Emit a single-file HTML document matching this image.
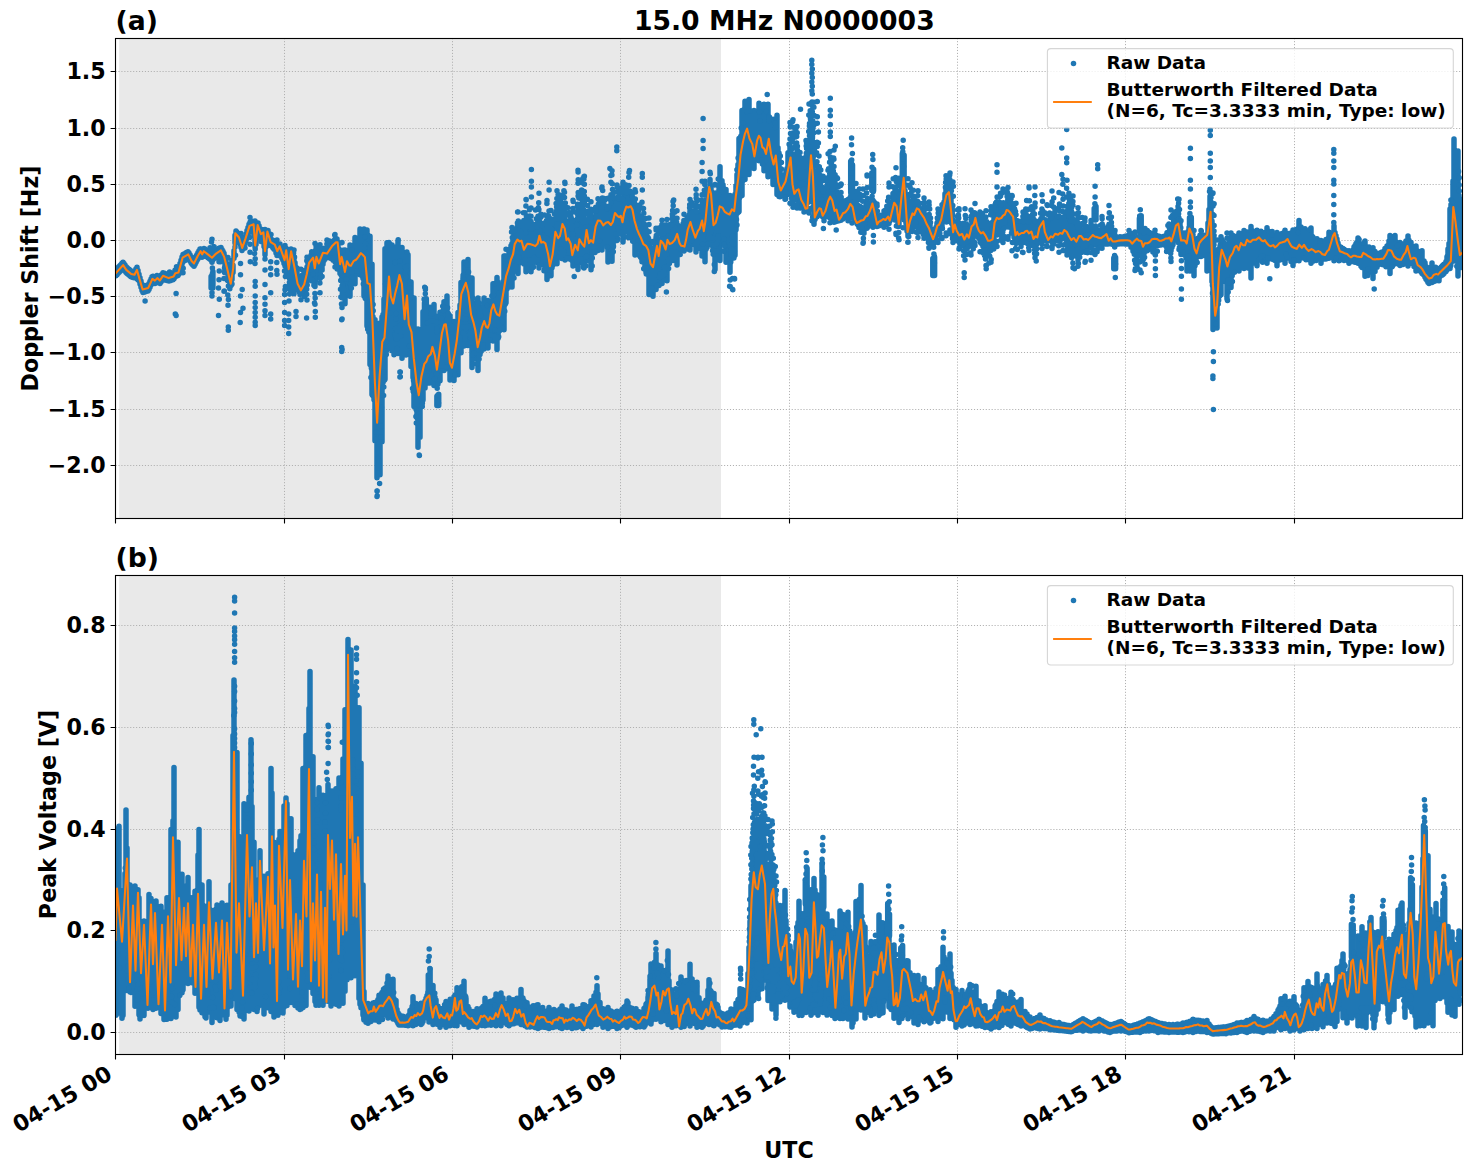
<!DOCTYPE html><html><head><meta charset="utf-8"><title>15.0 MHz N0000003</title><style>
html,body{margin:0;padding:0;background:#fff}svg{display:block}text{font-family:"DejaVu Sans","Liberation Sans",sans-serif;font-weight:bold;fill:#000}.tk text{font-size:22.2px}.lg text{font-size:18.5px}.ti{font-size:26.67px}.pl{font-size:26.67px}.al{font-size:22.2px}.b{stroke:#1f77b4;stroke-width:5.5;stroke-linecap:round;fill:none}.o{stroke:#ff7f0e;stroke-width:2.08;stroke-linejoin:round;stroke-linecap:square;fill:none}
</style></head><body>
<svg width="1471" height="1172" viewBox="0 0 1471 1172">
<rect width="1471" height="1172" fill="#fff"/>
<defs><clipPath id="c1"><rect x="115.5" y="38.5" width="1347" height="480"/></clipPath><clipPath id="c2"><rect x="115.5" y="575.5" width="1347" height="479"/></clipPath></defs>
<rect x="115.5" y="38.5" width="1347.0" height="480.0" fill="#fff"/><rect x="119.2" y="38.5" width="601.8" height="480.0" fill="#e9e9e9"/>
<g stroke="#b0b0b0" stroke-width="1" stroke-dasharray="1.11 1.83" fill="none"><path d="M284.5 518.5V38.5"/><path d="M452.5 518.5V38.5"/><path d="M620.5 518.5V38.5"/><path d="M789.5 518.5V38.5"/><path d="M957.5 518.5V38.5"/><path d="M1125.5 518.5V38.5"/><path d="M1294.5 518.5V38.5"/><path d="M115.5 71.5H1462.5"/><path d="M115.5 128.5H1462.5"/><path d="M115.5 184.5H1462.5"/><path d="M115.5 240.5H1462.5"/><path d="M115.5 296.5H1462.5"/><path d="M115.5 352.5H1462.5"/><path d="M115.5 409.5H1462.5"/><path d="M115.5 465.5H1462.5"/></g>
<g clip-path="url(#c1)"><path d="M116.0 269.8V275.8M117.0 268.6V274.7M118.0 267.6V273.6M119.0 266.5V272.5M120.0 265.4V271.4M121.0 264.4V270.3M122.0 263.2V269.3M123.0 262.2V268.1M124.0 263.5V269.5M125.0 265.0V270.9M126.0 266.4V272.4M127.0 267.4V273.5M128.0 268.4V274.3M129.0 269.2V275.1M130.0 270.0V276.0M131.0 270.9V276.8M132.0 271.2V277.2M133.0 271.4V277.4M134.0 271.5V277.7M135.0 270.6V276.9M136.0 268.7V275.0M137.0 267.2V273.9M138.0 270.6V277.3M139.0 274.2V280.6M140.0 277.7V284.0M141.0 280.9V287.3M142.0 284.2V290.5M143.0 286.3V292.5M144.0 286.0V292.2M145.0 285.7V291.9M146.0 285.5V291.6M147.0 285.3V291.3M148.0 285.0V291.1M149.0 283.5V289.5M150.0 281.2V287.3M151.0 279.0V285.1M152.0 276.8V282.9M153.0 276.2V282.4M154.0 276.9V283.0M155.0 277.3V283.5M156.0 276.4V282.6M157.0 275.5V281.8M158.0 275.8V282.2M159.0 276.8V283.0M160.0 277.1V283.4M161.0 275.6V281.9M162.0 274.2V280.5M163.0 272.7V279.2M164.0 273.1V279.3M165.0 273.4V279.9M166.0 273.7V280.3M167.0 274.1V280.6M168.0 274.4V280.8M169.0 274.5V281.1M170.0 274.3V280.7M171.0 274.1V280.4M172.0 273.8V280.0M173.0 273.4V279.7M174.0 272.4V278.7M175.0 270.3V276.9M176.0 269.7V276.1M177.0 269.5V275.9M178.0 269.0V275.6M179.0 267.4V273.9M180.0 263.6V270.7M181.0 260.3V267.5M182.0 256.9V264.3M183.0 254.5V262.1M184.0 254.0V260.8M185.0 253.4V260.4M186.0 252.8V259.8M187.0 252.2V258.6M188.0 251.7V258.0M189.0 252.9V259.1M190.0 254.8V260.9M191.0 256.7V262.8M192.0 258.2V264.3M193.0 259.2V265.3M194.0 260.3V266.3M195.0 258.3V264.4M196.0 256.3V262.6M197.0 254.4V260.6M198.0 252.4V258.7M199.0 250.7V256.9M200.0 249.1V255.6M201.0 249.0V255.3M202.0 250.8V257.3M203.0 249.7V256.1M204.0 248.4V254.6M205.0 249.1V255.7M206.0 249.9V256.4M207.0 250.6V256.9M208.0 251.4V257.7M209.0 252.2V258.5M210.0 252.8V259.2M211.0 253.2V260.0M212.0 253.6V260.6M213.0 253.1V259.7M214.0 252.4V258.8M215.0 251.4V258.2M216.0 250.5V257.8M217.0 249.7V257.7M218.0 249.0V257.7M219.0 248.3V257.0M220.0 247.8V256.1M221.0 247.4V257.6M222.0 249.4V259.1M223.0 251.2V259.5M224.0 253.2V261.5M225.0 256.7V266.2M226.0 260.5V268.7M227.0 264.3V272.8M228.0 267.8V277.0M229.0 272.1V280.8M230.0 276.0V284.4M231.0 277.4V285.6M232.0 272.1V279.4M233.0 265.3V272.6M234.0 250.8V258.2M235.0 235.2V243.1M236.0 231.1V238.8M237.0 232.2V239.3M238.0 233.3V240.0M239.0 234.5V241.9M240.0 237.6V244.3M241.0 240.6V247.4M242.0 244.0V250.4M243.0 241.9V248.6M244.0 239.6V246.0M245.0 236.9V243.6M246.0 233.9V241.0M247.0 230.6V238.0M248.0 227.4V234.8M249.0 224.2V231.6M250.0 222.2V231.3M251.0 221.8V231.7M252.0 221.6V231.3M253.0 221.4V229.4M254.0 226.2V235.9M255.0 238.3V246.6M256.0 234.6V244.6M257.0 227.3V236.3M258.0 223.1V231.7M259.0 225.8V232.6M260.0 228.5V235.5M261.0 230.9V237.2M262.0 230.3V237.7M263.0 229.7V237.0M264.0 235.8V243.8M265.0 247.2V254.8M266.0 239.8V246.7M267.0 232.2V239.3M268.0 230.4V238.6M269.0 233.6V241.2M270.0 236.7V243.4M271.0 238.9V245.6M272.0 239.8V246.5M273.0 240.2V248.0M274.0 240.8V249.2M275.0 241.9V249.2M276.0 244.5V253.3M277.0 247.2V255.6M278.0 246.3V254.3M279.0 244.5V254.5M280.0 244.1V252.1M281.0 246.8V256.1M282.0 249.4V258.4M283.0 252.1V260.2M284.0 254.9V263.5M285.0 253.7V266.0M286.0 248.4V262.7M287.0 252.4V272.4M288.0 259.6V273.4M289.0 261.2V277.4M290.0 255.3V269.0M291.0 249.0V265.4M292.0 252.0V275.3M293.0 255.7V270.7M294.0 260.4V275.7M295.0 262.7V278.9M296.0 267.2V281.8M297.0 272.3V287.4M298.0 276.3V289.3M299.0 280.2V291.7M300.0 282.7V294.5M301.0 282.0V294.3M302.0 282.2V293.5M303.0 278.8V294.0M304.0 277.1V290.3M305.0 273.6V292.0M306.0 270.9V287.9M307.0 267.0V281.0M308.0 262.9V279.2M309.0 258.1V273.2M310.0 257.8V274.5M311.0 255.3V274.8M312.0 254.4V277.5M313.0 253.0V271.2M314.0 257.5V279.7M315.0 260.4V286.4M316.0 254.3V280.0M317.0 254.1V275.8M318.0 256.5V275.2M319.0 257.8V272.2M320.0 254.9V269.0M321.0 252.1V267.4M322.0 251.3V267.4M323.0 248.6V264.3M324.0 248.5V260.5M325.0 248.6V259.2M326.0 248.5V257.8M327.0 248.5V257.1M328.0 247.9V257.3M329.0 245.4V256.9M330.0 245.2V255.0M331.0 243.2V256.5M332.0 242.3V256.3M333.0 241.4V255.4M334.0 240.5V256.5M335.0 239.2V255.0M336.0 238.4V255.8M337.0 238.9V257.7M338.0 242.2V259.2M339.0 248.9V265.8M340.0 257.6V273.6M341.0 253.6V274.7M342.0 253.9V281.1M343.0 256.0V282.3M344.0 260.3V285.9M345.0 249.9V303.8M346.0 252.0V273.2M347.0 251.3V286.1M348.0 250.5V282.2M349.0 250.3V280.5M350.0 244.9V296.2M351.0 251.8V281.5M352.0 255.2V273.3M353.0 247.0V271.8M354.0 245.1V270.4M355.0 237.4V283.8M356.0 242.9V272.0M357.0 246.8V267.3M358.0 242.5V270.5M359.0 238.5V264.2M360.0 228.9V274.8M361.0 246.0V271.6M362.0 237.3V267.4M363.0 248.8V278.5M364.0 229.0V295.9M365.0 250.3V293.9M366.0 247.7V291.3M367.0 230.0V325.9M368.0 266.2V322.9M369.0 270.3V328.9M370.0 236.2V364.6M371.0 283.6V356.7M372.0 264.2V394.6M373.0 316.7V369.3M374.0 322.1V399.8M375.0 319.8V440.7M376.0 368.2V426.4M377.0 339.8V477.7M378.0 379.1V452.6M379.0 356.5V455.7M380.0 323.0V474.7M381.0 336.7V404.9M382.0 317.0V441.7M383.0 314.6V382.4M384.0 299.1V368.5M385.0 248.7V379.2M386.0 287.0V336.6M387.0 242.7V349.2M388.0 258.7V319.9M389.0 242.5V341.0M390.0 268.8V306.6M391.0 259.1V321.4M392.0 245.0V350.8M393.0 265.6V320.7M394.0 247.0V354.8M395.0 265.3V330.3M396.0 260.2V308.3M397.0 263.3V326.1M398.0 241.6V353.4M399.0 268.2V324.2M400.0 267.9V321.9M401.0 263.0V334.1M402.0 247.6V358.2M403.0 271.9V342.3M404.0 277.0V337.7M405.0 287.2V336.1M406.0 252.8V355.0M407.0 283.7V328.5M408.0 254.8V351.0M409.0 294.5V339.0M410.0 301.9V343.2M411.0 281.9V366.5M412.0 310.2V367.1M413.0 336.3V377.4M414.0 297.9V406.5M415.0 333.7V390.9M416.0 347.2V405.6M417.0 349.3V417.7M418.0 329.1V447.2M419.0 360.6V429.0M420.0 331.1V437.2M421.0 344.6V401.3M422.0 335.4V397.2M423.0 311.7V399.9M424.0 337.1V380.8M425.0 310.7V387.9M426.0 338.4V370.1M427.0 328.7V369.8M428.0 309.2V383.0M429.0 329.1V367.7M430.0 307.2V383.0M431.0 324.9V359.0M432.0 332.7V357.3M433.0 325.2V366.9M434.0 304.4V385.4M435.0 341.4V372.3M436.0 336.8V368.6M437.0 338.6V372.0M438.0 316.3V382.7M439.0 333.2V373.5M440.0 312.3V380.7M441.0 328.6V362.7M442.0 324.4V351.7M443.0 314.9V350.9M444.0 301.8V370.6M445.0 307.0V342.0M446.0 310.6V339.2M447.0 296.1V368.4M448.0 320.0V359.8M449.0 325.8V356.8M450.0 315.8V379.9M451.0 346.9V372.8M452.0 341.5V373.6M453.0 341.0V365.9M454.0 321.5V380.4M455.0 332.7V363.4M456.0 328.0V355.7M457.0 328.2V360.2M458.0 312.4V374.8M459.0 314.8V340.5M460.0 305.1V328.2M461.0 282.4V352.8M462.0 288.1V331.5M463.0 277.9V312.9M464.0 262.0V346.1M465.0 265.8V320.9M466.0 267.0V308.4M467.0 268.7V326.3M468.0 259.6V345.4M469.0 282.6V323.5M470.0 284.5V323.8M471.0 287.9V328.3M472.0 277.9V367.4M473.0 302.5V352.5M474.0 306.0V346.2M475.0 311.0V347.3M476.0 306.3V357.7M477.0 312.0V358.9M478.0 298.0V370.5M479.0 318.9V352.0M480.0 322.0V354.6M481.0 314.5V351.4M482.0 306.7V343.9M483.0 313.2V339.3M484.0 298.0V348.9M485.0 307.4V342.2M486.0 315.4V339.9M487.0 310.9V341.1M488.0 300.5V348.1M489.0 316.8V340.3M490.0 308.5V336.1M491.0 311.8V333.3M492.0 300.8V332.6M493.0 283.8V340.9M494.0 297.4V323.3M495.0 292.6V325.3M496.0 290.3V332.4M497.0 277.4V349.5M498.0 289.3V338.6M499.0 297.7V328.2M500.0 292.3V327.5M501.0 292.3V325.0M502.0 286.4V317.7M503.0 281.6V312.2M504.0 255.9V329.8M505.0 271.7V300.3M506.0 270.3V302.8M507.0 264.0V289.0M508.0 260.4V284.3M509.0 252.1V287.0M510.0 249.3V274.9M511.0 249.5V268.1M512.0 243.6V286.9M513.0 239.1V261.8M514.0 234.8V262.9M515.0 236.2V268.4M516.0 230.2V262.0M517.0 227.2V253.9M518.0 225.5V273.6M519.0 228.2V252.9M520.0 231.4V250.8M521.0 232.4V262.4M522.0 229.9V255.7M523.0 232.8V256.0M524.0 226.5V264.1M525.0 234.8V257.1M526.0 237.2V271.7M527.0 232.7V260.2M528.0 232.2V266.7M529.0 226.4V266.4M530.0 227.7V255.5M531.0 231.4V271.7M532.0 233.9V261.0M533.0 229.5V262.1M534.0 230.1V254.8M535.0 231.0V255.7M536.0 228.5V260.9M537.0 230.1V262.4M538.0 228.3V257.1M539.0 219.5V267.9M540.0 225.5V261.7M541.0 227.5V258.0M542.0 230.2V257.2M543.0 235.0V262.5M544.0 226.5V265.0M545.0 233.9V265.6M546.0 238.5V260.5M547.0 237.6V279.4M548.0 237.0V272.2M549.0 235.1V264.6M550.0 235.9V265.9M551.0 233.4V275.7M552.0 241.3V267.8M553.0 235.5V265.0M554.0 224.6V255.9M555.0 232.1V252.1M556.0 225.6V250.8M557.0 221.5V263.8M558.0 226.0V252.8M559.0 223.4V252.4M560.0 222.8V255.7M561.0 216.0V245.6M562.0 220.2V254.6M563.0 211.9V252.4M564.0 215.8V249.7M565.0 219.9V260.1M566.0 221.2V252.1M567.0 221.0V252.9M568.0 224.9V253.7M569.0 230.6V258.7M570.0 222.8V259.3M571.0 230.2V257.5M572.0 237.4V260.4M573.0 236.7V266.1M574.0 231.8V260.9M575.0 220.6V256.9M576.0 227.9V255.1M577.0 231.2V259.9M578.0 213.8V269.4M579.0 211.5V262.8M580.0 217.3V258.1M581.0 223.5V254.1M582.0 213.3V254.8M583.0 227.2V258.2M584.0 213.4V267.9M585.0 222.2V258.3M586.0 224.5V254.7M587.0 228.1V252.0M588.0 227.4V260.4M589.0 222.7V256.1M590.0 226.7V261.3M591.0 221.9V269.7M592.0 225.5V250.1M593.0 219.7V246.5M594.0 221.6V249.8M595.0 216.4V252.5M596.0 215.0V248.6M597.0 214.4V235.0M598.0 208.7V250.5M599.0 207.3V238.0M600.0 205.9V230.0M601.0 203.4V239.3M602.0 204.2V250.1M603.0 205.9V244.0M604.0 204.6V241.3M605.0 206.5V238.0M606.0 208.1V232.3M607.0 211.8V244.7M608.0 212.7V261.9M609.0 213.4V250.1M610.0 206.1V251.4M611.0 205.2V249.5M612.0 197.3V261.2M613.0 200.7V247.4M614.0 200.7V241.5M615.0 201.1V236.8M616.0 202.4V230.6M617.0 201.5V240.4M618.0 205.3V224.9M619.0 199.7V227.3M620.0 201.1V227.3M621.0 204.7V226.9M622.0 200.3V228.7M623.0 204.2V241.9M624.0 197.0V230.6M625.0 195.3V222.2M626.0 195.4V222.5M627.0 196.1V217.2M628.0 192.2V218.9M629.0 196.8V237.7M630.0 191.3V230.9M631.0 196.2V228.0M632.0 202.8V227.6M633.0 201.1V237.5M634.0 201.5V233.3M635.0 205.5V254.9M636.0 208.0V240.8M637.0 212.7V238.5M638.0 212.4V239.6M639.0 215.3V246.1M640.0 221.4V243.5M641.0 223.7V252.2M642.0 220.6V261.7M643.0 232.5V251.0M644.0 235.3V254.0M645.0 237.4V266.9M646.0 241.2V272.0M647.0 239.1V265.4M648.0 237.6V268.6M649.0 241.1V294.6M650.0 247.0V283.2M651.0 256.9V285.2M652.0 258.4V282.6M653.0 259.6V296.2M654.0 255.9V280.2M655.0 247.7V280.6M656.0 237.9V289.4M657.0 242.2V280.1M658.0 247.8V270.7M659.0 244.3V285.4M660.0 245.4V268.4M661.0 239.5V262.7M662.0 236.0V283.4M663.0 236.4V273.6M664.0 236.1V268.3M665.0 231.4V262.6M666.0 232.4V261.0M667.0 231.7V280.8M668.0 234.4V255.3M669.0 232.9V254.8M670.0 224.6V255.9M671.0 227.1V249.0M672.0 228.2V251.0M673.0 219.4V260.4M674.0 220.4V249.8M675.0 221.4V253.5M676.0 227.3V248.7M677.0 229.2V265.0M678.0 225.6V248.3M679.0 226.0V250.5M680.0 233.5V248.5M681.0 234.5V250.1M682.0 232.0V249.8M683.0 232.5V250.6M684.0 237.3V251.0M685.0 229.4V248.4M686.0 230.5V245.2M687.0 223.6V243.1M688.0 219.0V243.5M689.0 215.0V243.3M690.0 211.1V250.1M691.0 213.2V233.1M692.0 211.8V235.0M693.0 211.0V237.5M694.0 212.1V239.5M695.0 211.9V245.1M696.0 215.2V252.0M697.0 218.4V244.9M698.0 212.2V245.7M699.0 217.2V241.2M700.0 218.1V248.5M701.0 214.4V243.3M702.0 214.3V255.9M703.0 214.4V240.7M704.0 223.0V247.8M705.0 211.8V261.8M706.0 209.2V249.2M707.0 204.7V247.5M708.0 195.9V222.6M709.0 189.7V222.8M710.0 179.6V244.4M711.0 187.2V223.0M712.0 192.0V224.2M713.0 198.8V247.6M714.0 208.4V244.1M715.0 215.4V269.5M716.0 203.8V247.9M717.0 199.8V234.4M718.0 197.6V232.0M719.0 189.2V225.0M720.0 166.8V260.6M721.0 184.2V239.0M722.0 180.8V226.0M723.0 184.7V242.0M724.0 188.6V235.7M725.0 199.1V241.3M726.0 189.4V262.3M727.0 201.6V245.2M728.0 201.7V237.3M729.0 209.2V253.9M730.0 195.4V272.3M731.0 206.4V247.3M732.0 207.4V232.4M733.0 206.8V232.0M734.0 202.8V238.3M735.0 194.2V255.2M736.0 185.7V229.7M737.0 174.5V213.5M738.0 164.6V207.2M739.0 138.5V211.6M740.0 145.5V191.5M741.0 142.4V171.0M742.0 110.5V195.6M743.0 128.5V174.6M744.0 124.1V150.1M745.0 101.2V179.6M746.0 115.8V154.2M747.0 114.9V162.3M748.0 111.5V147.1M749.0 99.5V174.6M750.0 115.9V148.4M751.0 124.0V155.5M752.0 117.9V158.9M753.0 135.5V162.2M754.0 110.5V168.6M755.0 130.0V160.0M756.0 127.3V159.5M757.0 121.5V151.7M758.0 116.5V153.3M759.0 103.3V160.7M760.0 125.6V153.8M761.0 129.6V157.6M762.0 123.8V157.6M763.0 122.7V159.1M764.0 104.3V170.7M765.0 122.8V160.0M766.0 117.5V166.7M767.0 125.7V166.3M768.0 104.3V176.7M769.0 122.8V160.1M770.0 131.8V170.6M771.0 136.3V164.8M772.0 129.5V174.4M773.0 119.2V184.5M774.0 147.1V179.5M775.0 134.3V173.1M776.0 142.6V175.4M777.0 115.2V194.5M778.0 147.8V185.9M779.0 153.0V196.5M780.0 169.5V196.7M781.0 179.0V195.2M782.0 176.6V195.2M783.0 177.4V193.7M784.0 179.2V195.0M785.0 174.4V199.2M786.0 170.5V189.7M787.0 168.4V193.2M788.0 152.8V194.4M789.0 160.1V182.3M790.0 145.3V180.3M791.0 147.4V191.9M792.0 167.7V195.0M793.0 159.2V198.1M794.0 172.0V199.9M795.0 160.9V194.3M796.0 166.8V191.6M797.0 158.1V193.4M798.0 166.6V198.0M799.0 170.8V202.3M800.0 190.3V208.0M801.0 187.0V207.9M802.0 179.7V207.8M803.0 178.6V206.9M804.0 180.9V207.3M805.0 181.6V205.9M806.0 170.7V205.4M807.0 165.5V203.2M808.0 157.4V202.2M809.0 152.9V202.0M810.0 143.3V189.8M811.0 138.4V179.9M812.0 139.0V188.5M813.0 149.7V198.2M814.0 184.5V224.2M815.0 171.3V219.5M816.0 185.2V216.2M817.0 189.4V211.7M818.0 180.5V212.3M819.0 182.5V213.3M820.0 189.8V212.9M821.0 192.0V215.5M822.0 189.8V216.3M823.0 197.8V217.1M824.0 194.6V216.2M825.0 197.5V215.9M826.0 195.0V212.5M827.0 185.7V213.7M828.0 185.3V211.9M829.0 185.9V208.2M830.0 179.8V208.3M831.0 180.5V209.4M832.0 188.1V214.5M833.0 194.5V219.4M834.0 188.2V222.2M835.0 188.6V221.9M836.0 195.2V221.5M837.0 192.0V221.2M838.0 199.9V220.9M839.0 203.2V220.8M840.0 208.1V220.4M841.0 209.9V220.2M842.0 208.5V219.6M843.0 207.7V218.9M844.0 208.1V217.9M845.0 207.4V216.8M846.0 206.1V216.4M847.0 206.9V216.4M848.0 205.3V213.8M849.0 203.5V214.1M850.0 201.5V212.6M851.0 198.4V211.2M852.0 198.4V209.3M853.0 199.8V212.7M854.0 201.1V215.3M855.0 207.0V219.7M856.0 207.5V221.1M857.0 212.3V223.8M858.0 211.2V225.0M859.0 209.5V227.5M860.0 212.6V227.6M861.0 211.9V228.7M862.0 217.9V230.8M863.0 217.2V231.3M864.0 211.1V230.5M865.0 210.6V225.7M866.0 205.0V224.1M867.0 202.0V221.1M868.0 203.4V220.0M869.0 204.1V218.6M870.0 202.7V218.4M871.0 202.7V214.1M872.0 200.2V213.4M873.0 202.5V212.7M874.0 205.7V217.8M875.0 208.5V221.2M876.0 214.2V223.8M877.0 217.4V226.4M878.0 217.4V226.2M879.0 217.0V225.7M880.0 216.2V225.4M881.0 215.2V224.2M882.0 215.2V224.3M883.0 215.4V224.2M884.0 215.5V223.1M885.0 213.5V223.9M886.0 212.2V223.3M887.0 210.1V224.4M888.0 207.7V223.0M889.0 212.0V223.6M890.0 203.5V220.7M891.0 204.0V217.0M892.0 201.4V217.7M893.0 193.5V216.8M894.0 193.3V209.5M895.0 190.0V210.3M896.0 189.7V212.4M897.0 197.6V214.6M898.0 201.5V222.9M899.0 210.8V226.3M900.0 198.7V216.4M901.0 190.5V211.2M902.0 183.2V205.5M903.0 174.8V198.5M904.0 181.9V198.5M905.0 190.7V213.6M906.0 202.6V223.4M907.0 212.1V231.0M908.0 213.7V236.2M909.0 212.4V231.3M910.0 211.2V225.4M911.0 204.4V222.1M912.0 202.4V219.7M913.0 201.4V221.0M914.0 206.0V220.8M915.0 204.1V221.4M916.0 205.0V219.5M917.0 207.2V223.0M918.0 208.1V224.8M919.0 209.9V225.2M920.0 209.0V222.9M921.0 209.4V224.3M922.0 212.1V226.9M923.0 212.0V225.6M924.0 213.3V224.9M925.0 215.5V228.7M926.0 215.1V230.3M927.0 218.3V234.6M928.0 220.3V236.7M929.0 224.8V240.8M930.0 225.3V240.3M931.0 229.1V242.0M932.0 231.9V242.1M933.0 235.9V244.0M934.0 235.8V243.3M935.0 231.2V240.6M936.0 227.2V236.0M937.0 222.9V234.4M938.0 218.7V229.0M939.0 215.9V230.1M940.0 216.0V229.5M941.0 215.3V227.1M942.0 214.2V226.3M943.0 209.3V220.4M944.0 201.9V215.3M945.0 193.7V210.4M946.0 186.9V209.6M947.0 187.7V206.4M948.0 185.8V205.0M949.0 187.5V207.2M950.0 187.7V203.5M951.0 198.5V219.3M952.0 207.4V224.1M953.0 219.8V236.0M954.0 221.2V236.5M955.0 221.7V237.1M956.0 224.4V238.0M957.0 222.7V239.8M958.0 228.6V241.0M959.0 228.7V241.8M960.0 230.9V243.6M961.0 227.3V241.7M962.0 228.5V241.9M963.0 228.2V241.8M964.0 225.7V245.9M965.0 228.2V243.4M966.0 228.0V242.9M967.0 225.7V242.8M968.0 226.2V242.4M969.0 229.5V245.1M970.0 226.3V243.9M971.0 225.3V240.1M972.0 222.8V239.7M973.0 223.3V238.1M974.0 217.1V234.2M975.0 216.9V229.7M976.0 217.1V233.2M977.0 217.8V231.2M978.0 219.6V234.1M979.0 223.2V236.7M980.0 225.1V239.6M981.0 227.2V240.0M982.0 229.4V244.3M983.0 229.1V246.5M984.0 230.4V247.0M985.0 231.3V247.9M986.0 230.9V249.8M987.0 229.9V249.8M988.0 228.9V246.5M989.0 230.3V243.2M990.0 228.5V242.5M991.0 228.8V244.0M992.0 225.7V242.1M993.0 221.8V237.8M994.0 217.8V235.9M995.0 210.5V228.2M996.0 211.8V224.7M997.0 206.6V227.2M998.0 204.2V227.6M999.0 208.7V221.9M1000.0 206.8V224.2M1001.0 210.7V225.2M1002.0 206.2V225.5M1003.0 208.7V228.7M1004.0 205.2V224.7M1005.0 207.3V225.3M1006.0 205.5V222.3M1007.0 202.7V221.3M1008.0 202.2V222.4M1009.0 202.9V222.4M1010.0 204.8V218.0M1011.0 204.4V220.4M1012.0 205.9V224.5M1013.0 213.0V231.2M1014.0 217.5V237.2M1015.0 221.7V240.3M1016.0 223.7V243.4M1017.0 227.4V242.6M1018.0 224.6V242.4M1019.0 224.4V240.0M1020.0 226.8V241.7M1021.0 224.1V239.2M1022.0 226.0V238.0M1023.0 226.4V237.1M1024.0 226.0V238.7M1025.0 223.7V240.0M1026.0 223.7V240.3M1027.0 219.9V239.1M1028.0 224.9V239.7M1029.0 225.7V241.2M1030.0 226.0V241.8M1031.0 224.7V243.5M1032.0 218.3V241.4M1033.0 219.6V243.4M1034.0 219.6V243.0M1035.0 228.3V244.2M1036.0 222.4V246.0M1037.0 226.5V244.0M1038.0 221.4V243.1M1039.0 224.9V241.6M1040.0 220.3V237.1M1041.0 218.6V238.0M1042.0 219.3V235.7M1043.0 224.3V237.5M1044.0 223.8V237.8M1045.0 221.8V239.0M1046.0 228.4V240.5M1047.0 227.4V241.2M1048.0 223.7V241.1M1049.0 227.8V239.3M1050.0 222.4V239.5M1051.0 218.7V239.9M1052.0 223.7V237.9M1053.0 222.0V237.1M1054.0 217.9V239.7M1055.0 219.7V238.9M1056.0 223.4V240.5M1057.0 219.7V238.1M1058.0 222.3V240.8M1059.0 221.6V240.4M1060.0 222.9V241.1M1061.0 217.7V238.5M1062.0 220.1V237.2M1063.0 217.8V238.6M1064.0 216.8V236.1M1065.0 220.5V239.1M1066.0 211.8V239.1M1067.0 214.0V234.7M1068.0 214.7V241.8M1069.0 222.1V239.9M1070.0 221.3V240.4M1071.0 223.8V244.7M1072.0 223.1V245.0M1073.0 225.6V245.8M1074.0 226.9V246.0M1075.0 225.1V250.7M1076.0 226.0V248.7M1077.0 228.8V250.4M1078.0 231.2V250.1M1079.0 231.4V247.0M1080.0 228.3V249.0M1081.0 233.3V248.4M1082.0 230.3V248.4M1083.0 230.5V247.5M1084.0 233.8V249.3M1085.0 232.2V249.6M1086.0 232.9V245.2M1087.0 231.1V246.7M1088.0 232.7V248.3M1089.0 232.5V246.3M1090.0 232.7V247.5M1091.0 230.3V245.2M1092.0 230.1V245.6M1093.0 232.6V244.3M1094.0 231.8V244.8M1095.0 232.1V243.3M1096.0 230.3V242.3M1097.0 231.3V245.2M1098.0 232.7V243.4M1099.0 230.3V243.9M1100.0 233.2V243.4M1101.0 231.1V243.5M1102.0 230.5V243.6M1103.0 231.1V243.2M1104.0 233.4V244.1M1105.0 232.0V243.9M1106.0 228.5V243.0M1107.0 230.4V243.9M1108.0 226.8V243.9M1109.0 228.2V243.5M1110.0 229.8V243.7M1111.0 232.3V243.5M1112.0 233.5V244.3M1113.0 235.3V244.4M1114.0 236.4V244.5M1115.0 236.5V244.6M1116.0 236.4V244.4M1117.0 237.4V244.1M1118.0 237.2V244.1M1119.0 237.1V243.9M1120.0 236.7V243.8M1121.0 237.1V243.8M1122.0 237.1V243.7M1123.0 237.0V243.6M1124.0 236.8V243.8M1125.0 236.3V243.9M1126.0 236.7V244.1M1127.0 236.0V243.9M1128.0 235.6V243.7M1129.0 235.5V244.2M1130.0 236.7V244.8M1131.0 236.4V247.2M1132.0 237.6V247.4M1133.0 236.7V251.3M1134.0 238.0V251.7M1135.0 239.2V254.1M1136.0 238.9V249.8M1137.0 237.4V253.1M1138.0 237.0V249.9M1139.0 236.6V250.8M1140.0 235.9V252.1M1141.0 235.4V249.0M1142.0 236.2V250.3M1143.0 235.8V249.0M1144.0 234.8V250.4M1145.0 235.7V246.2M1146.0 235.2V248.6M1147.0 236.1V248.5M1148.0 236.1V246.4M1149.0 235.9V249.6M1150.0 236.3V248.5M1151.0 235.6V248.1M1152.0 235.4V245.6M1153.0 235.5V245.6M1154.0 235.6V247.6M1155.0 236.0V245.6M1156.0 235.5V244.9M1157.0 236.0V245.9M1158.0 236.1V244.6M1159.0 236.4V245.2M1160.0 236.5V245.0M1161.0 236.7V245.0M1162.0 237.1V244.5M1163.0 237.2V244.3M1164.0 236.2V244.1M1165.0 236.3V245.2M1166.0 235.2V245.0M1167.0 232.8V246.4M1168.0 234.9V246.0M1169.0 234.8V246.0M1170.0 231.0V248.2M1171.0 231.4V247.4M1172.0 231.4V247.2M1173.0 229.2V244.7M1174.0 226.5V239.3M1175.0 219.8V240.2M1176.0 221.0V239.2M1177.0 215.9V236.3M1178.0 213.3V235.8M1179.0 218.0V232.7M1180.0 220.7V242.5M1181.0 232.3V254.5M1182.0 233.9V250.9M1183.0 233.8V250.2M1184.0 233.0V254.8M1185.0 234.9V249.1M1186.0 236.1V257.7M1187.0 234.0V270.9M1188.0 231.5V254.8M1189.0 227.5V253.1M1190.0 223.5V270.9M1191.0 227.1V255.1M1192.0 233.6V259.8M1193.0 239.8V256.9M1194.0 244.8V275.7M1195.0 243.7V265.7M1196.0 241.2V261.4M1197.0 241.1V255.8M1198.0 238.2V256.7M1199.0 237.4V250.7M1200.0 235.3V251.1M1201.0 234.9V256.5M1202.0 235.3V250.8M1203.0 235.2V253.9M1204.0 235.2V253.3M1205.0 235.4V255.8M1206.0 235.2V251.6M1207.0 234.9V270.9M1208.0 223.1V247.4M1209.0 209.5V243.6M1210.0 196.2V261.7M1211.0 202.0V254.7M1212.0 220.9V281.7M1213.0 259.0V329.4M1214.0 270.7V323.5M1215.0 270.2V321.6M1216.0 263.7V313.3M1217.0 271.9V328.1M1218.0 274.8V300.0M1219.0 253.2V289.9M1220.0 247.1V283.0M1221.0 236.8V294.8M1222.0 239.4V264.1M1223.0 241.3V264.3M1224.0 242.8V268.0M1225.0 244.4V278.7M1226.0 243.7V282.1M1227.0 245.0V298.7M1228.0 251.1V276.4M1229.0 244.3V265.9M1230.0 239.2V274.2M1231.0 232.9V287.4M1232.0 235.4V271.9M1233.0 235.5V264.2M1234.0 237.3V267.4M1235.0 236.2V268.9M1236.0 239.6V269.2M1237.0 239.5V263.3M1238.0 238.2V262.0M1239.0 232.9V270.9M1240.0 239.4V263.7M1241.0 236.3V262.6M1242.0 235.7V260.6M1243.0 234.6V259.7M1244.0 230.4V268.4M1245.0 231.5V256.1M1246.0 231.8V256.6M1247.0 233.9V257.2M1248.0 235.5V267.9M1249.0 232.1V258.2M1250.0 233.6V262.3M1251.0 226.6V278.1M1252.0 234.8V254.3M1253.0 234.6V261.6M1254.0 231.6V263.1M1255.0 234.9V262.6M1256.0 232.2V256.9M1257.0 230.3V265.8M1258.0 232.6V253.8M1259.0 231.6V256.1M1260.0 234.6V258.9M1261.0 231.2V251.4M1262.0 234.8V250.2M1263.0 235.0V250.4M1264.0 234.0V258.9M1265.0 232.5V256.0M1266.0 233.3V254.2M1267.0 227.8V263.3M1268.0 234.2V254.7M1269.0 236.7V255.8M1270.0 232.4V258.8M1271.0 235.5V254.1M1272.0 238.4V256.1M1273.0 234.9V259.4M1274.0 236.8V256.6M1275.0 237.5V260.4M1276.0 235.4V257.0M1277.0 232.6V265.7M1278.0 236.2V260.2M1279.0 238.9V258.0M1280.0 239.5V260.0M1281.0 235.0V258.8M1282.0 233.6V251.9M1283.0 236.2V250.9M1284.0 234.4V249.9M1285.0 230.3V263.3M1286.0 235.8V251.1M1287.0 235.3V251.1M1288.0 236.7V258.0M1289.0 233.4V256.0M1290.0 233.6V256.1M1291.0 238.7V261.4M1292.0 235.4V257.9M1293.0 230.0V265.6M1294.0 237.8V254.9M1295.0 235.4V261.1M1296.0 229.5V260.0M1297.0 230.7V257.9M1298.0 235.0V253.1M1299.0 220.4V260.8M1300.0 234.5V254.8M1301.0 226.9V254.5M1302.0 228.5V257.8M1303.0 228.9V254.0M1304.0 237.6V254.7M1305.0 228.8V255.8M1306.0 233.5V259.7M1307.0 232.1V257.8M1308.0 236.6V259.6M1309.0 233.3V257.9M1310.0 232.0V259.1M1311.0 228.1V263.2M1312.0 236.1V257.3M1313.0 237.3V261.3M1314.0 239.7V260.6M1315.0 238.7V257.4M1316.0 242.1V257.9M1317.0 238.8V257.8M1318.0 241.7V258.4M1319.0 242.7V258.5M1320.0 243.6V258.9M1321.0 240.5V263.2M1322.0 242.5V259.4M1323.0 245.2V259.1M1324.0 241.6V258.1M1325.0 242.7V259.1M1326.0 239.6V259.1M1327.0 245.5V257.2M1328.0 244.4V257.9M1329.0 232.3V258.3M1330.0 236.8V253.9M1331.0 233.9V252.1M1332.0 234.5V251.5M1333.0 232.5V253.3M1334.0 226.1V260.7M1335.0 232.5V250.2M1336.0 235.8V252.7M1337.0 239.0V253.1M1338.0 243.0V255.0M1339.0 245.7V260.7M1340.0 247.1V259.5M1341.0 247.2V259.1M1342.0 248.3V258.4M1343.0 248.5V259.9M1344.0 249.2V260.5M1345.0 249.9V259.7M1346.0 250.5V259.1M1347.0 250.9V259.2M1348.0 251.1V261.0M1349.0 250.7V263.2M1350.0 251.0V261.6M1351.0 251.3V260.7M1352.0 251.0V260.3M1353.0 250.1V261.4M1354.0 247.1V262.0M1355.0 245.4V262.2M1356.0 243.6V260.9M1357.0 242.3V261.7M1358.0 238.1V263.2M1359.0 244.8V263.2M1360.0 246.1V262.8M1361.0 243.9V266.3M1362.0 247.7V267.4M1363.0 247.7V262.8M1364.0 248.9V263.3M1365.0 241.0V276.2M1366.0 247.9V268.5M1367.0 250.2V267.4M1368.0 249.0V266.2M1369.0 246.9V267.7M1370.0 249.0V271.9M1371.0 250.8V271.6M1372.0 252.0V268.8M1373.0 247.8V278.4M1374.0 253.2V271.1M1375.0 251.6V271.6M1376.0 253.1V265.1M1377.0 254.0V267.3M1378.0 253.9V265.0M1379.0 255.3V263.5M1380.0 253.1V263.4M1381.0 252.5V263.5M1382.0 251.9V264.4M1383.0 252.2V263.0M1384.0 250.9V265.1M1385.0 248.4V263.4M1386.0 248.5V266.7M1387.0 245.9V263.8M1388.0 245.2V262.8M1389.0 240.9V264.0M1390.0 235.6V273.4M1391.0 240.7V259.9M1392.0 245.4V263.0M1393.0 244.4V265.3M1394.0 239.1V262.2M1395.0 235.4V263.7M1396.0 241.7V262.6M1397.0 249.5V263.2M1398.0 248.9V263.7M1399.0 246.9V264.5M1400.0 242.6V265.6M1401.0 246.5V264.6M1402.0 249.0V264.2M1403.0 247.4V264.4M1404.0 243.7V263.4M1405.0 244.1V263.5M1406.0 241.0V259.8M1407.0 243.0V262.2M1408.0 236.0V266.1M1409.0 240.3V257.2M1410.0 244.7V262.3M1411.0 242.5V262.1M1412.0 246.3V263.4M1413.0 250.2V263.9M1414.0 250.6V266.5M1415.0 247.3V265.2M1416.0 245.9V271.0M1417.0 250.5V267.9M1418.0 251.9V270.2M1419.0 257.9V270.4M1420.0 254.5V271.1M1421.0 254.1V271.7M1422.0 250.7V273.4M1423.0 261.9V274.2M1424.0 261.0V275.3M1425.0 262.7V277.2M1426.0 266.6V279.2M1427.0 269.9V280.6M1428.0 272.9V282.5M1429.0 267.9V283.5M1430.0 268.4V282.8M1431.0 267.5V281.9M1432.0 262.9V282.5M1433.0 266.9V281.5M1434.0 268.8V281.5M1435.0 268.8V280.8M1436.0 270.1V280.8M1437.0 269.8V279.6M1438.0 269.9V279.8M1439.0 268.5V280.8M1440.0 268.8V276.6M1441.0 267.3V275.6M1442.0 266.2V275.3M1443.0 264.9V274.6M1444.0 264.2V273.4M1445.0 263.4V271.4M1446.0 261.5V271.5M1447.0 256.6V269.8M1448.0 249.0V268.9M1449.0 243.4V267.9M1450.0 208.9V268.5M1451.0 204.6V262.5M1452.0 214.0V258.6M1453.0 180.9V250.6M1454.0 139.1V260.9M1455.0 182.1V239.5M1456.0 191.6V248.0M1457.0 182.1V253.2M1458.0 151.0V276.0M1459.0 195.2V266.1M1460.0 198.7V264.1M1461.0 223.2V267.4M211.1 276.6V287.9M212.9 271.4V287.9M850.7 161.2V192.6M852.5 165.0V192.6M871.8 173.1V190.4M873.6 169.2V190.4M902.3 153.8V179.5M904.1 155.2V179.5M932.8 258.4V275.6M934.6 256.7V275.6M1094.2 208.5V219.8M1096.0 206.5V219.8M1113.8 258.1V268.8M1115.6 257.6V268.8M1139.4 218.4V231.6M1141.2 215.7V231.6M1189.5 217.8V232.8M1191.3 217.8V232.8M424.5 302.8V311.8M426.3 298.8V311.8M436.9 396.2V405.5M438.7 394.2V405.5" class="b"/><path d="M145.1 300.9h0M176.1 293.6h0M176.1 315.6h0M175.3 314.0h0M212.0 296.1h0M212.0 292.8h0M218.5 287.9h0M219.3 299.3h0M218.5 315.6h0M228.3 327.1h0M228.3 330.3h0M240.5 263.4h0M240.5 274.8h0M242.2 289.5h0M240.5 296.1h0M243.0 308.3h0M240.5 312.4h0M240.2 322.5h0M250.3 261.8h0M255.2 281.4h0M255.2 286.3h0M255.2 296.1h0M255.2 302.6h0M255.2 307.5h0M255.2 312.4h0M255.2 317.3h0M255.2 322.2h0M255.2 325.4h0M265.0 269.9h0M265.0 284.6h0M265.0 297.7h0M265.0 304.2h0M265.0 310.7h0M265.0 315.6h0M270.7 261.8h0M270.7 268.3h0M270.7 274.8h0M270.7 292.8h0M270.7 314.0h0M270.7 318.9h0M284.6 294.4h0M284.6 302.6h0M284.6 312.4h0M284.6 320.5h0M284.6 325.4h0M288.7 314.0h0M288.7 320.5h0M288.7 327.1h0M288.7 333.6h0M296.0 311.6h0M296.0 316.4h0M306.6 318.1h0M315.3 311.6h0M315.3 317.3h0M341.7 319.7h0M341.7 347.4h0M341.7 351.5h0M377.0 491.1h0M377.0 496.4h0M400.3 372.0h0M400.3 376.8h0M419.4 455.4h0M424.7 287.3h0M424.1 299.2h0M342.1 319.1h0M342.1 349.5h0M531.4 169.5h0M531.4 181.2h0M531.4 187.1h0M531.4 196.9h0M574.2 276.4h0M616.8 146.9h0M616.8 150.8h0M642.3 173.4h0M642.3 177.3h0M642.3 190.1h0M666.4 292.1h0M703.1 118.5h0M703.1 140.6h0M703.1 148.5h0M702.1 162.6h0M702.1 171.4h0M702.1 181.2h0M549.1 182.2h0M549.1 190.1h0M564.8 182.2h0M564.8 207.7h0M609.9 168.5h0M610.9 175.4h0M610.9 182.2h0M629.5 170.5h0M714.3 264.6h0M714.3 271.5h0M732.5 278.4h0M734.5 278.4h0M729.6 286.2h0M732.5 289.2h0M584.4 176.3h0M584.4 184.2h0M673.7 199.9h0M730.2 280.0h0M734.6 278.9h0M730.2 286.5h0M732.8 289.8h0M767.2 94.6h0M800.5 109.2h0M780.3 156.0h0M781.4 162.5h0M781.4 169.0h0M804.2 158.1h0M804.2 166.8h0M804.2 175.5h0M804.2 184.3h0M811.8 60.2h0M811.8 64.6h0M812.3 68.9h0M811.8 73.3h0M812.3 77.6h0M811.8 82.0h0M812.3 86.3h0M811.8 90.7h0M812.3 94.0h0M817.3 101.6h0M817.3 116.8h0M817.3 123.3h0M818.4 132.0h0M818.4 142.9h0M819.0 156.0h0M823.4 228.4h0M830.3 98.3h0M830.3 110.3h0M830.3 115.7h0M830.3 124.4h0M830.3 132.0h0M830.3 136.4h0M835.3 146.2h0M836.2 229.9h0M873.4 235.4h0M873.4 241.9h0M828.1 153.8h0M833.6 158.1h0M821.6 199.5h0M841.2 184.3h0M841.2 197.3h0M964.2 272.7h0M964.2 277.6h0M997.0 164.8h0M997.0 172.2h0M1061.8 148.1h0M1061.8 174.6h0M1066.7 129.4h0M1066.7 157.9h0M1066.7 162.8h0M1095.1 186.3h0M1097.7 164.8h0M1097.7 168.7h0M1115.3 277.6h0M1155.4 255.0h0M1155.4 260.9h0M1155.4 268.8h0M1155.4 275.6h0M1141.2 272.7h0M986.2 268.8h0M989.2 262.9h0M1074.5 268.8h0M1036.2 260.9h0M1181.4 260.8h0M1181.4 268.5h0M1181.4 276.2h0M1181.4 289.0h0M1181.4 299.3h0M1190.4 148.2h0M1190.4 158.4h0M1190.4 180.2h0M1190.4 189.1h0M1190.4 201.9h0M1210.3 130.2h0M1210.3 135.4h0M1210.3 153.3h0M1210.3 161.0h0M1210.3 167.4h0M1210.3 177.6h0M1213.4 351.8h0M1213.4 361.5h0M1212.9 376.1h0M1212.9 378.6h0M1213.4 409.4h0M1269.8 278.8h0M1333.8 149.4h0M1333.8 153.3h0M1333.8 161.0h0M1333.8 167.4h0M1333.8 180.2h0M1333.8 184.0h0M1333.8 195.5h0M1333.8 204.5h0M1333.8 214.8h0M1333.8 222.4h0M1374.2 289.0h0M1227.5 300.5h0M377.2 490.9h0M377.2 495.8h0M399.9 372.1h0M399.9 377.0h0M419.2 455.0h0M425.4 288.0h0M424.2 299.1h0M438.5 403.0h0M398.2 239.7h0M406.9 252.1h0M379.6 483.4h0M137.1 277.1h0M137.0 278.8h0M137.9 279.8h0M169.6 272.0h0M176.5 266.7h0M183.2 268.2h0M183.0 272.8h0M210.4 250.2h0M210.0 247.8h0M212.0 249.1h0M211.5 242.1h0M212.0 239.3h0M214.1 246.8h0M214.0 246.7h0M219.0 261.7h0M219.2 271.0h0M219.0 279.8h0M220.6 261.8h0M224.5 267.9h0M224.5 272.4h0M224.0 278.6h0M224.3 291.1h0M224.0 291.2h0M224.5 271.8h0M227.5 264.5h0M228.0 257.4h0M227.6 280.4h0M228.4 285.9h0M227.8 295.0h0M228.4 299.5h0M228.0 305.3h0M228.6 268.0h0M229.8 288.7h0M230.6 274.2h0M230.6 270.1h0M232.0 268.6h0M231.8 264.3h0M231.8 261.1h0M232.0 260.6h0M232.0 284.1h0M235.0 247.1h0M235.5 255.3h0M235.0 255.4h0M237.2 241.7h0M240.8 233.7h0M241.0 233.5h0M243.5 237.4h0M245.0 247.9h0M250.0 217.5h0M249.6 237.4h0M250.0 244.2h0M250.0 252.2h0M255.2 232.3h0M255.0 225.4h0M255.0 221.1h0M255.2 248.9h0M254.6 253.5h0M255.2 258.7h0M255.0 263.4h0M258.2 235.0h0M259.2 238.0h0M261.0 241.4h0M264.0 246.5h0M265.4 242.7h0M264.7 234.7h0M265.0 229.5h0M265.0 259.0h0M267.6 244.8h0M269.5 245.2h0M271.0 234.6h0M276.8 243.5h0M277.0 239.9h0M276.8 262.4h0M276.8 270.6h0M277.0 274.3h0M279.6 255.8h0M283.0 249.5h0M284.5 250.7h0M285.4 248.1h0M285.0 245.5h0M284.5 270.9h0M285.4 276.5h0M285.4 286.6h0M285.0 289.8h0M286.4 268.1h0M286.1 275.7h0M287.4 249.2h0M287.1 275.7h0M288.5 256.2h0M289.0 250.6h0M289.0 249.9h0M289.4 282.6h0M288.7 288.8h0M289.5 294.0h0M289.0 301.0h0M289.7 275.7h0M289.8 278.9h0M290.2 285.1h0M290.3 289.9h0M291.8 281.1h0M294.5 257.3h0M293.6 253.3h0M294.0 249.9h0M294.4 279.7h0M294.2 288.7h0M294.0 293.8h0M294.5 256.9h0M294.7 282.5h0M294.8 285.5h0M297.4 268.4h0M296.9 289.5h0M300.3 280.6h0M301.0 278.8h0M301.0 269.2h0M301.0 299.8h0M301.7 275.5h0M303.6 273.9h0M304.1 270.7h0M304.7 296.2h0M306.8 260.8h0M307.0 257.3h0M307.2 284.9h0M306.7 289.2h0M306.7 294.3h0M307.0 300.1h0M307.7 258.3h0M311.4 280.7h0M311.7 251.7h0M313.3 274.2h0M312.6 280.3h0M313.9 285.2h0M315.1 256.8h0M314.9 251.4h0M315.0 243.4h0M314.9 293.4h0M315.2 298.0h0M314.5 303.0h0M315.0 304.2h0M315.7 250.0h0M316.1 246.8h0M316.8 251.4h0M319.9 248.3h0M320.0 244.8h0M320.3 274.1h0M320.3 278.2h0M319.9 283.0h0M320.0 292.8h0M321.2 270.6h0M322.1 270.0h0M322.1 276.4h0M326.9 244.0h0M327.0 240.1h0M329.5 241.0h0M330.3 258.3h0M333.1 260.2h0M334.5 259.9h0M334.7 235.0h0M335.0 234.5h0M335.3 257.2h0M335.1 261.9h0M335.0 267.0h0M336.6 264.2h0M337.2 268.9h0M340.3 251.2h0M340.7 280.4h0M340.5 289.3h0M340.9 297.1h0M342.1 251.8h0M341.6 242.7h0M342.0 242.5h0M342.0 286.1h0M342.3 293.3h0M341.8 297.8h0M341.5 303.9h0M342.0 307.6h0M343.0 250.3h0M342.7 284.8h0M342.8 288.0h0M344.3 290.1h0M343.8 296.6h0M346.4 278.9h0M350.5 284.2h0M351.4 287.9h0M352.2 250.0h0M352.3 277.1h0M356.8 271.2h0M362.3 271.2h0M362.4 275.9h0M363.3 284.0h0M364.7 248.1h0M365.4 243.6h0M364.9 236.8h0M365.3 298.5h0M367.7 329.3h0M368.8 332.1h0M370.9 359.2h0M371.3 368.0h0M370.9 377.6h0M373.2 310.8h0M373.1 304.6h0M373.2 373.3h0M372.9 381.6h0M373.2 388.9h0M372.7 395.6h0M376.2 432.3h0M375.8 439.4h0M377.9 458.5h0M378.5 464.8h0M378.0 468.1h0M379.2 460.4h0M379.1 466.8h0M381.5 407.5h0M380.6 412.4h0M380.9 417.1h0M380.9 420.2h0M381.2 426.2h0M380.8 432.1h0M381.2 437.2h0M384.1 372.3h0M384.3 380.2h0M383.8 387.0h0M383.6 395.5h0M385.5 284.1h0M385.8 277.1h0M385.8 272.4h0M385.9 341.9h0M386.4 350.9h0M386.3 354.5h0M390.3 313.1h0M395.0 262.6h0M395.0 334.8h0M396.3 313.6h0M395.9 318.8h0M395.6 328.4h0M396.1 336.8h0M397.0 330.6h0M396.5 339.3h0M397.1 348.6h0M399.1 328.3h0M398.8 336.4h0M400.2 261.0h0M400.1 325.4h0M400.3 332.1h0M400.7 336.1h0M404.7 284.7h0M405.3 281.5h0M405.2 272.8h0M405.3 266.7h0M406.6 277.0h0M406.5 270.2h0M407.3 266.1h0M409.7 298.8h0M409.5 295.7h0M409.6 288.1h0M409.5 345.9h0M409.7 353.5h0M413.5 380.6h0M412.5 388.4h0M413.2 391.6h0M416.1 409.4h0M415.9 416.4h0M416.3 422.9h0M422.4 403.3h0M422.3 406.6h0M425.7 376.7h0M427.3 322.9h0M426.7 375.7h0M429.2 370.6h0M430.6 321.0h0M431.3 313.8h0M431.1 309.2h0M433.4 321.1h0M433.3 313.0h0M434.6 378.8h0M436.5 373.8h0M436.7 331.7h0M436.8 328.4h0M437.4 322.5h0M440.6 366.0h0M442.2 322.4h0M441.5 318.2h0M442.4 358.1h0M441.9 362.1h0M442.4 365.9h0M443.1 310.5h0M442.7 306.3h0M446.4 341.5h0M445.7 348.2h0M445.8 354.8h0M445.7 360.1h0M446.5 367.0h0M448.5 316.5h0M448.3 313.4h0M447.6 307.7h0M449.1 322.8h0M448.7 318.9h0M451.1 343.9h0M451.3 336.7h0M452.3 337.8h0M452.0 329.3h0M452.4 326.2h0M455.4 369.5h0M455.2 375.1h0M463.1 275.2h0M462.7 318.6h0M463.4 326.8h0M462.9 333.0h0M465.4 327.0h0M465.3 335.6h0M465.0 339.2h0M466.0 263.2h0M465.6 310.5h0M466.3 318.8h0M466.1 328.6h0M467.2 265.3h0M468.8 279.2h0M468.6 272.0h0M469.6 281.7h0M469.8 277.9h0M470.0 326.3h0M470.1 334.0h0M471.0 333.4h0M470.7 338.3h0M471.0 342.9h0M472.8 298.1h0M472.6 355.3h0M472.9 363.8h0M474.2 353.0h0M477.4 306.5h0M477.4 302.5h0M477.3 299.5h0M476.9 363.7h0M478.9 315.5h0M478.9 309.0h0M479.3 303.1h0M478.8 354.9h0M479.1 358.9h0M480.5 315.8h0M479.9 311.4h0M483.0 344.7h0M482.9 348.5h0M487.3 305.4h0M490.8 335.3h0M491.8 296.0h0M493.6 294.9h0M494.0 290.8h0M495.2 289.0h0M494.7 283.4h0M494.8 330.2h0M494.9 336.4h0M495.4 339.9h0M498.0 282.5h0M498.7 331.5h0M498.7 336.8h0M499.9 288.3h0M499.6 284.9h0M499.8 330.5h0M500.6 286.7h0M503.5 315.2h0M502.7 321.4h0M502.6 328.2h0M505.4 268.6h0M505.0 264.9h0M505.2 304.2h0M504.8 311.2h0M505.8 264.0h0M505.6 256.1h0M506.0 249.3h0M509.2 250.0h0M509.6 277.8h0M510.2 286.6h0M510.9 246.0h0M511.3 271.0h0M511.2 277.4h0M510.9 282.6h0M512.3 237.4h0M511.5 232.1h0M512.0 227.5h0M512.6 267.5h0M512.9 275.4h0M514.4 230.7h0M514.0 268.0h0M514.2 271.4h0M514.0 278.1h0M514.8 230.2h0M515.6 265.6h0M517.4 222.9h0M517.1 256.7h0M517.3 261.7h0M517.3 269.0h0M518.3 221.1h0M517.6 211.9h0M518.0 211.9h0M519.2 225.2h0M518.9 257.2h0M522.2 262.3h0M522.8 226.6h0M523.1 222.3h0M523.4 212.7h0M523.8 220.4h0M525.2 228.7h0M525.4 219.9h0M525.0 212.7h0M525.2 259.5h0M524.9 263.6h0M525.7 233.0h0M525.5 225.7h0M526.4 216.5h0M525.9 206.1h0M526.2 199.8h0M526.0 199.5h0M527.4 226.6h0M526.8 222.5h0M527.1 216.1h0M529.2 224.1h0M528.8 217.5h0M529.5 209.8h0M529.6 223.4h0M529.9 216.1h0M529.9 260.3h0M529.7 264.1h0M530.8 225.1h0M531.0 221.4h0M531.0 216.3h0M531.0 207.9h0M531.6 229.0h0M531.6 223.4h0M532.6 267.7h0M534.3 257.5h0M533.7 260.8h0M533.5 266.9h0M535.1 224.6h0M534.7 262.1h0M535.9 225.9h0M536.4 218.7h0M535.5 210.1h0M536.9 227.2h0M537.1 219.4h0M537.6 224.4h0M538.0 216.2h0M538.3 207.7h0M538.0 259.8h0M539.3 216.6h0M538.9 209.6h0M538.7 202.8h0M539.0 193.3h0M539.7 221.9h0M540.5 223.7h0M540.8 217.3h0M541.0 214.2h0M542.0 225.4h0M544.3 223.1h0M544.4 214.9h0M544.0 270.7h0M544.8 230.2h0M544.7 268.8h0M545.8 265.4h0M545.6 269.6h0M547.4 232.8h0M547.4 227.8h0M546.6 220.6h0M547.1 216.1h0M546.9 203.5h0M547.0 200.6h0M547.8 230.5h0M547.5 225.8h0M547.8 221.5h0M548.1 275.2h0M548.6 230.1h0M549.4 222.0h0M548.6 216.0h0M549.0 211.1h0M548.8 267.6h0M549.1 275.8h0M550.1 233.7h0M550.0 228.8h0M550.4 268.0h0M551.2 228.3h0M550.6 223.1h0M550.6 218.7h0M551.0 210.4h0M552.1 236.3h0M552.1 229.3h0M552.2 223.7h0M554.3 219.3h0M554.5 213.9h0M555.7 219.0h0M556.3 215.8h0M556.5 210.9h0M556.1 203.6h0M556.6 215.0h0M556.6 207.1h0M556.9 198.4h0M557.0 190.8h0M558.1 219.3h0M557.8 214.8h0M557.9 209.9h0M557.7 204.9h0M558.1 194.5h0M558.8 217.0h0M559.3 209.2h0M558.8 203.8h0M559.4 196.2h0M559.1 256.7h0M559.7 216.5h0M560.5 208.0h0M559.5 202.5h0M560.5 198.4h0M560.4 195.3h0M561.4 210.4h0M560.5 201.0h0M561.3 195.8h0M560.9 248.8h0M560.5 252.5h0M561.9 217.5h0M562.2 213.5h0M562.2 209.5h0M561.6 202.8h0M561.7 258.4h0M562.6 208.6h0M563.0 205.3h0M563.2 254.4h0M564.2 209.5h0M563.8 203.8h0M564.5 197.5h0M563.9 190.8h0M564.1 251.7h0M564.7 216.0h0M564.6 211.8h0M565.3 203.1h0M564.5 192.2h0M565.0 183.6h0M565.5 214.4h0M566.9 258.6h0M568.1 221.3h0M567.7 215.1h0M567.8 207.7h0M568.0 258.3h0M569.3 226.0h0M568.7 221.6h0M569.0 212.9h0M570.3 216.7h0M569.7 212.8h0M571.2 223.2h0M571.0 217.1h0M571.9 234.3h0M571.9 229.3h0M571.7 226.2h0M571.6 218.9h0M573.1 234.2h0M572.7 226.5h0M573.3 220.4h0M572.9 212.1h0M572.9 208.6h0M573.2 201.5h0M573.0 200.3h0M576.4 259.6h0M576.9 225.0h0M577.4 219.2h0M577.0 213.3h0M577.3 206.4h0M577.2 262.1h0M577.7 211.2h0M578.3 207.8h0M577.6 204.2h0M578.1 196.1h0M578.2 192.6h0M578.0 183.3h0M578.2 179.7h0M578.1 172.0h0M578.0 170.3h0M578.5 206.9h0M578.8 198.1h0M580.4 213.8h0M581.0 219.6h0M581.1 213.9h0M581.3 208.5h0M581.4 204.1h0M580.6 196.6h0M580.8 258.9h0M582.0 208.3h0M581.9 199.7h0M581.6 189.9h0M582.1 182.8h0M583.3 222.4h0M583.2 216.6h0M582.8 209.1h0M583.3 204.4h0M583.4 200.2h0M582.6 195.3h0M583.3 191.4h0M582.9 178.4h0M582.7 263.6h0M583.2 267.1h0M584.1 210.3h0M584.1 205.5h0M584.4 201.4h0M584.3 196.0h0M584.3 191.6h0M583.9 179.1h0M584.0 176.5h0M585.0 219.8h0M584.9 212.8h0M584.6 205.2h0M585.4 265.3h0M586.0 257.1h0M586.1 265.7h0M586.7 221.9h0M586.5 213.2h0M587.5 205.4h0M587.4 199.2h0M586.7 256.2h0M589.1 220.2h0M589.1 216.5h0M588.9 211.1h0M591.0 217.5h0M591.0 213.7h0M591.0 209.3h0M591.0 201.7h0M591.7 222.8h0M592.4 252.2h0M592.3 258.1h0M592.2 266.0h0M592.6 252.9h0M595.3 211.0h0M595.9 211.0h0M595.7 207.3h0M598.3 204.2h0M598.0 198.8h0M599.3 201.1h0M599.5 240.8h0M602.3 198.1h0M601.8 188.2h0M602.0 187.1h0M602.8 199.9h0M602.7 190.4h0M604.3 198.6h0M604.8 200.3h0M606.9 208.7h0M606.8 247.1h0M607.6 206.6h0M608.0 198.2h0M608.9 206.6h0M610.0 199.4h0M610.0 254.2h0M609.7 257.2h0M611.1 202.7h0M611.0 194.8h0M612.1 194.9h0M612.5 189.4h0M612.2 183.7h0M611.9 174.9h0M612.0 170.7h0M612.6 193.9h0M613.3 251.7h0M614.5 198.0h0M613.5 246.3h0M615.0 197.7h0M615.5 192.0h0M615.7 233.9h0M616.6 197.8h0M617.4 191.3h0M617.2 186.7h0M617.0 184.9h0M618.5 198.5h0M617.8 227.9h0M617.6 233.7h0M617.9 239.2h0M619.3 195.5h0M619.3 187.9h0M619.1 231.6h0M619.8 196.5h0M619.8 189.0h0M619.9 232.2h0M621.2 199.0h0M621.3 193.0h0M621.1 233.7h0M622.3 232.7h0M623.0 199.5h0M623.4 192.1h0M622.8 187.8h0M622.9 184.1h0M623.0 182.3h0M623.8 192.1h0M625.4 190.8h0M625.4 227.4h0M625.2 231.4h0M625.8 189.3h0M625.7 184.7h0M625.9 228.5h0M625.6 237.1h0M626.6 192.7h0M627.3 219.4h0M626.7 223.0h0M626.8 230.6h0M628.0 224.9h0M628.3 228.2h0M628.0 231.4h0M629.1 191.1h0M629.0 185.4h0M628.7 177.2h0M629.0 172.6h0M630.0 233.2h0M630.0 237.1h0M630.8 192.2h0M630.7 232.2h0M632.2 196.0h0M633.4 199.0h0M632.7 241.3h0M634.6 203.0h0M635.3 199.0h0M635.5 192.1h0M635.0 189.7h0M636.9 245.4h0M636.9 254.3h0M637.9 207.5h0M638.6 210.6h0M639.1 205.3h0M638.7 249.2h0M640.0 218.4h0M639.6 247.7h0M639.6 255.8h0M641.2 218.5h0M640.6 257.2h0M642.3 216.6h0M642.1 208.1h0M642.0 202.2h0M644.2 232.2h0M644.1 223.8h0M643.8 213.2h0M643.5 208.5h0M643.7 259.5h0M643.7 268.7h0M646.1 236.7h0M646.3 230.0h0M645.6 226.4h0M645.8 218.5h0M646.3 274.1h0M646.6 235.0h0M647.2 267.9h0M647.6 231.8h0M648.6 238.7h0M649.1 231.7h0M649.0 224.4h0M649.0 218.0h0M650.3 289.8h0M651.4 288.1h0M651.2 294.3h0M653.3 253.8h0M653.3 243.3h0M653.0 241.5h0M656.3 235.4h0M656.1 230.1h0M656.0 228.2h0M657.0 237.0h0M657.5 285.5h0M659.2 240.1h0M659.2 232.2h0M659.0 228.0h0M659.8 242.4h0M660.1 233.4h0M659.8 273.9h0M659.6 277.4h0M661.2 232.6h0M661.9 232.4h0M661.9 224.8h0M662.0 220.3h0M663.3 234.3h0M663.4 229.9h0M662.7 275.7h0M663.6 233.2h0M664.5 229.5h0M663.6 271.4h0M664.4 274.5h0M664.6 267.2h0M665.7 229.3h0M665.9 224.7h0M665.6 267.3h0M666.9 229.6h0M667.0 225.8h0M667.0 219.6h0M667.9 231.2h0M668.4 259.6h0M669.5 226.5h0M668.7 259.4h0M669.4 263.6h0M668.6 268.5h0M671.2 251.0h0M672.0 225.0h0M672.2 218.4h0M672.3 214.2h0M672.4 254.9h0M671.7 259.3h0M672.5 216.3h0M672.6 210.5h0M673.2 205.8h0M673.0 201.5h0M674.4 254.4h0M675.5 218.3h0M674.7 212.3h0M675.2 257.2h0M676.0 252.0h0M676.2 258.7h0M676.6 222.4h0M677.0 218.3h0M677.0 210.7h0M678.2 254.7h0M680.4 226.7h0M680.2 254.5h0M681.4 228.5h0M681.9 228.8h0M683.0 230.5h0M683.2 223.5h0M683.7 231.4h0M684.5 225.3h0M683.9 220.4h0M684.0 214.2h0M685.3 224.1h0M686.1 247.6h0M687.0 220.7h0M687.2 217.6h0M687.3 248.9h0M687.8 247.0h0M689.6 207.7h0M689.7 204.7h0M690.0 199.6h0M690.5 206.3h0M691.4 202.3h0M690.8 237.7h0M691.8 240.5h0M694.3 206.2h0M695.7 210.0h0M695.9 205.3h0M696.2 198.0h0M696.2 194.7h0M696.0 189.3h0M696.7 211.9h0M697.2 206.7h0M696.7 201.6h0M701.3 209.8h0M700.6 206.1h0M701.0 199.9h0M701.9 208.4h0M702.4 202.1h0M702.0 194.7h0M702.5 211.0h0M703.4 202.0h0M702.6 244.2h0M703.3 252.2h0M703.8 220.7h0M703.6 213.5h0M703.6 209.8h0M704.0 205.5h0M703.7 195.1h0M704.3 190.2h0M705.2 208.5h0M705.4 200.3h0M705.5 193.5h0M704.8 184.5h0M705.0 181.3h0M705.6 202.4h0M706.7 201.1h0M706.8 193.6h0M706.9 189.0h0M707.8 229.4h0M708.3 238.2h0M707.9 243.7h0M709.3 229.2h0M709.4 234.0h0M710.3 173.8h0M710.0 172.3h0M711.3 226.7h0M711.3 231.8h0M711.5 229.4h0M712.0 238.0h0M711.8 244.9h0M712.6 195.6h0M712.6 250.7h0M713.2 254.2h0M715.0 208.9h0M715.2 199.9h0M715.4 194.1h0M714.6 185.1h0M715.0 184.5h0M716.2 197.4h0M715.9 192.9h0M717.2 238.5h0M716.6 244.1h0M717.3 251.1h0M718.4 194.5h0M717.9 185.5h0M718.2 179.0h0M718.2 235.7h0M718.0 239.8h0M723.8 239.0h0M724.0 244.5h0M723.6 251.2h0M724.7 245.9h0M730.7 250.5h0M730.9 254.5h0M730.8 262.1h0M732.5 236.6h0M732.4 242.5h0M731.7 248.9h0M732.9 236.1h0M732.9 243.2h0M733.9 243.9h0M734.4 251.3h0M733.9 258.1h0M736.9 169.7h0M736.5 219.5h0M737.0 224.9h0M738.1 158.0h0M738.3 212.3h0M739.7 197.6h0M740.7 139.7h0M740.8 136.3h0M741.2 128.1h0M743.4 122.8h0M743.1 180.3h0M746.7 111.7h0M750.0 111.1h0M759.8 121.1h0M759.6 112.0h0M761.8 160.1h0M762.4 163.9h0M766.3 111.4h0M767.5 168.6h0M769.0 120.6h0M769.4 117.1h0M769.2 164.4h0M771.4 168.1h0M771.4 172.5h0M775.4 127.5h0M775.2 123.2h0M775.0 175.8h0M785.5 192.0h0M785.7 198.8h0M789.1 156.6h0M788.9 153.5h0M789.1 144.3h0M789.3 185.2h0M790.0 138.9h0M790.5 133.6h0M790.2 126.9h0M790.3 123.1h0M790.0 122.4h0M790.2 182.8h0M789.6 187.4h0M790.2 193.2h0M790.0 203.2h0M791.6 198.3h0M791.6 202.5h0M793.1 154.7h0M792.9 148.3h0M792.5 141.4h0M792.9 137.9h0M793.3 132.7h0M793.3 127.2h0M792.6 121.4h0M793.0 119.8h0M792.8 202.0h0M793.0 207.2h0M794.6 157.3h0M795.4 198.9h0M795.9 161.2h0M795.5 157.2h0M796.3 153.4h0M795.7 145.6h0M795.6 137.1h0M795.8 128.9h0M797.2 155.3h0M797.2 149.8h0M797.4 146.2h0M796.7 143.1h0M796.7 136.6h0M797.2 132.7h0M797.0 126.5h0M796.8 197.0h0M796.7 204.7h0M797.0 207.9h0M799.2 167.9h0M799.3 162.0h0M799.4 156.7h0M800.1 184.9h0M799.5 175.9h0M800.3 167.1h0M799.8 163.0h0M800.1 159.4h0M800.0 152.4h0M801.5 183.6h0M800.5 178.1h0M801.2 174.4h0M801.1 164.5h0M801.5 174.3h0M801.9 171.1h0M804.1 174.0h0M804.1 163.8h0M804.0 159.4h0M804.0 211.9h0M804.7 176.7h0M805.0 172.0h0M804.9 165.2h0M805.3 209.2h0M805.9 166.1h0M805.9 161.4h0M806.3 153.3h0M806.2 145.9h0M806.0 140.5h0M807.2 160.2h0M807.2 153.4h0M806.6 148.4h0M806.5 142.4h0M808.2 151.4h0M809.4 146.6h0M808.9 141.0h0M809.5 135.8h0M808.7 131.4h0M809.4 126.0h0M808.8 115.0h0M809.0 104.0h0M808.9 208.4h0M809.0 213.1h0M809.9 139.1h0M809.8 132.6h0M809.9 129.5h0M809.5 123.5h0M810.3 117.2h0M810.2 110.8h0M810.7 131.8h0M811.1 125.0h0M810.5 119.5h0M811.1 113.5h0M810.8 182.9h0M812.5 136.4h0M812.4 132.1h0M812.1 127.5h0M811.5 121.7h0M812.3 111.7h0M812.3 105.8h0M812.0 102.1h0M811.6 195.5h0M811.7 201.0h0M812.3 209.1h0M812.0 220.6h0M812.0 220.7h0M813.5 145.5h0M813.0 142.0h0M812.5 137.7h0M812.6 134.0h0M812.9 128.2h0M812.8 120.8h0M813.0 201.0h0M812.9 207.0h0M812.7 217.0h0M814.1 179.4h0M813.6 174.8h0M813.9 166.2h0M814.2 162.4h0M813.8 155.6h0M814.3 150.0h0M813.9 144.2h0M813.9 132.7h0M813.7 125.6h0M814.2 115.5h0M813.9 107.3h0M814.0 102.2h0M816.2 178.4h0M816.0 171.3h0M817.2 184.2h0M817.1 179.7h0M817.1 175.8h0M817.0 171.5h0M817.1 166.0h0M817.0 161.8h0M816.6 152.8h0M817.2 146.4h0M817.0 142.2h0M817.0 216.7h0M818.1 174.3h0M817.9 166.4h0M819.4 180.3h0M819.2 171.9h0M819.3 166.7h0M820.5 188.3h0M820.6 183.3h0M821.1 179.7h0M820.7 175.7h0M820.8 169.9h0M823.2 191.8h0M822.6 187.2h0M823.1 176.2h0M824.0 189.1h0M824.0 180.2h0M824.0 177.4h0M824.0 220.7h0M825.5 217.0h0M827.2 182.0h0M827.4 216.5h0M828.3 181.6h0M827.8 178.0h0M828.0 170.3h0M829.3 182.6h0M829.1 176.4h0M828.6 168.7h0M829.2 214.1h0M829.7 173.1h0M829.9 169.4h0M829.6 162.3h0M830.4 157.1h0M830.0 151.4h0M829.7 211.0h0M829.7 217.8h0M830.0 222.7h0M831.4 178.4h0M830.5 174.3h0M831.1 166.3h0M830.7 158.6h0M831.1 212.5h0M831.7 182.6h0M832.2 176.2h0M832.3 172.5h0M831.6 162.4h0M832.0 217.0h0M832.6 188.9h0M832.5 184.6h0M832.6 179.3h0M833.3 171.0h0M832.7 159.0h0M833.9 181.5h0M833.6 176.5h0M834.0 166.5h0M833.9 159.3h0M834.0 149.9h0M834.9 182.1h0M835.1 174.8h0M836.5 185.1h0M837.1 177.7h0M837.7 194.3h0M838.2 187.1h0M837.5 178.6h0M838.8 197.9h0M841.4 207.6h0M841.2 204.4h0M840.7 198.9h0M841.0 192.6h0M840.6 185.4h0M841.0 183.9h0M842.5 205.4h0M842.1 200.4h0M842.9 205.4h0M845.4 200.7h0M847.7 202.5h0M848.0 199.4h0M847.7 216.3h0M848.0 220.8h0M850.1 197.4h0M850.9 195.5h0M851.6 193.2h0M852.0 190.7h0M851.7 213.8h0M852.0 217.7h0M852.0 223.0h0M853.5 196.4h0M855.7 201.1h0M856.1 196.3h0M856.0 191.6h0M856.0 183.4h0M857.2 207.0h0M856.7 203.7h0M858.2 205.5h0M858.1 199.8h0M857.7 192.5h0M859.2 206.3h0M859.4 199.0h0M859.4 188.9h0M860.3 206.4h0M859.7 198.8h0M860.1 194.4h0M860.8 232.2h0M862.6 215.1h0M863.1 208.1h0M862.7 201.3h0M863.5 195.5h0M863.0 189.0h0M863.4 238.3h0M863.3 242.5h0M863.0 243.3h0M864.0 233.3h0M867.4 198.4h0M866.6 193.1h0M867.2 187.6h0M867.1 175.9h0M867.0 175.0h0M867.3 227.8h0M867.0 228.3h0M869.7 223.6h0M871.3 218.2h0M872.1 196.3h0M871.7 220.4h0M872.9 200.2h0M873.2 191.8h0M873.0 190.1h0M873.1 218.8h0M872.5 226.7h0M873.0 227.2h0M874.0 201.8h0M874.1 223.8h0M877.4 211.2h0M877.1 206.1h0M877.0 204.1h0M884.0 211.0h0M884.3 225.4h0M884.0 227.3h0M885.2 210.3h0M886.8 206.2h0M887.7 201.0h0M888.6 209.2h0M889.2 204.4h0M888.6 197.3h0M889.0 187.1h0M889.0 183.0h0M889.0 229.3h0M892.8 186.8h0M893.2 178.7h0M894.8 216.2h0M894.8 219.9h0M895.6 186.9h0M896.4 181.8h0M895.6 177.5h0M896.0 167.8h0M896.2 214.9h0M895.7 218.4h0M896.4 226.1h0M895.9 233.2h0M896.0 234.5h0M897.8 226.4h0M899.4 207.3h0M899.0 200.6h0M899.4 194.8h0M898.9 183.4h0M899.0 178.3h0M898.8 232.6h0M898.6 237.9h0M899.0 239.8h0M899.9 194.3h0M900.4 185.6h0M899.6 178.8h0M900.9 187.0h0M902.4 180.5h0M903.3 200.6h0M902.9 208.2h0M902.7 217.5h0M903.0 227.8h0M903.6 204.2h0M903.7 213.4h0M903.9 219.7h0M905.0 215.9h0M905.7 198.5h0M906.9 207.6h0M907.1 198.7h0M908.3 210.5h0M908.0 205.0h0M907.5 198.3h0M908.2 194.7h0M907.9 185.3h0M908.0 178.7h0M907.8 242.3h0M908.0 242.3h0M908.8 236.4h0M910.2 206.9h0M910.3 201.8h0M910.2 194.3h0M910.1 187.6h0M911.3 225.3h0M912.2 196.5h0M911.7 191.3h0M912.0 182.8h0M912.2 223.2h0M912.3 228.8h0M912.0 231.6h0M913.4 199.3h0M913.0 196.1h0M913.3 190.3h0M913.3 225.8h0M913.8 204.0h0M914.3 197.2h0M913.7 226.2h0M914.6 200.4h0M915.6 222.2h0M916.0 226.8h0M916.4 232.2h0M917.5 201.3h0M917.8 195.6h0M918.0 190.8h0M918.4 229.0h0M918.3 232.2h0M918.0 237.6h0M918.9 207.3h0M919.8 203.3h0M922.0 230.1h0M923.5 229.7h0M923.2 234.2h0M924.0 210.6h0M924.3 206.5h0M924.1 202.6h0M924.0 198.0h0M923.7 227.6h0M924.0 235.6h0M924.0 238.3h0M924.7 235.1h0M927.3 215.8h0M926.8 208.4h0M927.4 236.8h0M928.0 238.9h0M928.4 242.4h0M929.5 218.0h0M929.2 214.4h0M929.1 205.1h0M929.0 202.0h0M928.9 247.4h0M929.0 248.3h0M929.5 222.0h0M930.5 218.1h0M929.7 209.0h0M930.5 222.4h0M931.5 244.5h0M932.0 244.8h0M936.2 241.5h0M937.3 217.9h0M937.5 240.5h0M938.2 213.1h0M938.0 208.9h0M938.0 234.9h0M938.0 242.4h0M939.9 233.6h0M941.9 209.3h0M942.0 204.8h0M942.4 228.4h0M941.8 237.4h0M942.0 238.4h0M945.4 187.3h0M945.6 182.6h0M946.2 179.1h0M946.0 175.8h0M946.2 215.7h0M946.4 221.9h0M946.1 233.1h0M946.0 235.7h0M946.6 182.0h0M946.8 177.0h0M946.7 212.4h0M946.8 220.2h0M948.1 210.1h0M947.5 215.3h0M948.1 219.3h0M948.8 212.1h0M950.4 183.5h0M949.7 179.3h0M949.7 175.0h0M950.0 172.9h0M950.3 207.5h0M950.0 212.9h0M950.3 218.9h0M949.9 230.1h0M950.0 233.8h0M950.8 194.6h0M951.4 190.7h0M951.2 184.9h0M950.8 222.2h0M952.8 215.0h0M952.8 210.5h0M952.8 205.6h0M953.3 196.3h0M953.4 186.3h0M953.0 181.9h0M952.5 238.6h0M953.0 242.6h0M956.2 240.5h0M957.5 216.7h0M958.1 226.4h0M957.7 221.4h0M958.4 215.1h0M957.7 209.7h0M958.6 222.4h0M958.7 218.1h0M959.0 210.3h0M959.0 208.7h0M959.4 247.4h0M959.0 248.9h0M960.1 228.2h0M962.9 223.5h0M963.6 250.7h0M963.6 255.8h0M964.6 223.5h0M965.3 215.6h0M965.0 208.8h0M964.8 249.8h0M965.3 254.0h0M965.0 259.9h0M966.3 223.7h0M965.8 218.4h0M967.1 248.6h0M966.8 254.5h0M968.1 247.1h0M967.9 254.1h0M971.3 220.6h0M971.0 216.5h0M971.0 209.9h0M970.9 245.8h0M970.8 252.7h0M971.0 255.0h0M972.3 218.4h0M972.4 212.6h0M972.0 245.8h0M972.8 240.8h0M973.3 248.7h0M974.6 212.7h0M975.0 203.5h0M975.1 235.8h0M974.8 242.5h0M975.0 245.4h0M976.9 215.2h0M978.2 237.6h0M979.8 220.8h0M980.0 217.5h0M980.0 212.0h0M980.4 242.6h0M980.4 251.7h0M980.0 251.8h0M980.6 220.2h0M980.9 217.2h0M981.8 225.8h0M982.5 221.6h0M982.3 213.6h0M982.4 251.2h0M982.5 225.8h0M982.8 216.7h0M983.4 253.1h0M983.8 223.7h0M985.2 250.2h0M984.6 255.4h0M985.5 259.1h0M986.4 224.0h0M985.8 216.9h0M986.0 210.7h0M986.2 256.7h0M986.3 265.4h0M986.0 265.5h0M987.0 227.8h0M986.6 221.4h0M988.4 252.6h0M990.5 223.6h0M989.7 245.0h0M990.5 250.7h0M989.8 256.3h0M990.8 223.3h0M990.7 214.7h0M991.1 210.7h0M991.0 206.8h0M990.6 250.5h0M991.2 259.4h0M991.0 262.2h0M992.1 247.5h0M993.1 214.8h0M992.7 209.3h0M994.2 240.0h0M993.7 248.9h0M995.1 204.8h0M996.0 209.7h0M995.7 203.0h0M996.1 228.5h0M995.8 234.9h0M995.5 244.4h0M996.5 202.1h0M997.1 197.1h0M997.0 187.1h0M997.3 229.7h0M997.0 235.1h0M996.9 241.6h0M997.0 246.4h0M999.5 202.2h0M999.8 196.8h0M1000.5 193.2h0M1001.3 204.7h0M1000.6 196.0h0M1001.0 231.3h0M1001.4 236.1h0M1000.8 240.3h0M1003.4 202.8h0M1002.6 192.7h0M1003.0 189.0h0M1002.8 231.9h0M1003.5 237.2h0M1002.9 240.8h0M1003.0 242.4h0M1003.9 228.4h0M1004.2 236.4h0M1007.1 196.6h0M1007.1 191.7h0M1007.8 199.4h0M1007.6 193.0h0M1008.0 187.5h0M1008.0 227.1h0M1008.1 236.7h0M1008.0 239.2h0M1009.5 202.2h0M1009.5 195.9h0M1009.8 220.0h0M1009.8 224.4h0M1011.0 198.7h0M1010.7 195.7h0M1011.4 226.5h0M1011.8 203.3h0M1012.2 196.0h0M1012.0 195.5h0M1011.9 229.6h0M1011.5 233.0h0M1012.4 242.4h0M1012.0 250.7h0M1013.4 210.0h0M1013.7 212.1h0M1013.6 206.3h0M1014.7 216.0h0M1014.7 209.1h0M1015.7 221.2h0M1016.0 214.7h0M1015.6 211.5h0M1016.0 203.3h0M1015.6 248.4h0M1016.0 256.0h0M1016.9 220.6h0M1017.3 249.6h0M1020.2 221.3h0M1020.9 243.4h0M1021.0 246.6h0M1022.0 242.5h0M1023.5 221.6h0M1022.9 216.5h0M1023.0 212.0h0M1023.0 242.8h0M1022.5 252.2h0M1023.0 252.5h0M1023.9 219.2h0M1026.1 219.8h0M1026.4 215.0h0M1025.8 209.0h0M1026.9 217.6h0M1027.2 210.0h0M1026.6 200.4h0M1027.4 243.4h0M1028.4 222.1h0M1028.6 221.4h0M1029.4 216.8h0M1029.0 208.9h0M1029.4 200.7h0M1029.1 188.0h0M1029.0 186.9h0M1028.7 247.6h0M1029.0 250.4h0M1030.2 244.5h0M1032.2 215.1h0M1031.6 206.8h0M1033.3 215.0h0M1032.8 210.9h0M1033.3 245.8h0M1034.9 221.4h0M1034.5 213.9h0M1035.0 206.9h0M1035.1 203.0h0M1034.8 195.5h0M1035.0 187.0h0M1034.6 249.7h0M1034.6 253.6h0M1035.0 257.8h0M1036.6 249.0h0M1036.6 253.8h0M1040.6 213.3h0M1040.9 242.7h0M1042.4 214.5h0M1041.9 209.0h0M1042.5 201.2h0M1042.0 194.8h0M1042.1 238.6h0M1042.0 243.8h0M1042.0 248.5h0M1043.0 218.2h0M1042.8 211.0h0M1043.3 240.6h0M1045.4 219.7h0M1044.8 212.7h0M1046.8 224.3h0M1047.1 221.1h0M1047.4 214.0h0M1047.4 205.6h0M1047.0 204.7h0M1046.8 245.8h0M1047.0 246.4h0M1048.1 220.7h0M1048.0 214.6h0M1050.1 216.2h0M1049.6 212.9h0M1051.8 217.6h0M1052.4 213.7h0M1051.5 205.4h0M1052.1 201.8h0M1052.0 191.1h0M1052.4 243.0h0M1052.1 246.9h0M1052.0 248.4h0M1054.4 213.1h0M1053.6 207.0h0M1053.7 198.1h0M1053.8 244.2h0M1054.7 214.1h0M1055.0 210.1h0M1057.6 216.8h0M1059.0 216.1h0M1059.1 210.6h0M1058.9 207.4h0M1059.5 204.1h0M1059.0 192.4h0M1058.7 245.7h0M1059.0 252.2h0M1060.8 244.7h0M1062.6 211.4h0M1063.2 206.1h0M1063.0 199.2h0M1062.7 193.9h0M1062.8 184.2h0M1063.0 179.3h0M1063.5 245.1h0M1063.0 250.6h0M1064.5 212.2h0M1064.9 244.4h0M1065.1 250.8h0M1067.4 211.6h0M1067.0 206.6h0M1066.7 197.0h0M1066.6 188.3h0M1067.0 180.2h0M1066.7 240.4h0M1067.5 248.9h0M1067.0 255.0h0M1068.1 247.8h0M1068.8 216.2h0M1068.6 206.9h0M1068.8 203.4h0M1069.4 199.7h0M1068.9 193.2h0M1069.0 244.1h0M1068.8 253.5h0M1069.9 215.3h0M1070.4 211.9h0M1070.4 207.9h0M1070.1 204.5h0M1069.9 246.2h0M1070.6 220.9h0M1070.9 214.7h0M1070.5 206.5h0M1070.9 197.3h0M1071.0 248.3h0M1071.2 253.1h0M1072.2 217.5h0M1071.6 211.7h0M1071.6 207.8h0M1072.4 248.7h0M1071.7 253.2h0M1071.6 257.7h0M1073.2 219.6h0M1073.1 213.7h0M1072.9 205.3h0M1072.9 201.4h0M1073.0 196.0h0M1073.1 249.7h0M1073.3 253.2h0M1072.9 262.9h0M1073.0 267.8h0M1074.0 221.5h0M1076.0 251.4h0M1075.6 256.1h0M1077.3 225.4h0M1077.1 221.2h0M1076.8 213.9h0M1076.7 256.5h0M1078.1 228.1h0M1077.6 224.9h0M1078.0 216.8h0M1078.0 212.7h0M1078.0 207.7h0M1078.1 254.0h0M1078.0 260.0h0M1078.4 263.4h0M1078.0 266.2h0M1078.9 225.2h0M1079.1 217.8h0M1078.5 212.8h0M1078.5 249.1h0M1079.2 253.1h0M1080.3 251.2h0M1079.7 257.2h0M1081.2 230.4h0M1081.2 223.7h0M1081.4 252.4h0M1082.4 223.4h0M1082.3 217.6h0M1083.0 225.2h0M1083.6 230.6h0M1084.2 222.8h0M1085.0 227.7h0M1084.9 221.2h0M1085.0 218.1h0M1085.2 252.2h0M1085.3 261.3h0M1085.0 262.3h0M1086.4 226.5h0M1087.2 251.3h0M1088.0 229.6h0M1087.5 252.7h0M1091.1 227.1h0M1091.0 223.2h0M1091.0 220.4h0M1091.0 247.6h0M1091.2 252.6h0M1091.0 260.2h0M1093.1 226.2h0M1094.2 227.2h0M1095.5 225.9h0M1095.5 219.7h0M1095.0 218.6h0M1094.7 250.1h0M1095.3 253.4h0M1095.0 254.4h0M1096.0 227.8h0M1097.1 251.7h0M1098.3 248.3h0M1099.2 247.9h0M1100.6 225.3h0M1100.7 246.8h0M1102.2 224.1h0M1102.1 218.7h0M1102.0 216.5h0M1102.0 248.3h0M1102.8 225.8h0M1109.0 224.2h0M1108.7 218.0h0M1109.3 212.7h0M1109.0 205.4h0M1109.5 224.5h0M1110.5 218.3h0M1111.3 230.1h0M1111.4 222.4h0M1111.4 217.0h0M1111.5 231.0h0M1111.6 226.3h0M1114.3 234.0h0M1114.6 232.8h0M1115.0 230.5h0M1129.0 230.6h0M1130.0 232.7h0M1134.3 254.2h0M1135.2 232.9h0M1135.0 232.1h0M1134.6 260.2h0M1135.5 263.6h0M1135.4 268.7h0M1135.0 270.4h0M1135.7 255.2h0M1135.7 261.5h0M1137.0 259.0h0M1137.0 266.5h0M1137.7 255.5h0M1138.1 262.1h0M1139.6 230.5h0M1140.0 230.4h0M1139.9 255.7h0M1139.8 261.9h0M1140.0 270.0h0M1141.8 256.4h0M1142.3 260.5h0M1143.7 232.7h0M1144.2 253.1h0M1143.7 258.7h0M1145.3 229.6h0M1145.0 228.4h0M1144.8 249.6h0M1144.6 257.2h0M1145.0 264.2h0M1147.3 230.4h0M1147.1 250.7h0M1149.5 232.6h0M1152.3 248.9h0M1152.9 252.1h0M1153.5 252.0h0M1154.7 232.0h0M1155.0 230.3h0M1155.4 251.4h0M1155.0 254.2h0M1157.3 251.2h0M1166.9 248.4h0M1166.6 251.5h0M1167.6 232.8h0M1167.9 225.6h0M1169.3 228.0h0M1169.0 224.1h0M1169.9 226.4h0M1171.3 225.7h0M1170.9 217.4h0M1171.0 210.0h0M1171.1 250.4h0M1170.7 253.5h0M1170.9 258.0h0M1171.0 261.5h0M1172.1 224.7h0M1172.4 215.5h0M1173.7 221.0h0M1174.5 214.1h0M1174.6 215.5h0M1174.8 212.0h0M1176.8 211.1h0M1176.9 240.0h0M1178.0 206.6h0M1177.7 199.1h0M1178.1 242.4h0M1178.6 213.7h0M1179.5 209.5h0M1178.6 203.2h0M1179.0 199.2h0M1179.1 235.0h0M1178.7 239.4h0M1179.4 247.6h0M1179.0 249.6h0M1180.8 227.7h0M1181.0 220.8h0M1183.0 252.3h0M1187.7 256.9h0M1188.3 261.7h0M1188.2 265.6h0M1188.6 256.2h0M1189.2 260.7h0M1193.0 234.8h0M1193.5 238.0h0M1193.6 230.8h0M1194.0 230.4h0M1197.2 262.4h0M1201.3 231.1h0M1201.0 230.5h0M1209.5 191.6h0M1210.0 189.2h0M1211.0 197.5h0M1212.4 285.3h0M1212.5 293.3h0M1212.6 253.1h0M1213.1 247.0h0M1212.8 239.4h0M1213.2 231.9h0M1213.2 225.7h0M1212.9 214.6h0M1213.0 206.1h0M1212.8 193.5h0M1213.0 193.1h0M1214.2 266.2h0M1213.5 260.9h0M1214.1 255.5h0M1214.5 251.9h0M1214.0 244.7h0M1213.7 241.5h0M1214.1 235.6h0M1214.0 231.0h0M1214.1 225.4h0M1214.0 215.4h0M1214.1 203.8h0M1216.0 317.5h0M1215.9 324.0h0M1216.8 269.6h0M1216.8 261.4h0M1217.1 256.2h0M1217.4 249.8h0M1217.0 239.9h0M1218.2 271.4h0M1217.6 263.2h0M1217.6 260.0h0M1218.2 303.9h0M1219.4 296.3h0M1218.7 300.3h0M1220.2 245.0h0M1227.0 238.2h0M1227.0 232.9h0M1228.4 279.9h0M1227.9 283.0h0M1228.2 291.9h0M1232.2 275.8h0M1232.4 281.6h0M1234.5 272.3h0M1259.1 260.1h0M1260.9 256.6h0M1262.7 255.8h0M1262.6 262.2h0M1268.1 258.1h0M1268.7 231.3h0M1272.0 234.9h0M1272.2 231.4h0M1286.2 253.9h0M1287.0 256.9h0M1293.8 259.8h0M1298.3 232.5h0M1304.0 258.1h0M1309.6 229.8h0M1316.2 260.4h0M1320.0 241.3h0M1336.1 258.2h0M1359.1 239.5h0M1363.8 243.2h0M1368.1 268.7h0M1367.9 275.4h0M1392.1 266.7h0M1397.5 245.6h0M1435.6 267.3h0M1450.9 200.1h0M1450.8 265.6h0M1451.7 209.6h0M1452.4 201.8h0M1456.9 257.3h0M1456.8 266.2h0M1459.3 191.1h0M1459.2 184.9h0M1459.2 177.8h0M1458.6 171.5h0M212.0 262.2h0M212.4 268.1h0M212.3 274.1h0M212.4 283.0h0M851.6 138.0h0M851.5 144.7h0M852.4 153.4h0M851.7 160.0h0M851.7 164.1h0M851.2 172.7h0M872.7 154.4h0M872.9 159.4h0M872.0 167.2h0M872.8 175.3h0M903.2 140.2h0M902.7 147.8h0M902.8 151.7h0M903.1 158.7h0M903.6 166.4h0M933.7 247.2h0M933.9 254.0h0M933.9 258.8h0M934.4 263.1h0M934.3 269.6h0M1095.1 196.9h0M1094.9 203.8h0M1095.5 211.1h0M1114.7 246.9h0M1114.6 255.4h0M1115.5 264.0h0M1140.3 209.7h0M1139.7 215.9h0M1140.6 220.7h0M1140.4 224.3h0M1190.4 207.3h0M1189.9 213.4h0M1190.9 217.0h0M1190.0 222.5h0M425.4 289.5h0M425.3 293.8h0M425.9 302.1h0M437.8 384.5h0M437.2 388.2h0M437.8 395.3h0M438.1 400.9h0" class="b"/><path d="M115.7 273.2L123.1 265.1L126.3 269.9L131.2 274.0L134.5 274.8L136.9 269.9L140.2 281.4L142.6 289.5L148.3 287.9L152.4 278.9L154.9 280.6L157.3 278.1L159.8 280.6L163.0 275.7L168.7 278.1L173.6 276.5L175.3 273.2L178.5 272.4L182.6 257.7L188.3 254.4L191.6 261.0L194.0 263.4L198.1 255.3L200.6 251.2L202.2 254.4L203.8 251.2L207.9 254.4L212.0 257.7L216.1 253.6L220.9 250.4L224.2 256.9L227.5 269.9L230.7 283.8L233.2 268.3L235.3 233.2L238.9 237.3L242.2 247.9L245.4 238.9L249.5 225.9L253.6 224.3L255.2 245.5L257.7 225.1L260.9 234.1L263.4 232.4L265.0 251.2L267.4 231.6L270.7 242.2L274.8 244.7L277.2 251.2L279.7 246.3L284.6 260.2L286.2 250.4L288.7 269.1L291.1 251.2L294.4 266.7L297.6 283.8L300.9 290.3L304.2 284.6L306.6 274.8L309.1 262.6L313.1 257.7L314.8 268.3L316.4 256.9L318.8 263.4L322.9 252.8L327.0 253.6L331.9 246.3L336.0 242.2L337.6 242.2L340.1 264.2L341.7 256.9L344.9 271.6L344.9 271.9L347.0 261.2L349.3 265.4L350.9 265.7L353.5 261.2L356.4 259.5L358.5 256.6L360.9 253.2L362.7 254.7L364.9 257.1L367.4 283.1L369.9 284.3L372.3 317.7L374.9 382.2L377.1 422.7L379.6 376.2L382.3 341.7L384.5 337.7L387.3 300.5L389.0 276.5L390.8 296.1L393.2 303.4L395.1 293.7L397.1 285.9L399.4 275.1L401.9 283.7L404.6 319.2L407.0 295.6L408.8 324.5L411.5 332.2L413.8 358.4L416.5 382.2L418.8 395.2L421.4 376.5L424.3 363.9L426.4 361.5L428.1 356.5L430.8 354.1L432.4 346.9L434.9 355.7L436.9 369.7L439.1 354.8L441.9 333.3L444.3 324.5L445.8 324.3L448.2 340.9L449.9 362.9L451.9 367.7L454.7 353.5L456.8 340.5L459.1 319.7L461.3 294.1L463.7 288.0L465.8 282.8L468.3 292.4L471.1 314.8L473.4 322.1L475.4 330.6L477.7 347.1L480.1 337.2L481.7 328.0L484.2 321.0L486.2 327.0L487.8 327.8L489.4 323.5L491.2 310.4L493.4 304.4L495.4 311.2L497.4 314.7L499.3 315.7L501.3 304.2L503.6 291.3L506.1 276.1L508.7 268.2L510.6 260.4L513.1 254.0L514.7 244.1L517.4 239.6L519.5 241.4L521.5 240.7L523.9 249.8L525.7 246.4L527.4 243.7L530.0 244.1L532.7 244.9L535.3 246.1L537.7 243.5L539.4 235.8L541.3 242.6L543.3 241.9L545.4 243.3L548.1 253.9L549.9 266.2L552.6 254.6L555.4 231.9L558.2 238.2L560.0 235.9L562.4 224.1L564.7 228.4L566.5 240.2L568.1 238.3L570.7 243.8L572.3 255.1L575.1 244.7L577.8 250.3L579.4 239.3L581.9 243.6L584.3 246.6L586.6 230.0L588.9 243.1L590.9 240.1L593.1 242.6L595.6 226.6L597.9 220.6L600.5 220.7L603.3 225.4L605.9 222.7L608.2 222.0L610.9 225.0L612.8 222.0L615.0 213.0L617.6 216.2L619.1 217.1L620.8 215.8L622.5 222.2L624.1 212.9L626.3 206.6L628.3 207.5L630.7 206.3L632.5 209.8L634.5 220.5L637.0 229.1L639.0 234.0L641.1 238.3L643.4 244.2L646.0 245.8L648.4 250.3L650.5 263.7L653.0 267.2L655.2 255.3L657.0 245.9L658.7 256.0L660.8 240.7L663.5 243.8L665.6 249.5L667.5 239.9L669.6 244.0L672.0 243.0L674.7 240.1L677.2 233.9L679.5 243.0L681.1 245.8L682.8 246.0L684.5 246.6L686.1 239.6L687.7 229.9L690.4 222.1L692.8 230.2L695.4 237.6L698.0 230.7L699.6 228.9L702.1 220.6L703.8 231.1L705.4 221.3L707.4 200.8L709.2 187.1L711.0 193.8L713.5 225.1L715.6 222.9L717.6 215.8L719.7 206.4L722.5 207.7L724.6 211.6L727.1 213.4L729.6 214.5L731.8 209.3L734.2 211.2L735.8 196.3L738.4 177.3L740.5 154.9L743.0 141.7L744.8 134.2L747.1 128.7L749.5 138.5L752.3 144.1L754.4 156.4L757.1 140.7L758.9 135.8L760.5 137.9L762.3 147.1L764.3 148.8L766.0 153.9L768.8 138.8L771.0 153.5L773.6 164.4L775.8 155.6L778.3 182.3L780.8 190.4L783.6 185.0L785.5 181.5L788.0 170.0L790.6 157.5L792.5 184.4L794.3 193.8L796.8 190.2L798.6 189.4L801.3 200.0L803.8 204.3L805.5 208.6L807.4 208.3L809.4 178.1L811.0 155.4L812.9 175.9L814.8 217.4L817.1 212.0L819.3 208.3L821.0 209.0L822.7 215.8L825.4 211.1L828.2 201.0L830.2 196.7L832.2 200.3L834.6 210.9L836.5 209.6L839.0 219.8L841.3 216.6L843.0 213.3L845.4 212.2L847.9 209.2L850.3 203.9L852.6 206.9L855.1 219.5L856.8 223.0L858.7 222.0L861.2 220.5L863.6 219.9L865.8 216.3L867.4 215.9L869.9 211.1L872.4 203.6L874.4 211.6L877.1 224.4L878.7 221.9L881.3 220.5L883.3 219.0L885.5 220.0L888.1 216.6L889.8 220.6L891.7 212.7L894.2 202.7L896.7 206.3L898.8 224.2L901.3 198.7L903.7 177.8L905.4 200.2L907.6 232.0L909.9 221.3L912.5 213.4L914.1 215.0L916.9 208.4L918.9 209.4L921.3 213.9L924.1 217.9L926.8 224.3L929.0 228.2L930.5 232.5L933.1 239.1L935.3 233.0L937.4 225.6L939.0 224.8L941.2 219.6L943.5 207.9L946.3 195.1L948.9 192.2L951.3 212.9L953.1 232.3L954.8 224.5L956.7 230.7L959.4 235.4L962.1 234.0L964.4 239.5L966.9 234.4L968.9 237.6L971.6 226.6L973.7 224.6L975.4 217.9L977.0 225.8L978.8 230.6L981.0 233.4L983.1 232.2L985.5 235.6L988.0 240.8L990.1 240.7L992.6 239.3L994.6 222.6L996.9 217.8L998.7 219.0L1001.3 218.1L1003.0 215.6L1004.9 214.5L1006.6 210.0L1008.2 210.5L1009.9 212.2L1011.5 214.6L1013.1 216.7L1015.5 235.3L1017.2 232.0L1018.7 234.8L1021.5 233.0L1023.7 233.0L1025.5 231.2L1027.2 230.8L1028.8 233.3L1031.4 231.6L1033.5 239.0L1035.4 236.3L1037.3 237.4L1039.3 228.0L1040.9 225.1L1043.3 221.2L1044.8 231.9L1046.6 236.3L1048.2 240.0L1050.9 236.3L1052.7 237.5L1055.3 233.7L1058.0 234.7L1060.0 233.0L1062.3 233.7L1064.3 230.0L1066.9 232.0L1068.9 236.2L1071.3 240.0L1073.8 238.0L1076.4 241.6L1079.1 236.0L1081.1 236.1L1083.7 239.5L1085.9 239.0L1088.4 239.9L1090.7 237.4L1092.9 235.0L1094.6 236.5L1096.8 237.1L1099.3 237.9L1101.2 238.1L1103.8 236.2L1106.5 234.1L1108.7 240.8L1110.6 238.3L1112.7 241.5L1115.5 241.5L1117.2 240.9L1118.8 240.6L1121.2 240.4L1122.9 240.4L1125.3 240.3L1127.2 240.3L1130.0 240.8L1132.1 243.7L1134.7 240.7L1136.9 238.7L1138.7 240.4L1141.3 240.9L1143.0 246.7L1144.8 243.3L1147.5 243.2L1149.4 242.3L1152.0 239.2L1154.5 238.7L1157.2 239.1L1159.4 240.8L1161.1 240.7L1163.7 239.8L1165.5 238.5L1168.0 238.5L1169.6 237.5L1171.3 241.3L1173.5 234.7L1175.9 225.5L1178.3 223.6L1181.1 240.5L1183.1 240.2L1184.9 240.7L1186.7 243.4L1189.4 228.5L1192.2 234.8L1194.5 248.8L1196.6 253.3L1199.4 243.0L1201.5 240.3L1204.4 237.6L1207.1 235.0L1208.9 224.3L1210.6 211.7L1212.8 283.2L1215.2 315.7L1217.1 305.4L1219.2 267.3L1221.7 249.7L1223.7 254.9L1225.7 260.0L1227.4 266.5L1229.9 257.3L1232.7 253.0L1234.7 247.3L1236.5 245.8L1238.7 250.2L1241.0 242.9L1242.9 245.2L1245.0 245.3L1247.0 239.8L1248.8 241.6L1250.5 242.0L1252.8 239.8L1254.4 239.8L1256.2 239.6L1259.0 237.4L1261.6 240.5L1263.4 241.3L1264.9 240.2L1266.5 242.8L1268.8 245.4L1270.7 246.3L1273.3 245.1L1274.9 247.3L1277.0 245.9L1279.7 242.9L1282.3 242.2L1284.9 241.4L1287.5 239.0L1289.7 243.4L1291.6 246.5L1294.0 247.8L1296.7 248.9L1299.2 244.7L1301.9 247.8L1304.0 244.9L1306.2 248.4L1308.7 250.9L1311.5 249.1L1313.5 250.2L1315.7 252.1L1318.5 251.1L1320.2 251.9L1322.3 254.2L1325.0 255.0L1327.3 251.0L1328.9 249.8L1331.1 242.5L1333.0 235.9L1334.7 233.1L1337.1 243.2L1339.8 251.2L1342.6 252.3L1345.4 253.6L1347.2 254.0L1349.1 256.0L1351.0 257.3L1353.0 255.8L1355.0 255.7L1356.9 256.4L1359.7 257.0L1361.5 256.9L1363.2 252.8L1365.8 254.4L1368.2 256.3L1370.1 257.0L1372.9 259.3L1375.1 259.4L1377.0 258.9L1378.8 259.3L1381.7 258.8L1383.4 258.6L1386.3 254.1L1388.0 250.0L1389.6 250.1L1391.4 250.8L1394.0 256.4L1396.8 258.7L1399.1 259.6L1401.1 259.7L1404.0 254.3L1405.7 252.1L1407.4 246.1L1409.1 252.9L1410.9 259.3L1413.7 257.7L1415.6 258.5L1417.7 265.2L1420.2 266.8L1422.2 269.1L1424.7 273.6L1426.9 276.2L1429.1 278.6L1431.8 277.8L1433.6 275.0L1436.2 273.9L1438.0 274.6L1439.8 272.6L1441.7 270.8L1444.5 268.0L1446.6 266.1L1448.1 264.4L1450.8 261.2L1453.3 207.0L1455.5 221.9L1457.8 240.4L1459.9 255.0L1461.8 253.2" class="o"/></g>
<g stroke="#000" stroke-width="1.11" fill="none"><path d="M115.5 518.5v4.9M284.5 518.5v4.9M452.5 518.5v4.9M620.5 518.5v4.9M789.5 518.5v4.9M957.5 518.5v4.9M1125.5 518.5v4.9M1294.5 518.5v4.9M115.5 71.5h-4.9M115.5 128.5h-4.9M115.5 184.5h-4.9M115.5 240.5h-4.9M115.5 296.5h-4.9M115.5 352.5h-4.9M115.5 409.5h-4.9M115.5 465.5h-4.9"/><rect x="115.5" y="38.5" width="1347.0" height="480.0"/></g><g class="tk" text-anchor="end"><text x="105.7" y="79.3">1.5</text><text x="105.7" y="136.3">1.0</text><text x="105.7" y="192.3">0.5</text><text x="105.7" y="248.3">0.0</text><text x="105.7" y="304.3">−0.5</text><text x="105.7" y="360.3">−1.0</text><text x="105.7" y="417.3">−1.5</text><text x="105.7" y="473.3">−2.0</text></g>
<rect x="1047.4" y="48.6" width="405.89999999999986" height="79.4" rx="3.5" fill="#fff" fill-opacity="0.8" stroke="#ccc" stroke-opacity="0.8" stroke-width="1.11"/><circle cx="1073.5" cy="63.6" r="2.75" fill="#1f77b4"/><path d="M1053.1 102.0h38.7" stroke="#ff7f0e" stroke-width="2.08"/><g class="lg"><text x="1106.5" y="69.2">Raw Data</text><text x="1106.5" y="96.1">Butterworth Filtered Data</text><text x="1106.5" y="117.19999999999999">(N=6, Tc=3.3333 min, Type: low)</text></g>
<rect x="115.5" y="575.5" width="1347.0" height="479.0" fill="#fff"/><rect x="119.2" y="575.5" width="601.8" height="479.0" fill="#e9e9e9"/>
<g stroke="#b0b0b0" stroke-width="1" stroke-dasharray="1.11 1.83" fill="none"><path d="M284.5 1054.5V575.5"/><path d="M452.5 1054.5V575.5"/><path d="M620.5 1054.5V575.5"/><path d="M789.5 1054.5V575.5"/><path d="M957.5 1054.5V575.5"/><path d="M1125.5 1054.5V575.5"/><path d="M1294.5 1054.5V575.5"/><path d="M115.5 625.5H1462.5"/><path d="M115.5 727.5H1462.5"/><path d="M115.5 829.5H1462.5"/><path d="M115.5 930.5H1462.5"/><path d="M115.5 1032.5H1462.5"/></g>
<g clip-path="url(#c2)"><path d="M116.0 829.4V1015.2M117.0 850.7V940.7M118.0 869.6V944.9M119.0 826.2V1013.1M120.0 904.3V964.0M121.0 928.1V990.2M122.0 891.3V1018.2M123.0 922.1V1015.6M124.0 899.6V976.0M125.0 873.5V954.6M126.0 810.1V990.5M127.0 847.9V934.5M128.0 892.4V931.9M129.0 938.0V983.5M130.0 884.9V992.0M131.0 953.6V992.4M132.0 925.2V966.2M133.0 897.1V948.7M134.0 920.7V984.6M135.0 885.9V1006.2M136.0 952.1V982.7M137.0 921.0V965.1M138.0 889.8V931.9M139.0 897.7V1014.7M140.0 943.4V1019.0M141.0 970.2V996.5M142.0 954.1V1007.7M143.0 938.0V983.2M144.0 921.1V1015.5M145.0 944.8V979.1M146.0 967.7V1004.8M147.0 990.6V1005.4M148.0 987.7V1008.3M149.0 894.5V1007.7M150.0 927.9V968.7M151.0 898.6V987.6M152.0 930.1V974.7M153.0 961.2V1009.5M154.0 933.2V987.4M155.0 905.3V957.3M156.0 900.9V1008.3M157.0 960.8V986.8M158.0 987.0V1007.5M159.0 989.3V1000.5M160.0 965.5V991.6M161.0 906.2V1013.4M162.0 911.5V978.9M163.0 943.1V999.3M164.0 970.9V1019.4M165.0 1005.6V1019.3M166.0 970.4V1006.2M167.0 897.7V1019.2M168.0 899.8V975.8M169.0 931.4V970.9M170.0 951.7V999.0M171.0 829.4V1018.5M172.0 877.5V980.3M173.0 820.8V978.0M174.0 767.5V1008.3M175.0 877.0V999.6M176.0 917.1V1017.1M177.0 913.9V979.0M178.0 842.2V1009.4M179.0 875.0V955.3M180.0 891.6V989.5M181.0 928.1V969.6M182.0 874.2V992.8M183.0 901.0V989.8M184.0 886.0V955.3M185.0 911.2V975.4M186.0 946.0V975.3M187.0 918.5V963.8M188.0 877.4V983.6M189.0 921.1V952.6M190.0 951.6V977.2M191.0 949.7V979.8M192.0 897.7V982.8M193.0 901.6V961.7M194.0 940.9V977.1M195.0 891.3V993.3M196.0 951.1V989.7M197.0 914.4V966.8M198.0 854.9V973.5M199.0 829.4V1007.3M200.0 916.3V1010.1M201.0 975.7V1006.2M202.0 884.9V1012.7M203.0 938.1V996.1M204.0 909.4V973.5M205.0 906.2V1016.7M206.0 967.5V1018.1M207.0 962.8V1000.1M208.0 928.6V985.3M209.0 881.7V1011.9M210.0 917.2V1005.1M211.0 943.0V975.3M212.0 910.5V1022.4M213.0 967.7V991.4M214.0 951.7V1002.0M215.0 931.9V970.8M216.0 909.0V965.0M217.0 905.1V1017.8M218.0 946.8V997.4M219.0 964.4V1015.7M220.0 942.8V1020.4M221.0 930.4V996.7M222.0 903.0V1014.8M223.0 947.3V986.3M224.0 987.3V1009.8M225.0 988.3V1005.3M226.0 910.5V1019.3M227.0 905.3V1015.2M228.0 938.6V1007.0M229.0 957.4V988.4M230.0 976.3V991.3M231.0 884.9V1006.1M232.0 884.2V978.2M233.0 735.4V998.7M234.0 679.9V987.9M235.0 799.5V978.7M236.0 869.1V951.2M237.0 752.5V1009.6M238.0 888.6V968.4M239.0 836.5V1012.1M240.0 878.4V1015.8M241.0 940.8V1001.1M242.0 963.5V999.2M243.0 976.2V1014.4M244.0 803.7V1019.1M245.0 892.2V950.8M246.0 846.0V936.6M247.0 820.7V958.3M248.0 849.8V955.2M249.0 797.3V1010.9M250.0 877.3V970.0M251.0 739.7V1007.5M252.0 806.5V918.9M253.0 872.3V971.5M254.0 842.2V1009.5M255.0 911.9V976.5M256.0 880.0V945.5M257.0 887.1V1011.5M258.0 942.8V1002.9M259.0 899.0V970.9M260.0 850.7V1005.3M261.0 880.2V990.4M262.0 902.6V987.8M263.0 925.0V1003.2M264.0 876.3V1014.0M265.0 929.0V993.0M266.0 910.6V991.1M267.0 892.2V960.0M268.0 873.8V1007.8M269.0 911.9V999.9M270.0 940.3V1000.9M271.0 768.5V1011.5M272.0 793.1V1001.3M273.0 885.0V967.4M274.0 842.2V1016.9M275.0 878.5V986.6M276.0 930.6V1008.3M277.0 986.9V1014.3M278.0 907.1V1015.3M279.0 839.3V978.3M280.0 831.5V1006.6M281.0 889.8V991.4M282.0 913.3V995.7M283.0 906.9V1013.1M284.0 805.9V1007.3M285.0 834.3V895.0M286.0 798.0V901.3M287.0 803.7V1005.6M288.0 960.4V999.0M289.0 885.6V1001.6M290.0 838.2V944.6M291.0 818.7V1002.4M292.0 907.1V990.9M293.0 946.1V991.9M294.0 941.2V999.9M295.0 855.0V1005.6M296.0 888.6V986.6M297.0 905.6V1000.9M298.0 850.7V1008.0M299.0 904.5V977.3M300.0 840.7V1009.6M301.0 835.8V1008.9M302.0 942.2V989.5M303.0 768.5V1007.6M304.0 824.2V962.3M305.0 816.8V970.7M306.0 735.4V1005.6M307.0 858.2V940.8M308.0 793.6V970.3M309.0 708.6V951.3M310.0 671.4V987.2M311.0 866.6V985.4M312.0 871.1V972.1M313.0 756.8V993.4M314.0 853.7V991.1M315.0 799.5V1001.4M316.0 837.7V1005.3M317.0 831.4V956.8M318.0 877.1V981.6M319.0 787.7V1005.3M320.0 905.8V974.0M321.0 829.4V974.0M322.0 906.6V996.7M323.0 795.2V1005.3M324.0 879.7V975.0M325.0 848.8V988.5M326.0 937.2V986.9M327.0 899.6V996.0M328.0 784.5V1001.2M329.0 843.9V971.6M330.0 856.4V933.3M331.0 818.7V1005.9M332.0 790.9V1002.0M333.0 848.3V950.2M334.0 897.8V957.2M335.0 862.3V994.8M336.0 788.8V1004.2M337.0 866.1V940.7M338.0 893.8V971.2M339.0 778.1V1006.0M340.0 845.7V965.2M341.0 813.6V927.8M342.0 822.0V949.0M343.0 758.9V1003.3M344.0 804.6V955.0M345.0 709.8V991.3M346.0 841.8V955.4M347.0 789.5V979.7M348.0 639.4V972.3M349.0 714.9V870.9M350.0 792.0V903.4M351.0 650.1V977.7M352.0 746.2V917.0M353.0 817.7V929.6M354.0 837.7V933.5M355.0 686.3V975.7M356.0 828.7V958.9M357.0 803.3V972.3M358.0 780.2V947.7M359.0 707.7V998.4M360.0 807.4V1004.2M361.0 763.2V1007.8M362.0 959.5V986.4M363.0 884.9V1015.1M364.0 991.6V1018.7" class="b"/><path d="M364.0 1008.6V1020.0M365.0 1006.0V1020.1M366.0 1008.1V1022.2M367.0 1009.7V1021.9M368.0 1003.5V1023.2M369.0 1006.5V1021.9M370.0 1008.1V1019.3M371.0 1004.7V1018.8M372.0 1007.2V1020.0M373.0 1003.0V1017.6M374.0 1005.5V1018.6M375.0 1002.5V1019.9M376.0 1004.0V1019.7M377.0 1003.9V1020.3M378.0 999.4V1016.2M379.0 995.2V1021.8M380.0 1000.3V1014.9M381.0 997.2V1016.7M382.0 992.4V1014.4M383.0 991.7V1012.0M384.0 992.6V1014.8M385.0 988.1V1015.1M386.0 989.6V1013.1M387.0 989.0V1011.7M388.0 976.0V1017.9M389.0 990.6V1010.3M390.0 992.3V1012.6M391.0 986.5V1016.0M392.0 992.6V1016.3M393.0 979.3V1019.1M394.0 998.6V1018.4M395.0 1002.9V1016.1M396.0 1000.4V1019.8M397.0 1009.4V1021.5M398.0 1012.7V1023.4M399.0 1014.2V1024.9M400.0 1017.8V1024.9M401.0 1016.5V1024.9M402.0 1016.3V1024.9M403.0 1016.3V1025.0M404.0 1017.2V1025.1M405.0 1017.2V1025.3M406.0 1017.0V1025.2M407.0 1017.2V1025.3M408.0 1016.7V1025.8M409.0 1014.7V1024.5M410.0 1010.5V1024.5M411.0 1009.7V1025.1M412.0 1009.0V1022.5M413.0 996.8V1025.8M414.0 1002.6V1022.6M415.0 1006.8V1020.4M416.0 1003.4V1021.2M417.0 1007.1V1020.1M418.0 1007.1V1021.4M419.0 1004.7V1023.2M420.0 1008.1V1023.6M421.0 1003.2V1024.5M422.0 1008.4V1023.5M423.0 1005.1V1021.5M424.0 1003.1V1015.4M425.0 1001.1V1016.8M426.0 998.3V1013.2M427.0 995.6V1013.7M428.0 992.4V1008.6M429.0 989.2V1021.9M430.0 991.3V1006.9M431.0 993.6V1008.5M432.0 992.6V1016.8M433.0 985.4V1024.4M434.0 993.6V1023.3M435.0 997.3V1019.9M436.0 1000.1V1022.9M437.0 1006.2V1024.3M438.0 1006.3V1021.7M439.0 1010.2V1024.6M440.0 1008.6V1027.2M441.0 1010.4V1024.8M442.0 1008.7V1024.9M443.0 1008.8V1023.7M444.0 1010.9V1024.6M445.0 1009.9V1024.6M446.0 1001.4V1027.2M447.0 1006.5V1023.2M448.0 1006.1V1025.3M449.0 1006.5V1025.1M450.0 1001.4V1025.7M451.0 1003.8V1025.0M452.0 1002.0V1021.1M453.0 1003.6V1022.3M454.0 996.8V1019.9M455.0 995.0V1019.9M456.0 1001.8V1020.0M457.0 987.7V1025.8M458.0 1001.2V1020.8M459.0 990.9V1021.3M460.0 994.4V1020.9M461.0 989.2V1021.1M462.0 996.6V1022.2M463.0 990.4V1021.4M464.0 981.2V1024.5M465.0 995.6V1020.3M466.0 999.2V1024.1M467.0 1007.7V1022.4M468.0 1006.4V1022.8M469.0 1008.8V1027.2M470.0 1015.1V1025.3M471.0 1013.5V1025.9M472.0 1014.5V1025.9M473.0 1011.5V1026.0M474.0 1013.1V1026.3M475.0 1012.9V1026.2M476.0 1012.7V1025.5M477.0 1008.7V1027.1M478.0 1012.5V1025.3M479.0 1009.3V1024.4M480.0 1009.5V1024.9M481.0 1008.5V1024.3M482.0 1007.7V1025.6M483.0 1006.6V1023.5M484.0 1009.3V1025.0M485.0 998.2V1025.8M486.0 1008.6V1021.8M487.0 1005.2V1022.6M488.0 1008.2V1025.1M489.0 1006.2V1022.0M490.0 1001.6V1021.9M491.0 1004.2V1025.2M492.0 1001.1V1022.4M493.0 1005.8V1024.5M494.0 1000.1V1023.7M495.0 1007.7V1022.7M496.0 994.1V1025.8M497.0 1005.6V1024.4M498.0 1004.4V1020.2M499.0 1002.6V1019.7M500.0 1001.7V1019.5M501.0 993.0V1025.8M502.0 999.9V1022.2M503.0 998.1V1018.1M504.0 1004.1V1019.0M505.0 1004.2V1019.8M506.0 1006.5V1023.3M507.0 1005.4V1024.5M508.0 1003.1V1022.7M509.0 998.0V1025.8M510.0 1004.2V1022.3M511.0 1002.3V1024.2M512.0 1003.6V1023.6M513.0 999.7V1023.5M514.0 1004.0V1023.8M515.0 1001.7V1023.2M516.0 1001.4V1021.5M517.0 998.3V1021.9M518.0 1003.8V1022.8M519.0 1001.8V1019.4M520.0 1002.8V1023.2M521.0 989.6V1024.6M522.0 1001.7V1021.3M523.0 1000.2V1024.6M524.0 1000.8V1022.2M525.0 1010.8V1025.7M526.0 1009.4V1024.6M527.0 1002.8V1027.0M528.0 1011.9V1026.3M529.0 1013.8V1026.6M530.0 1007.9V1026.9M531.0 1013.2V1026.1M532.0 1014.1V1026.6M533.0 1008.3V1026.1M534.0 1013.6V1025.2M535.0 1012.8V1027.4M536.0 1010.1V1027.4M537.0 1007.7V1026.8M538.0 1004.8V1028.5M539.0 1008.7V1026.4M540.0 1008.3V1027.5M541.0 1009.9V1027.0M542.0 1013.8V1025.1M543.0 1010.3V1027.1M544.0 1013.4V1027.3M545.0 1010.9V1026.3M546.0 1013.6V1026.9M547.0 1014.7V1027.7M548.0 1011.5V1026.1M549.0 1007.4V1028.5M550.0 1013.3V1026.3M551.0 1011.2V1026.3M552.0 1011.3V1026.9M553.0 1011.5V1027.6M554.0 1009.6V1025.0M555.0 1012.3V1025.3M556.0 1012.7V1026.8M557.0 1013.8V1026.5M558.0 1010.7V1024.9M559.0 1013.0V1024.1M560.0 1008.9V1027.8M561.0 1009.6V1025.9M562.0 1006.1V1028.5M563.0 1008.7V1027.6M564.0 1011.0V1024.4M565.0 1010.2V1023.9M566.0 1010.0V1025.6M567.0 1012.4V1027.5M568.0 1011.0V1024.0M569.0 1012.0V1024.5M570.0 1011.4V1026.9M571.0 1012.8V1025.1M572.0 1006.1V1028.5M573.0 1010.0V1025.6M574.0 1009.9V1026.5M575.0 1012.7V1025.1M576.0 1009.4V1027.8M577.0 1009.6V1027.4M578.0 1013.0V1026.0M579.0 1013.0V1026.6M580.0 1014.7V1025.8M581.0 1008.5V1026.1M582.0 1009.7V1027.2M583.0 1004.8V1028.5M584.0 1009.2V1027.0M585.0 1009.7V1026.1M586.0 1010.9V1024.9M587.0 1006.8V1022.9M588.0 1009.2V1022.0M589.0 1008.3V1024.9M590.0 1007.4V1024.3M591.0 1000.7V1027.1M592.0 1004.9V1020.8M593.0 1002.8V1024.8M594.0 996.0V1020.8M595.0 997.0V1019.0M596.0 992.3V1021.7M597.0 985.8V1024.6M598.0 994.1V1020.0M599.0 1004.1V1021.8M600.0 1002.6V1023.0M601.0 1009.2V1022.6M602.0 1010.0V1024.1M603.0 1008.8V1027.2M604.0 1014.8V1025.9M605.0 1012.5V1025.8M606.0 1012.4V1025.6M607.0 1011.8V1026.5M608.0 1007.5V1028.4M609.0 1012.0V1024.2M610.0 1012.5V1026.9M611.0 1011.0V1026.4M612.0 1012.3V1025.9M613.0 1012.0V1026.2M614.0 1015.0V1025.7M615.0 1015.8V1025.8M616.0 1013.9V1026.7M617.0 1011.2V1028.5M618.0 1014.4V1025.9M619.0 1014.2V1027.8M620.0 1013.7V1026.6M621.0 1012.3V1025.7M622.0 1009.5V1024.8M623.0 1009.5V1024.7M624.0 1007.3V1025.0M625.0 1006.6V1023.3M626.0 1005.5V1024.4M627.0 1001.1V1027.2M628.0 1008.8V1023.7M629.0 1006.8V1025.3M630.0 1009.7V1024.7M631.0 1012.0V1024.3M632.0 1008.2V1024.3M633.0 1010.8V1025.6M634.0 1011.4V1025.1M635.0 1010.6V1026.6M636.0 1008.8V1027.2M637.0 1013.2V1026.3M638.0 1014.2V1025.7M639.0 1011.8V1026.4M640.0 1012.8V1026.8M641.0 1014.5V1026.1M642.0 1012.7V1024.9M643.0 1013.2V1026.4M644.0 1008.6V1027.1M645.0 1007.6V1025.6M646.0 1004.2V1023.5M647.0 1003.0V1020.1M648.0 997.2V1017.3M649.0 994.0V1018.5M650.0 979.1V1019.1M651.0 964.1V1024.1M652.0 983.8V1020.3M653.0 980.1V1007.6M654.0 970.0V1016.6M655.0 970.9V1004.4M656.0 953.4V1019.3M657.0 971.1V1006.3M658.0 982.0V1017.2M659.0 974.7V1012.1M660.0 982.2V1010.2M661.0 965.9V1021.8M662.0 981.3V1009.7M663.0 974.3V1008.5M664.0 974.2V1020.4M665.0 978.1V1013.3M666.0 979.9V1017.2M667.0 976.3V1008.2M668.0 950.9V1024.6M669.0 980.8V1020.6M670.0 992.3V1022.7M671.0 998.6V1024.8M672.0 990.0V1027.2M673.0 1004.6V1024.3M674.0 1002.2V1019.9M675.0 997.0V1020.3M676.0 996.0V1025.7M677.0 1001.0V1023.9M678.0 991.0V1024.1M679.0 989.1V1019.3M680.0 989.0V1025.5M681.0 977.1V1027.2M682.0 994.8V1020.6M683.0 993.5V1024.6M684.0 981.2V1022.0M685.0 987.1V1016.8M686.0 986.6V1023.4M687.0 984.6V1017.8M688.0 988.6V1015.9M689.0 979.9V1015.6M690.0 964.2V1025.9M691.0 987.1V1018.1M692.0 985.4V1020.7M693.0 990.9V1023.1M694.0 982.4V1018.8M695.0 990.4V1023.7M696.0 994.2V1023.7M697.0 982.3V1027.2M698.0 998.3V1023.6M699.0 997.8V1021.9M700.0 1002.6V1026.2M701.0 1005.5V1025.5M702.0 1004.8V1027.2M703.0 1008.6V1026.2M704.0 1004.6V1024.5M705.0 1002.3V1020.6M706.0 1000.3V1023.2M707.0 1000.8V1018.6M708.0 990.2V1021.7M709.0 979.8V1024.5M710.0 990.1V1022.7M711.0 991.3V1021.9M712.0 999.1V1020.4M713.0 997.5V1019.4M714.0 993.6V1025.8M715.0 1004.0V1022.4M716.0 1004.0V1020.8M717.0 1008.0V1022.4M718.0 1007.2V1023.9M719.0 1011.5V1022.7M720.0 1014.1V1025.0M721.0 1015.4V1025.4M722.0 1013.6V1027.1M723.0 1016.0V1025.8M724.0 1017.0V1025.9M725.0 1014.3V1026.8M726.0 1016.8V1026.4M727.0 1014.6V1025.6M728.0 1013.0V1026.0M729.0 1015.2V1026.9M730.0 1015.1V1026.0M731.0 1009.1V1027.2M732.0 1015.2V1025.7M733.0 1011.3V1024.2M734.0 1010.1V1025.2M735.0 1010.1V1022.6M736.0 1003.2V1021.8M737.0 1003.6V1024.0M738.0 999.8V1023.0M739.0 1001.7V1022.8M740.0 988.7V1026.1M741.0 994.6V1018.6M742.0 996.0V1023.1M743.0 1000.2V1016.0M744.0 994.8V1017.3M745.0 998.1V1020.3M746.0 998.6V1020.7M747.0 997.9V1023.1M748.0 973.4V1003.3M749.0 947.4V981.6M750.0 921.3V970.5M751.0 885.8V1019.8M752.0 874.1V936.4M753.0 838.0V989.1M754.0 850.9V1000.1M755.0 852.4V984.8M756.0 836.6V968.3M757.0 837.9V932.7M758.0 845.8V996.7M759.0 840.0V946.2M760.0 856.9V944.2M761.0 840.7V970.7M762.0 846.7V988.7M763.0 830.9V926.3M764.0 838.9V927.3M765.0 852.5V980.0M766.0 878.2V934.0M767.0 877.6V965.3M768.0 927.9V1000.6M769.0 929.9V981.6M770.0 888.0V986.8M771.0 871.9V960.5M772.0 865.6V1009.0M773.0 865.0V980.5M774.0 880.1V964.9M775.0 896.6V985.0M776.0 909.5V1015.1M777.0 919.3V964.8M778.0 913.1V975.8M779.0 923.9V970.4M780.0 905.5V1001.8M781.0 924.3V981.0M782.0 928.4V989.6M783.0 917.1V978.9M784.0 908.2V967.8M785.0 890.6V1000.3M786.0 920.5V991.1M787.0 934.5V984.1M788.0 949.6V987.7M789.0 958.1V997.9M790.0 946.1V1006.9M791.0 966.4V1005.9M792.0 967.7V1004.6M793.0 966.0V1001.3M794.0 954.1V1012.3M795.0 963.7V996.6M796.0 942.1V996.1M797.0 930.2V1000.6M798.0 922.4V996.0M799.0 901.2V1015.4M800.0 930.9V999.7M801.0 955.5V1011.3M802.0 913.7V1015.4M803.0 937.3V998.0M804.0 940.7V1001.7M805.0 921.2V972.7M806.0 903.4V1012.6M807.0 916.9V982.1M808.0 916.2V979.4M809.0 936.4V998.7M810.0 952.1V1005.9M811.0 889.7V1015.2M812.0 934.4V985.8M813.0 917.2V999.4M814.0 878.5V1012.7M815.0 890.0V970.9M816.0 908.0V994.1M817.0 927.1V993.4M818.0 895.0V1015.2M819.0 940.8V1009.6M820.0 928.6V996.6M821.0 921.4V971.2M822.0 911.2V1001.0M823.0 906.0V1012.5M824.0 919.3V978.5M825.0 929.2V991.8M826.0 939.0V992.5M827.0 914.0V1015.1M828.0 945.6V1008.5M829.0 946.0V993.1M830.0 933.4V1006.7M831.0 940.4V996.5M832.0 921.0V1015.5M833.0 949.9V1011.4M834.0 963.8V1000.1M835.0 930.0V1018.5M836.0 965.7V1013.5M837.0 948.4V1000.9M838.0 937.8V990.4M839.0 930.7V993.4M840.0 911.0V1018.5M841.0 929.1V981.4M842.0 938.8V992.3M843.0 914.5V1018.5M844.0 934.4V1006.7M845.0 933.7V994.9M846.0 926.4V991.0M847.0 922.7V1009.1M848.0 912.3V1019.1M849.0 930.5V989.8M850.0 950.8V1001.4M851.0 966.4V1003.6M852.0 936.2V1026.9M853.0 965.5V1017.3M854.0 957.6V1014.4M855.0 939.1V1012.2M856.0 901.6V1018.9M857.0 918.9V993.7M858.0 915.0V978.1M859.0 904.1V993.9M860.0 902.1V998.9M861.0 885.6V1009.9M862.0 921.3V971.3M863.0 923.6V993.6M864.0 949.4V998.4M865.0 926.9V1017.9M866.0 965.5V1013.1M867.0 969.7V1012.4M868.0 975.6V1003.3M869.0 974.8V1002.7M870.0 955.9V1003.6M871.0 941.4V1015.6M872.0 964.4V1005.6M873.0 951.2V1008.9M874.0 949.3V997.1M875.0 954.8V1001.5M876.0 942.6V986.0M877.0 944.9V1007.8M878.0 946.1V984.3M879.0 915.0V1015.4M880.0 943.9V1006.0M881.0 952.9V1008.4M882.0 940.7V1003.4M883.0 923.0V1012.7M884.0 952.4V994.5M885.0 952.2V998.8M886.0 943.7V979.3M887.0 939.6V971.8M888.0 938.5V968.1M889.0 935.3V1007.1M890.0 949.4V976.7M891.0 954.4V986.3M892.0 960.2V990.9M893.0 971.3V998.0M894.0 945.0V1018.3M895.0 971.8V1014.0M896.0 983.3V1012.8M897.0 979.6V1011.5M898.0 984.8V1016.1M899.0 960.3V1022.5M900.0 973.7V1008.0M901.0 972.9V1004.8M902.0 960.3V1018.5M903.0 965.1V992.3M904.0 966.6V1012.0M905.0 964.7V996.2M906.0 966.3V997.3M907.0 965.8V1002.8M908.0 961.0V1018.7M909.0 973.1V1008.4M910.0 972.7V1005.0M911.0 978.1V1009.8M912.0 987.5V1015.6M913.0 990.2V1017.1M914.0 975.5V1023.1M915.0 994.0V1018.4M916.0 992.5V1017.7M917.0 983.7V1014.0M918.0 975.5V1024.4M919.0 987.7V1013.8M920.0 988.5V1014.1M921.0 985.3V1018.3M922.0 984.6V1017.5M923.0 989.2V1019.3M924.0 978.3V1021.7M925.0 992.1V1012.8M926.0 990.0V1013.3M927.0 994.4V1017.1M928.0 1001.4V1018.7M929.0 996.4V1021.6M930.0 989.7V1022.9M931.0 996.9V1022.3M932.0 995.5V1018.6M933.0 994.7V1018.6M934.0 996.6V1017.8M935.0 992.1V1016.9M936.0 988.8V1018.3M937.0 991.4V1017.7M938.0 969.5V1021.5M939.0 984.9V1015.7M940.0 970.8V1017.5M941.0 966.7V1015.8M942.0 971.4V1001.4M943.0 947.3V1018.7M944.0 957.1V1012.3M945.0 959.2V995.7M946.0 961.0V1001.0M947.0 966.3V1012.1M948.0 971.3V1004.0M949.0 974.6V1004.4M950.0 954.1V1018.5M951.0 973.2V1006.7M952.0 980.4V1011.5M953.0 987.2V1016.5M954.0 990.3V1019.7M955.0 992.5V1019.2M956.0 989.4V1027.2M957.0 1001.2V1024.8M958.0 1008.6V1024.2M959.0 999.4V1024.0M960.0 1004.7V1024.0M961.0 999.5V1024.7M962.0 990.6V1026.1M963.0 1005.5V1022.8M964.0 1001.3V1024.9M965.0 998.4V1023.5M966.0 998.4V1021.5M967.0 998.8V1020.3M968.0 996.5V1017.1M969.0 992.4V1021.0M970.0 984.6V1024.6M971.0 994.3V1020.4M972.0 992.3V1016.2M973.0 998.0V1021.5M974.0 994.7V1024.0M975.0 1002.2V1024.0M976.0 986.3V1026.1M977.0 1004.3V1022.4M978.0 1007.5V1025.7M979.0 1001.1V1022.8M980.0 1006.1V1023.1M981.0 1009.6V1025.2M982.0 1006.4V1026.3M983.0 1009.0V1026.1M984.0 1009.5V1025.8M985.0 1005.8V1027.6M986.0 1014.6V1026.6M987.0 1014.0V1026.5M988.0 1013.1V1027.2M989.0 1013.6V1026.3M990.0 1014.2V1026.2M991.0 1011.8V1029.1M992.0 1014.7V1027.8M993.0 1013.8V1025.9M994.0 1011.8V1024.8M995.0 1008.9V1026.9M996.0 1004.6V1021.6M997.0 1001.6V1023.9M998.0 1003.3V1021.2M999.0 992.1V1027.5M1000.0 1004.7V1022.2M1001.0 1003.1V1020.1M1002.0 999.7V1025.3M1003.0 1000.4V1019.4M1004.0 1003.7V1022.5M1005.0 999.4V1021.0M1006.0 1001.1V1018.4M1007.0 998.8V1021.7M1008.0 1003.6V1024.2M1009.0 1002.2V1022.4M1010.0 997.6V1018.9M1011.0 992.3V1026.0M1012.0 1001.3V1020.8M1013.0 999.6V1018.6M1014.0 1005.8V1019.7M1015.0 1002.8V1023.0M1016.0 1005.4V1023.4M1017.0 1005.9V1021.9M1018.0 1004.1V1024.4M1019.0 1004.8V1021.9M1020.0 1009.7V1025.3M1021.0 999.5V1026.0M1022.0 1012.0V1025.5M1023.0 1011.5V1024.0M1024.0 1014.1V1024.8M1025.0 1011.4V1025.9M1026.0 1013.7V1026.8M1027.0 1013.9V1027.5M1028.0 1017.2V1027.9M1029.0 1019.0V1028.2M1030.0 1017.0V1028.9M1031.0 1019.6V1027.7M1032.0 1019.4V1028.6M1033.0 1019.4V1027.5M1034.0 1018.8V1027.6M1035.0 1018.5V1027.4M1036.0 1018.6V1027.9M1037.0 1017.6V1027.7M1038.0 1017.5V1028.4M1039.0 1016.6V1027.4M1040.0 1015.1V1029.1M1041.0 1017.6V1027.2M1042.0 1017.9V1026.6M1043.0 1018.5V1027.0M1044.0 1018.5V1028.6M1045.0 1019.9V1027.8M1046.0 1019.8V1028.5M1047.0 1020.5V1028.5M1048.0 1021.2V1028.8M1049.0 1021.8V1028.7M1050.0 1020.8V1029.7M1051.0 1022.3V1029.2M1052.0 1022.4V1029.6M1053.0 1022.1V1029.7M1054.0 1022.4V1029.8M1055.0 1022.6V1030.0M1056.0 1023.3V1030.0M1057.0 1023.4V1030.2M1058.0 1023.4V1030.3M1059.0 1022.4V1030.6M1060.0 1023.8V1030.4M1061.0 1024.0V1030.5M1062.0 1024.3V1030.6M1063.0 1024.4V1030.7M1064.0 1024.5V1030.8M1065.0 1024.8V1030.9M1066.0 1025.1V1031.1M1067.0 1025.3V1031.2M1068.0 1025.4V1031.3M1069.0 1025.5V1031.4M1070.0 1025.7V1031.6M1071.0 1025.8V1031.7M1072.0 1025.5V1031.4M1073.0 1024.8V1030.7M1074.0 1024.2V1030.5M1075.0 1023.6V1030.0M1076.0 1023.0V1030.2M1077.0 1022.4V1030.2M1078.0 1021.8V1030.1M1079.0 1021.2V1030.0M1080.0 1020.6V1029.4M1081.0 1020.0V1028.0M1082.0 1019.4V1028.3M1083.0 1018.8V1031.1M1084.0 1019.4V1027.7M1085.0 1020.0V1029.9M1086.0 1020.6V1028.9M1087.0 1021.2V1029.3M1088.0 1021.8V1029.0M1089.0 1022.5V1030.8M1090.0 1023.0V1030.6M1091.0 1023.0V1031.1M1092.0 1023.2V1030.7M1093.0 1022.7V1030.6M1094.0 1022.3V1029.7M1095.0 1021.8V1030.4M1096.0 1021.2V1028.7M1097.0 1020.8V1030.4M1098.0 1020.4V1029.5M1099.0 1019.2V1031.1M1100.0 1019.9V1028.8M1101.0 1020.7V1029.4M1102.0 1020.8V1028.7M1103.0 1021.6V1029.5M1104.0 1022.0V1030.9M1105.0 1022.5V1030.8M1106.0 1023.1V1031.0M1107.0 1023.4V1031.0M1108.0 1024.2V1032.0M1109.0 1024.5V1032.1M1110.0 1024.5V1032.4M1111.0 1024.9V1032.1M1112.0 1024.4V1031.6M1113.0 1024.3V1031.1M1114.0 1024.0V1030.6M1115.0 1023.6V1030.9M1116.0 1023.2V1030.7M1117.0 1022.9V1031.1M1118.0 1022.5V1029.9M1119.0 1022.1V1030.0M1120.0 1021.7V1029.2M1121.0 1021.6V1031.1M1122.0 1022.3V1030.1M1123.0 1022.9V1030.5M1124.0 1023.6V1030.5M1125.0 1024.3V1031.3M1126.0 1024.9V1031.5M1127.0 1025.4V1031.8M1128.0 1026.0V1032.2M1129.0 1025.8V1032.7M1130.0 1026.1V1032.4M1131.0 1026.0V1032.3M1132.0 1025.7V1032.1M1133.0 1025.4V1032.2M1134.0 1025.0V1031.9M1135.0 1024.7V1032.1M1136.0 1024.4V1032.0M1137.0 1024.5V1032.0M1138.0 1023.8V1032.1M1139.0 1023.7V1031.1M1140.0 1022.9V1032.4M1141.0 1022.9V1031.8M1142.0 1022.5V1029.8M1143.0 1021.8V1031.3M1144.0 1021.5V1030.0M1145.0 1020.9V1030.1M1146.0 1020.4V1031.0M1147.0 1019.9V1028.8M1148.0 1019.3V1030.5M1149.0 1018.8V1031.1M1150.0 1019.2V1030.3M1151.0 1019.6V1030.6M1152.0 1020.0V1029.9M1153.0 1020.5V1028.7M1154.0 1020.9V1030.8M1155.0 1021.3V1029.4M1156.0 1021.7V1029.3M1157.0 1022.2V1031.5M1158.0 1022.6V1032.4M1159.0 1022.9V1030.9M1160.0 1023.2V1031.7M1161.0 1023.4V1030.9M1162.0 1023.6V1031.7M1163.0 1023.8V1031.8M1164.0 1024.0V1032.0M1165.0 1024.1V1031.7M1166.0 1024.4V1031.9M1167.0 1024.7V1032.0M1168.0 1024.8V1032.1M1169.0 1024.4V1032.4M1170.0 1025.1V1032.0M1171.0 1025.1V1031.9M1172.0 1024.8V1031.8M1173.0 1024.6V1032.0M1174.0 1024.9V1031.8M1175.0 1024.9V1032.0M1176.0 1025.0V1031.9M1177.0 1024.3V1032.3M1178.0 1024.2V1032.3M1179.0 1024.4V1032.3M1180.0 1024.4V1032.0M1181.0 1024.8V1032.1M1182.0 1023.9V1032.3M1183.0 1023.0V1032.4M1184.0 1023.7V1032.3M1185.0 1023.3V1032.1M1186.0 1022.7V1031.6M1187.0 1022.3V1031.2M1188.0 1022.0V1031.1M1189.0 1022.3V1031.7M1190.0 1021.3V1031.2M1191.0 1021.3V1030.2M1192.0 1020.5V1031.1M1193.0 1019.2V1032.4M1194.0 1020.9V1031.3M1195.0 1020.1V1029.5M1196.0 1021.1V1031.6M1197.0 1020.9V1030.7M1198.0 1020.3V1029.8M1199.0 1020.9V1029.5M1200.0 1020.6V1031.6M1201.0 1021.2V1031.5M1202.0 1021.6V1031.5M1203.0 1021.0V1031.4M1204.0 1021.9V1030.4M1205.0 1021.3V1031.6M1206.0 1021.6V1031.3M1207.0 1020.6V1032.4M1208.0 1023.2V1031.0M1209.0 1024.0V1032.2M1210.0 1025.6V1032.5M1211.0 1026.8V1033.2M1212.0 1027.9V1033.8M1213.0 1028.1V1034.0M1214.0 1028.0V1033.9M1215.0 1027.9V1033.8M1216.0 1027.8V1033.8M1217.0 1027.7V1033.7M1218.0 1027.6V1033.7M1219.0 1027.5V1033.7M1220.0 1027.4V1033.5M1221.0 1027.3V1033.6M1222.0 1027.2V1033.6M1223.0 1027.1V1033.4M1224.0 1027.0V1033.2M1225.0 1026.9V1033.4M1226.0 1026.8V1033.7M1227.0 1026.5V1033.3M1228.0 1026.3V1032.6M1229.0 1026.0V1032.5M1230.0 1025.8V1032.8M1231.0 1025.5V1032.9M1232.0 1025.3V1032.2M1233.0 1025.0V1032.4M1234.0 1024.6V1032.4M1235.0 1024.3V1032.2M1236.0 1023.9V1031.7M1237.0 1023.0V1032.4M1238.0 1023.6V1031.2M1239.0 1023.3V1031.5M1240.0 1022.8V1031.3M1241.0 1022.5V1030.7M1242.0 1022.5V1031.0M1243.0 1022.7V1030.9M1244.0 1022.4V1031.1M1245.0 1022.1V1031.7M1246.0 1021.6V1030.8M1247.0 1020.5V1032.4M1248.0 1021.9V1031.5M1249.0 1020.4V1030.8M1250.0 1020.3V1031.2M1251.0 1019.2V1030.1M1252.0 1020.0V1029.7M1253.0 1019.3V1029.3M1254.0 1016.4V1031.1M1255.0 1019.5V1029.3M1256.0 1018.9V1029.7M1257.0 1019.1V1031.1M1258.0 1019.2V1029.7M1259.0 1020.6V1030.5M1260.0 1021.4V1031.5M1261.0 1020.9V1031.7M1262.0 1022.0V1031.1M1263.0 1020.2V1032.4M1264.0 1022.6V1031.6M1265.0 1021.1V1030.4M1266.0 1021.7V1030.9M1267.0 1021.2V1030.2M1268.0 1021.2V1030.1M1269.0 1021.1V1029.8M1270.0 1020.7V1030.9M1271.0 1019.3V1029.8M1272.0 1019.5V1030.1M1273.0 1019.1V1030.3M1274.0 1016.5V1031.1M1275.0 1016.8V1028.2M1276.0 1013.7V1027.0M1277.0 1014.8V1026.2M1278.0 1010.3V1026.8M1279.0 1008.5V1025.8M1280.0 1006.0V1028.5M1281.0 998.8V1029.7M1282.0 1007.1V1027.6M1283.0 1002.3V1021.7M1284.0 1004.9V1026.2M1285.0 996.2V1028.4M1286.0 1008.2V1023.8M1287.0 1004.4V1026.0M1288.0 1004.9V1025.6M1289.0 1007.1V1028.6M1290.0 1001.2V1030.9M1291.0 1012.0V1030.1M1292.0 1008.1V1027.5M1293.0 1005.8V1024.4M1294.0 996.7V1029.9M1295.0 1006.6V1024.2M1296.0 1006.8V1028.4M1297.0 1008.5V1026.3M1298.0 1012.2V1027.5M1299.0 1013.3V1028.3M1300.0 1011.1V1031.0M1301.0 1010.3V1029.2M1302.0 1012.9V1029.0M1303.0 1008.2V1026.0M1304.0 987.8V1029.7M1305.0 1000.9V1026.1M1306.0 997.8V1027.2M1307.0 989.9V1023.9M1308.0 981.6V1028.4M1309.0 996.1V1024.4M1310.0 1000.3V1023.3M1311.0 994.6V1020.4M1312.0 987.8V1028.4M1313.0 1001.1V1025.8M1314.0 996.6V1021.6M1315.0 997.6V1026.3M1316.0 992.8V1022.4M1317.0 974.1V1028.4M1318.0 988.3V1024.9M1319.0 991.8V1017.4M1320.0 994.1V1021.9M1321.0 990.4V1018.2M1322.0 995.8V1023.8M1323.0 984.5V1026.7M1324.0 991.7V1017.4M1325.0 988.7V1018.4M1326.0 984.9V1014.1M1327.0 975.6V1023.0M1328.0 987.7V1009.8M1329.0 992.0V1013.0M1330.0 993.4V1020.8M1331.0 988.1V1023.2M1332.0 1001.9V1017.2M1333.0 1000.4V1023.7M1334.0 1003.1V1024.4M1335.0 986.2V1026.5M1336.0 993.1V1014.6M1337.0 968.2V1021.5M1338.0 968.5V1005.3M1339.0 971.3V998.8M1340.0 970.0V999.4M1341.0 965.8V994.3M1342.0 960.5V1006.4M1343.0 953.9V1017.8M1344.0 972.5V1006.0M1345.0 978.2V1012.6M1346.0 984.8V1011.2M1347.0 974.3V1022.9M1348.0 984.6V1006.6M1349.0 975.1V1011.1M1350.0 969.5V1005.4M1351.0 961.6V990.5M1352.0 955.2V1017.9M1353.0 956.1V1002.8M1354.0 959.7V1000.7M1355.0 956.4V1014.2M1356.0 962.8V1014.0M1357.0 973.0V1012.8M1358.0 936.1V1025.7M1359.0 953.2V1012.3M1360.0 945.4V1019.4M1361.0 942.9V1003.5M1362.0 926.8V1025.9M1363.0 955.3V994.6M1364.0 953.3V1003.5M1365.0 959.5V1014.3M1366.0 933.3V1027.4M1367.0 959.4V1013.1M1368.0 946.2V1008.3M1369.0 932.2V1004.4M1370.0 924.7V968.7M1371.0 917.5V1011.7M1372.0 936.8V1003.0M1373.0 957.2V1010.8M1374.0 932.5V1027.8M1375.0 960.4V1020.7M1376.0 955.1V1014.7M1377.0 944.2V1002.3M1378.0 931.7V1009.3M1379.0 934.4V975.1M1380.0 935.9V988.0M1381.0 936.9V965.6M1382.0 936.7V996.5M1383.0 935.4V1001.8M1384.0 945.7V994.4M1385.0 948.6V993.8M1386.0 954.0V992.1M1387.0 954.2V1004.1M1388.0 973.4V1015.3M1389.0 939.3V1022.1M1390.0 961.0V1012.4M1391.0 960.0V1009.0M1392.0 949.9V1005.3M1393.0 946.7V1002.9M1394.0 934.3V1009.6M1395.0 939.6V983.5M1396.0 930.4V974.4M1397.0 927.4V974.0M1398.0 910.3V996.2M1399.0 914.7V988.0M1400.0 912.7V958.6M1401.0 905.2V945.4M1402.0 903.0V994.4M1403.0 927.9V987.2M1404.0 941.2V990.6M1405.0 934.1V1017.3M1406.0 954.0V997.3M1407.0 943.9V1005.8M1408.0 934.6V979.7M1409.0 923.3V996.3M1410.0 909.3V972.9M1411.0 895.3V993.0M1412.0 900.9V1011.7M1413.0 925.8V969.4M1414.0 945.0V1007.0M1415.0 956.0V1016.1M1416.0 922.9V1026.9M1417.0 956.4V1017.8M1418.0 957.9V1018.0M1419.0 944.9V998.2M1420.0 936.0V1025.7M1421.0 915.4V976.8M1422.0 887.1V937.1M1423.0 858.8V946.1M1424.0 830.4V1025.7M1425.0 841.3V992.6M1426.0 880.5V981.0M1427.0 899.7V969.0M1428.0 855.8V1023.1M1429.0 918.9V1005.6M1430.0 909.3V1011.0M1431.0 947.4V1008.4M1432.0 947.4V1010.9M1433.0 917.5V1025.7M1434.0 949.9V1000.5M1435.0 937.4V1000.4M1436.0 903.4V998.6M1437.0 919.2V991.3M1438.0 942.5V985.4M1439.0 943.0V988.2M1440.0 923.6V998.6M1441.0 948.0V984.9M1442.0 932.0V966.0M1443.0 922.3V954.9M1444.0 910.2V996.8M1445.0 926.9V976.0M1446.0 936.6V988.0M1447.0 953.0V1003.0M1448.0 926.4V1012.3M1449.0 941.1V995.5M1450.0 941.1V991.6M1451.0 946.3V996.7M1452.0 932.0V1015.0M1453.0 953.8V996.0M1454.0 962.4V1001.1M1455.0 944.5V1016.2M1456.0 969.6V1000.2M1457.0 967.8V999.4M1458.0 954.5V990.0M1459.0 931.1V1004.2M1460.0 949.8V988.9M1461.0 932.4V979.3" class="b"/><path d="M428.3 974.9V995.5M430.1 969.0V995.5M805.3 879.8V904.0M807.1 868.3V904.0M822.0 863.3V907.0M823.8 877.0V907.0M887.7 903.5V935.8M889.5 914.3V935.8M900.8 948.0V961.6M902.6 945.4V961.6M1351.4 924.2V957.1M1353.2 925.0V957.1M1382.3 918.3V936.9M1384.1 920.8V936.9M1410.6 877.8V928.8M1412.4 884.7V928.8M1423.5 825.6V897.8M1425.3 830.7V897.8M1442.9 900.2V926.1M1444.7 887.7V926.1" class="b"/><path d="M234.6 597.2h0M234.6 600.9h0M234.6 612.9h0M234.6 627.9h0M234.6 631.6h0M234.6 636.1h0M234.6 639.8h0M234.6 644.3h0M234.6 651.5h0M234.6 657.8h0M234.6 662.3h0M234.6 686.2h0M234.6 691.4h0M234.6 701.1h0M234.6 708.6h0M234.6 712.4h0M233.8 715.4h0M234.6 728.8h0M234.6 734.1h0M234.6 738.5h0M234.6 743.0h0M234.6 747.5h0M234.6 752.0h0M328.4 726.6h0M328.4 734.1h0M328.4 741.5h0M328.4 747.5h0M356.5 648.1h0M356.5 654.8h0M356.5 659.3h0M356.5 672.7h0M356.5 681.7h0M356.5 687.7h0M357.2 695.2h0M342.3 742.3h0M328.1 725.2h0M328.1 734.8h0M328.1 741.2h0M328.1 747.6h0M328.1 763.6h0M326.6 772.2h0M327.3 779.6h0M251.3 743.4h0M251.3 754.0h0M251.3 764.7h0M251.3 773.2h0M251.3 781.8h0M251.3 790.3h0M342.7 742.3h0M596.8 977.7h0M655.9 942.4h0M655.9 949.0h0M740.7 970.3h0M740.7 979.0h0M740.5 968.2h0M740.5 974.2h0M753.8 719.7h0M753.8 724.2h0M756.2 734.8h0M760.8 728.8h0M901.7 926.7h0M943.5 931.8h0M943.5 937.9h0M758.6 998.5h0M775.9 1018.2h0M118.1 950.4h0M117.7 954.9h0M120.1 900.7h0M119.6 968.1h0M125.3 868.0h0M127.6 936.7h0M128.3 942.7h0M128.5 947.1h0M127.6 950.5h0M128.2 958.0h0M128.4 966.1h0M127.5 971.0h0M127.9 979.6h0M128.8 988.4h0M132.1 969.9h0M131.5 976.9h0M132.3 980.2h0M133.5 893.5h0M133.4 889.8h0M137.4 969.9h0M136.9 975.5h0M136.8 979.6h0M136.8 989.0h0M137.3 1000.1h0M138.5 938.7h0M138.4 943.3h0M137.9 949.0h0M138.3 958.2h0M137.8 966.4h0M137.7 970.3h0M137.7 975.6h0M137.8 984.0h0M138.4 989.3h0M137.5 996.3h0M138.1 999.4h0M144.8 986.1h0M144.9 989.1h0M144.6 998.5h0M149.8 971.5h0M149.9 976.2h0M150.5 981.9h0M150.0 989.0h0M151.8 977.2h0M151.9 980.4h0M153.6 992.8h0M153.8 999.7h0M154.8 902.7h0M155.2 961.5h0M155.5 968.9h0M154.6 974.1h0M154.5 978.7h0M159.0 1002.8h0M167.7 981.4h0M167.5 985.9h0M168.2 992.2h0M168.1 998.7h0M171.5 984.2h0M172.4 988.5h0M171.6 996.5h0M171.9 1002.2h0M174.9 1004.5h0M177.1 911.1h0M177.4 906.7h0M179.8 995.5h0M183.9 959.1h0M183.7 965.9h0M187.2 969.6h0M193.9 937.2h0M194.3 932.2h0M194.3 980.0h0M198.4 978.7h0M197.9 986.5h0M197.5 991.8h0M207.9 923.6h0M207.8 990.8h0M207.9 994.4h0M209.7 1008.3h0M210.8 980.3h0M212.6 997.4h0M213.4 1006.8h0M214.0 1007.6h0M215.0 973.6h0M215.0 980.4h0M215.2 986.8h0M215.9 970.5h0M215.8 975.9h0M216.3 980.5h0M215.8 989.9h0M230.4 996.0h0M230.3 1004.6h0M231.6 982.4h0M232.3 989.5h0M235.4 795.3h0M234.9 787.5h0M235.6 866.2h0M235.6 862.7h0M236.1 857.7h0M235.8 849.1h0M236.1 953.8h0M236.4 956.8h0M236.1 961.0h0M235.9 965.2h0M236.1 970.1h0M236.3 979.1h0M242.5 1002.3h0M242.1 1008.0h0M241.6 1016.2h0M244.7 954.2h0M245.1 962.3h0M245.1 970.1h0M245.4 977.2h0M244.9 980.8h0M245.1 985.7h0M245.9 840.4h0M247.4 818.3h0M246.5 810.2h0M247.4 805.7h0M246.7 963.2h0M246.9 970.3h0M247.4 974.3h0M246.7 983.1h0M247.2 990.2h0M248.5 959.6h0M247.5 968.2h0M252.4 921.6h0M252.0 927.3h0M252.0 931.3h0M252.1 939.0h0M252.0 948.7h0M251.6 958.7h0M252.1 968.0h0M251.8 979.4h0M252.3 987.3h0M251.9 993.2h0M252.7 868.2h0M252.6 862.7h0M254.7 979.3h0M255.1 983.8h0M255.4 987.3h0M255.9 948.0h0M255.6 953.7h0M256.3 959.7h0M255.6 966.7h0M255.6 974.5h0M255.5 978.7h0M257.9 936.8h0M257.6 1008.3h0M265.6 996.4h0M274.7 874.4h0M274.6 869.0h0M274.5 859.8h0M274.9 853.1h0M274.7 849.7h0M278.9 981.7h0M279.5 988.3h0M279.3 993.3h0M284.7 901.2h0M284.7 908.4h0M285.5 913.4h0M285.1 917.2h0M285.3 922.1h0M285.2 925.5h0M289.7 835.9h0M289.7 832.6h0M289.8 824.5h0M290.1 950.2h0M289.6 956.7h0M290.4 965.3h0M289.7 972.5h0M289.8 976.3h0M289.8 988.4h0M296.1 886.3h0M296.3 882.5h0M296.8 899.7h0M297.2 1004.2h0M301.9 992.6h0M301.7 999.9h0M306.8 854.2h0M307.6 973.3h0M307.7 977.6h0M307.5 980.6h0M309.0 956.8h0M308.7 961.8h0M309.2 965.6h0M312.3 867.0h0M312.0 863.3h0M314.3 849.4h0M314.1 842.7h0M314.4 835.8h0M316.9 827.3h0M317.4 819.9h0M317.0 809.5h0M317.3 802.4h0M316.8 960.3h0M316.8 967.6h0M316.8 974.9h0M317.3 978.8h0M318.3 870.9h0M318.1 863.9h0M317.8 983.7h0M318.2 989.0h0M318.4 997.2h0M320.0 901.0h0M320.4 897.6h0M320.3 893.1h0M319.8 888.7h0M320.0 884.7h0M320.1 879.5h0M319.7 870.3h0M320.0 865.9h0M319.9 858.7h0M319.7 851.4h0M323.9 978.5h0M325.3 844.6h0M324.8 839.4h0M325.1 830.8h0M325.0 822.3h0M325.5 813.2h0M325.5 802.8h0M325.4 994.7h0M324.9 1001.1h0M325.9 933.2h0M325.5 927.5h0M326.0 922.3h0M326.0 918.9h0M329.1 976.4h0M330.3 937.0h0M329.6 942.4h0M329.6 948.2h0M329.6 951.4h0M330.0 957.0h0M329.6 960.0h0M336.7 862.0h0M336.7 855.1h0M336.6 942.9h0M337.2 946.0h0M337.0 949.2h0M337.6 890.2h0M337.6 886.3h0M337.8 881.7h0M340.8 809.7h0M340.7 806.3h0M341.0 797.7h0M341.3 788.0h0M340.7 782.7h0M341.0 934.5h0M341.5 939.9h0M341.4 948.3h0M340.7 956.3h0M340.5 959.7h0M341.0 970.4h0M342.5 952.4h0M341.9 960.5h0M344.1 797.9h0M343.7 789.1h0M352.1 921.9h0M353.2 813.8h0M352.7 807.8h0M353.2 803.1h0M353.4 794.5h0M352.8 790.3h0M352.7 786.5h0M353.2 780.4h0M353.1 769.2h0M352.9 764.7h0M352.8 760.2h0M356.1 822.0h0M355.5 818.7h0M355.7 811.0h0M356.2 805.1h0M355.8 797.1h0M356.4 788.5h0M355.9 781.2h0M358.4 776.5h0M357.8 771.9h0M370.9 1021.6h0M378.0 1019.2h0M382.4 1019.4h0M383.5 989.3h0M387.0 986.4h0M387.0 983.3h0M393.7 992.6h0M412.1 1006.5h0M415.8 1024.4h0M426.4 1017.8h0M428.0 1015.3h0M430.2 1010.6h0M432.1 1020.0h0M434.8 993.2h0M444.4 1007.8h0M444.6 1004.8h0M449.5 1004.4h0M450.2 999.2h0M454.5 1025.4h0M459.7 992.4h0M461.8 993.4h0M461.7 986.7h0M465.8 997.1h0M491.1 1002.2h0M495.0 1005.6h0M494.7 999.5h0M497.9 1000.6h0M498.9 995.7h0M505.6 1003.7h0M522.9 997.9h0M524.7 1005.6h0M527.6 1006.4h0M529.3 1011.5h0M529.0 1007.1h0M533.2 1005.8h0M535.2 1010.5h0M536.3 1005.2h0M542.7 1007.5h0M579.6 1008.8h0M584.0 1005.7h0M584.6 1005.0h0M586.6 1026.2h0M592.2 1023.5h0M628.0 1002.8h0M648.3 994.5h0M648.0 990.5h0M650.0 976.2h0M653.3 1014.2h0M654.2 968.0h0M654.5 962.2h0M656.9 965.3h0M656.9 1009.2h0M658.4 978.3h0M657.5 973.5h0M657.9 965.1h0M663.7 970.6h0M667.4 969.6h0M667.3 960.5h0M666.6 1010.9h0M668.5 974.5h0M675.8 993.8h0M675.9 988.8h0M676.5 996.1h0M678.7 983.6h0M684.2 1026.4h0M684.7 981.4h0M686.3 980.4h0M689.0 1018.6h0M690.6 1021.5h0M692.1 978.9h0M692.7 988.8h0M692.7 984.4h0M694.4 1021.8h0M695.7 990.7h0M696.5 986.2h0M709.9 983.3h0M712.7 994.2h0M712.9 1024.9h0M717.3 1004.9h0M736.3 1024.9h0M738.6 999.3h0M742.4 989.5h0M743.0 998.0h0M743.2 992.6h0M744.3 991.3h0M744.1 1020.0h0M745.8 996.1h0M746.9 993.5h0M747.0 990.6h0M748.5 1008.9h0M748.1 1015.7h0M749.3 941.6h0M749.4 937.3h0M749.4 929.2h0M749.6 917.3h0M749.6 909.2h0M749.7 899.5h0M749.7 974.2h0M749.8 980.1h0M749.8 986.7h0M750.9 879.0h0M751.2 874.4h0M750.9 864.8h0M750.8 855.0h0M751.0 846.5h0M751.8 869.0h0M751.9 863.6h0M751.7 858.3h0M752.2 851.4h0M752.4 848.2h0M752.0 843.0h0M752.2 838.0h0M751.6 940.9h0M751.9 949.3h0M752.3 954.4h0M752.3 959.5h0M751.6 965.6h0M751.8 973.2h0M752.8 832.7h0M753.1 828.9h0M753.3 824.7h0M752.7 817.6h0M753.5 808.4h0M753.5 801.0h0M752.5 793.3h0M753.5 993.7h0M752.9 997.9h0M752.6 1001.0h0M754.4 846.7h0M753.5 842.5h0M754.2 835.5h0M754.4 831.6h0M754.4 822.8h0M754.0 813.7h0M753.6 805.0h0M753.9 796.3h0M753.8 790.0h0M754.3 786.2h0M753.5 775.1h0M753.5 766.2h0M754.0 757.3h0M755.4 849.1h0M754.8 846.1h0M755.2 841.8h0M755.4 836.6h0M754.6 831.6h0M754.6 825.5h0M755.0 821.4h0M754.7 814.0h0M755.0 809.5h0M755.0 802.7h0M756.4 833.1h0M756.2 827.9h0M755.5 824.4h0M756.1 820.0h0M756.4 814.0h0M756.2 805.0h0M757.0 832.8h0M756.6 829.3h0M757.1 823.6h0M757.2 938.2h0M756.7 943.5h0M756.5 952.0h0M756.7 956.6h0M757.1 964.3h0M757.0 968.2h0M757.2 976.5h0M757.6 841.9h0M758.1 834.4h0M758.0 826.5h0M757.9 822.7h0M757.6 819.2h0M757.5 810.2h0M757.5 804.0h0M758.5 794.3h0M757.9 791.0h0M757.8 778.3h0M758.5 771.8h0M757.9 758.1h0M758.0 757.3h0M759.5 834.5h0M758.9 829.1h0M759.1 823.8h0M759.4 820.6h0M758.5 811.0h0M758.8 808.0h0M759.3 803.8h0M758.7 949.3h0M759.0 954.5h0M759.4 958.7h0M758.8 967.0h0M758.8 971.9h0M759.2 978.6h0M759.4 989.6h0M760.0 950.3h0M760.3 955.6h0M760.5 963.0h0M760.5 968.2h0M760.4 975.5h0M761.3 836.2h0M761.3 832.2h0M760.9 828.7h0M761.2 822.9h0M761.3 816.4h0M761.4 974.7h0M760.7 979.7h0M761.7 841.3h0M762.4 836.0h0M761.7 827.2h0M761.6 817.9h0M761.8 807.3h0M761.5 796.2h0M762.4 786.6h0M762.1 775.1h0M761.7 770.3h0M762.0 757.3h0M762.7 827.4h0M762.6 819.7h0M762.9 812.7h0M763.4 806.3h0M763.3 797.4h0M763.3 794.3h0M763.4 932.0h0M763.4 938.1h0M762.8 941.6h0M763.9 833.2h0M764.3 828.4h0M763.9 821.0h0M763.8 812.9h0M763.7 805.9h0M763.9 930.9h0M764.8 846.2h0M764.6 842.5h0M765.3 834.0h0M765.4 825.8h0M764.7 819.6h0M764.9 815.8h0M764.6 805.8h0M764.6 798.2h0M765.1 792.9h0M765.4 782.2h0M765.0 781.8h0M765.6 876.2h0M765.6 938.4h0M766.2 942.3h0M766.2 951.4h0M765.8 956.3h0M765.9 963.0h0M765.7 968.7h0M766.4 972.0h0M766.5 875.0h0M767.3 870.3h0M766.7 864.2h0M767.0 858.1h0M767.5 969.6h0M766.6 977.1h0M767.2 987.8h0M768.0 924.9h0M767.9 921.2h0M768.1 912.8h0M768.1 906.7h0M768.1 899.4h0M767.7 894.4h0M768.4 886.8h0M768.0 876.8h0M768.1 871.3h0M768.0 867.8h0M768.5 857.4h0M767.7 853.5h0M768.1 845.5h0M767.6 831.8h0M768.0 827.2h0M768.0 819.6h0M768.6 927.0h0M769.0 920.0h0M769.2 913.9h0M768.9 906.2h0M769.4 900.7h0M769.3 897.2h0M769.0 890.7h0M769.4 885.7h0M768.8 880.2h0M769.4 876.7h0M768.5 985.1h0M769.8 884.5h0M770.1 880.0h0M769.6 874.3h0M770.5 868.0h0M770.1 858.4h0M770.0 848.0h0M770.2 840.1h0M770.1 834.9h0M769.8 826.1h0M769.9 989.4h0M770.0 992.8h0M770.3 996.5h0M770.3 999.6h0M771.3 868.7h0M770.8 863.0h0M770.7 856.3h0M770.6 851.3h0M770.7 846.3h0M770.9 841.8h0M771.1 965.9h0M771.4 971.7h0M770.8 975.7h0M771.4 978.8h0M770.9 988.9h0M771.8 859.1h0M771.9 854.4h0M772.0 844.7h0M771.5 838.5h0M772.4 831.7h0M772.3 824.1h0M772.0 821.1h0M773.3 858.3h0M772.6 986.0h0M773.0 991.1h0M772.6 996.0h0M773.0 1000.4h0M774.1 876.5h0M773.9 869.3h0M774.3 970.6h0M773.9 973.7h0M774.3 977.5h0M774.4 981.6h0M773.7 987.3h0M773.7 996.4h0M773.9 1003.2h0M774.9 891.5h0M774.8 885.4h0M775.0 876.1h0M775.3 866.4h0M776.0 903.1h0M775.8 894.8h0M776.4 890.4h0M776.5 882.1h0M776.0 876.1h0M777.2 969.4h0M776.5 975.7h0M777.8 978.3h0M778.2 985.5h0M778.2 993.7h0M778.4 997.0h0M777.7 1000.4h0M778.8 920.2h0M780.9 985.6h0M781.5 996.2h0M783.0 914.3h0M783.4 910.1h0M783.2 983.6h0M783.3 988.2h0M784.3 904.9h0M783.8 971.3h0M784.3 976.4h0M783.9 983.9h0M784.3 993.0h0M785.5 914.9h0M786.6 987.5h0M786.6 993.5h0M787.9 946.5h0M788.2 939.9h0M788.3 935.8h0M787.6 929.1h0M789.3 951.4h0M788.9 947.9h0M791.1 961.0h0M791.1 951.3h0M792.1 1006.7h0M793.4 962.7h0M793.1 957.1h0M795.2 960.3h0M794.6 1001.8h0M795.3 1011.3h0M795.6 1002.3h0M795.6 1005.9h0M796.7 927.3h0M796.8 1003.7h0M798.4 1000.0h0M801.4 951.1h0M801.2 942.7h0M801.1 939.1h0M800.9 935.1h0M800.8 931.0h0M801.0 927.5h0M800.7 923.6h0M802.8 930.7h0M802.6 921.1h0M803.4 915.8h0M804.1 935.8h0M803.5 927.4h0M805.3 978.6h0M807.3 914.2h0M807.2 911.1h0M807.5 906.3h0M809.2 930.5h0M808.6 921.5h0M809.4 913.0h0M808.9 908.3h0M809.4 903.2h0M810.1 1008.3h0M812.5 989.7h0M813.1 1004.5h0M814.8 977.7h0M815.1 982.0h0M814.6 985.2h0M814.8 988.7h0M814.7 995.4h0M815.3 1005.1h0M817.1 995.4h0M816.9 999.1h0M819.7 999.9h0M820.3 1004.3h0M821.4 917.6h0M820.9 974.1h0M820.6 979.5h0M821.1 984.6h0M820.8 992.1h0M821.1 995.7h0M820.5 1000.2h0M823.9 980.6h0M823.7 984.2h0M824.3 987.3h0M824.7 923.2h0M827.8 942.8h0M829.3 998.8h0M830.9 935.3h0M831.3 1000.4h0M830.5 1007.5h0M833.5 945.7h0M832.5 941.3h0M833.2 933.3h0M835.6 959.0h0M836.0 955.1h0M835.6 949.6h0M839.2 998.1h0M839.4 1002.3h0M840.9 927.0h0M840.7 923.3h0M843.9 1010.6h0M846.3 923.5h0M846.3 997.3h0M845.9 1002.9h0M848.7 926.5h0M849.3 993.8h0M849.7 945.0h0M850.4 937.4h0M849.7 931.0h0M851.0 963.4h0M850.8 956.0h0M851.2 952.1h0M851.1 943.2h0M851.4 1007.9h0M850.7 1013.0h0M853.1 1022.8h0M854.4 951.3h0M854.2 943.7h0M854.4 934.2h0M855.0 932.8h0M856.7 915.5h0M857.0 909.5h0M857.2 902.4h0M859.3 899.5h0M862.1 916.2h0M863.9 944.8h0M864.2 938.5h0M866.5 962.4h0M866.3 958.9h0M865.8 952.8h0M866.4 947.3h0M868.2 1006.7h0M869.3 969.3h0M869.1 960.4h0M869.2 957.0h0M869.1 950.9h0M872.1 959.3h0M873.3 948.0h0M873.9 999.8h0M874.3 1004.7h0M874.0 1014.1h0M875.0 948.0h0M875.1 941.7h0M875.4 935.3h0M874.8 1007.2h0M875.2 1011.2h0M881.0 949.9h0M881.2 942.6h0M880.6 934.4h0M881.1 1013.2h0M882.4 936.6h0M881.9 932.1h0M881.5 927.3h0M881.7 922.8h0M883.9 1001.2h0M885.4 949.8h0M890.7 988.4h0M890.9 994.9h0M890.9 998.6h0M891.3 1004.1h0M891.1 1009.6h0M891.7 997.5h0M892.8 964.8h0M892.8 959.5h0M892.8 951.2h0M895.1 965.6h0M896.4 978.4h0M895.8 971.3h0M895.8 962.6h0M896.1 954.5h0M896.1 1017.5h0M900.2 970.6h0M901.3 969.6h0M903.4 996.2h0M903.3 999.4h0M902.9 1008.9h0M903.1 1015.7h0M906.7 960.8h0M906.7 1008.5h0M907.4 1014.9h0M909.8 1011.4h0M911.3 1012.4h0M914.5 991.7h0M919.0 1017.0h0M919.6 984.2h0M920.4 1020.0h0M925.9 987.8h0M945.0 998.0h0M945.2 1001.7h0M946.9 963.1h0M948.8 971.4h0M949.4 966.4h0M950.7 967.1h0M950.7 1013.5h0M953.1 1018.5h0M958.1 1004.3h0M957.9 1001.0h0M958.2 994.7h0M965.2 995.9h0M966.1 994.0h0M966.7 1022.5h0M967.9 991.3h0M968.8 989.4h0M972.3 985.7h0M972.0 1018.8h0M971.9 1021.9h0M995.1 1006.1h0M996.4 1025.2h0M1000.1 999.4h0M1001.4 1025.4h0M1001.7 995.9h0M1002.5 994.3h0M1004.2 998.8h0M1004.5 994.9h0M1005.6 1022.2h0M1012.7 994.1h0M1014.5 1001.8h0M1018.4 1002.0h0M1282.0 1003.9h0M1288.5 1003.9h0M1291.3 1009.1h0M1295.2 1027.5h0M1295.9 1004.8h0M1297.0 1006.2h0M1302.7 1005.1h0M1303.2 996.2h0M1305.5 994.7h0M1309.3 990.8h0M1310.2 995.3h0M1310.4 987.1h0M1311.1 1025.1h0M1317.5 986.2h0M1320.5 991.7h0M1321.6 989.4h0M1323.6 989.2h0M1324.7 985.6h0M1325.5 980.9h0M1325.2 1020.6h0M1325.7 1020.6h0M1328.4 984.4h0M1327.6 1012.2h0M1329.2 1016.2h0M1329.4 1021.0h0M1335.9 989.3h0M1335.6 984.2h0M1338.9 967.9h0M1338.9 1000.9h0M1339.3 1004.1h0M1339.3 1009.1h0M1343.8 969.3h0M1344.2 964.6h0M1344.2 1011.4h0M1345.3 975.2h0M1345.1 966.0h0M1345.5 979.2h0M1346.3 1016.4h0M1354.4 957.6h0M1353.7 952.6h0M1356.7 1015.8h0M1358.5 1016.8h0M1360.4 938.8h0M1361.3 1008.0h0M1362.9 951.0h0M1362.7 942.8h0M1362.6 932.7h0M1364.4 950.0h0M1363.6 944.3h0M1364.2 935.3h0M1364.4 1008.0h0M1363.9 1011.6h0M1364.5 954.8h0M1364.8 949.8h0M1365.2 1018.1h0M1368.1 1011.5h0M1368.7 1007.7h0M1369.8 921.9h0M1372.2 933.9h0M1372.8 951.6h0M1372.9 947.2h0M1372.9 1014.8h0M1372.6 1018.7h0M1374.6 954.7h0M1374.7 950.4h0M1375.2 940.4h0M1376.9 939.2h0M1377.4 1009.1h0M1378.8 981.0h0M1378.6 989.0h0M1379.1 995.3h0M1378.5 1001.3h0M1381.2 969.5h0M1381.0 973.3h0M1380.7 979.0h0M1386.2 949.5h0M1386.4 942.7h0M1387.2 949.2h0M1387.5 971.3h0M1387.8 962.9h0M1388.5 957.3h0M1388.1 1019.3h0M1391.3 955.8h0M1395.0 934.2h0M1395.3 985.7h0M1395.4 992.3h0M1398.9 911.2h0M1399.5 962.1h0M1399.8 970.5h0M1400.7 949.8h0M1401.2 955.8h0M1400.9 964.5h0M1400.5 969.3h0M1401.0 977.7h0M1403.3 925.0h0M1402.5 990.5h0M1404.2 937.9h0M1403.8 928.7h0M1403.7 993.3h0M1403.8 1000.5h0M1404.4 1007.6h0M1405.5 948.7h0M1406.4 940.2h0M1408.2 986.4h0M1407.8 995.4h0M1408.0 999.1h0M1410.4 979.7h0M1410.2 986.7h0M1410.5 995.9h0M1410.9 999.0h0M1410.7 1007.8h0M1414.0 942.7h0M1413.6 937.4h0M1414.5 931.1h0M1416.6 949.4h0M1418.3 951.1h0M1418.2 941.6h0M1419.4 942.4h0M1426.9 974.3h0M1426.5 978.4h0M1431.4 1013.3h0M1432.4 945.3h0M1438.2 940.0h0M1437.7 934.7h0M1438.3 929.9h0M1438.5 919.0h0M1438.7 938.3h0M1438.6 931.9h0M1441.8 927.3h0M1441.7 972.8h0M1443.2 959.7h0M1443.4 967.8h0M1443.3 970.9h0M1447.0 950.3h0M1447.2 944.7h0M1446.8 941.0h0M1449.6 936.6h0M1451.3 999.4h0M1451.4 1002.8h0M1451.2 1007.9h0M1454.2 1005.1h0M1455.6 965.1h0M1456.1 961.7h0M1455.5 955.5h0M1456.0 947.6h0M1456.6 963.1h0M1457.3 959.2h0M1457.1 954.5h0M1456.8 948.5h0M1458.3 947.6h0M1457.9 938.5h0M1460.1 991.9h0M1460.5 1000.4h0M1460.6 984.0h0M1461.0 993.3h0M429.2 949.1h0M429.2 956.4h0M428.4 960.9h0M429.9 968.6h0M429.3 976.0h0M806.2 852.8h0M806.8 860.6h0M806.3 867.1h0M806.0 874.0h0M805.5 879.9h0M806.7 886.6h0M822.9 837.6h0M822.4 844.9h0M823.0 850.8h0M822.1 859.2h0M822.4 863.2h0M822.3 871.1h0M822.6 877.5h0M822.8 884.9h0M888.6 886.1h0M888.7 894.3h0M889.3 901.8h0M888.8 909.2h0M888.0 916.9h0M901.7 936.1h0M901.3 940.1h0M902.2 946.4h0M902.4 955.3h0M1352.3 896.6h0M1352.0 900.8h0M1352.4 908.0h0M1351.8 912.1h0M1353.0 919.4h0M1352.3 925.3h0M1352.7 933.7h0M1383.2 900.6h0M1382.5 905.9h0M1383.5 913.9h0M1383.9 917.9h0M1383.2 924.0h0M1411.5 857.6h0M1411.6 864.9h0M1411.3 871.4h0M1412.3 879.2h0M1411.1 883.2h0M1411.8 890.9h0M1410.9 898.7h0M1411.5 904.5h0M1424.4 799.7h0M1424.9 805.9h0M1425.1 809.9h0M1424.2 817.5h0M1424.7 821.6h0M1425.2 827.4h0M1424.6 833.5h0M1423.9 838.9h0M1424.0 844.6h0M1424.0 850.9h0M1425.0 858.4h0M1443.8 876.4h0M1443.7 884.0h0M1443.2 892.9h0M1444.4 899.8h0M1443.6 905.0h0M1443.0 909.9h0" class="b"/><path d="M115.5 940.0L117.0 888.5L122.0 941.7L127.0 858.6L130.0 982.1L133.0 905.6L135.5 970.6L138.0 892.8L141.0 973.2L144.0 924.8L147.5 1005.0L151.0 904.5L153.0 964.1L155.0 913.1L158.5 1004.2L162.0 924.8L165.0 1010.5L168.0 916.3L170.5 982.5L173.0 837.3L176.0 965.3L179.0 898.1L181.5 960.0L184.0 907.7L186.0 956.1L188.0 903.4L190.5 976.2L193.0 924.8L195.5 987.0L198.0 893.8L201.0 998.6L204.0 924.8L206.5 986.9L209.0 902.4L212.5 978.6L216.0 922.7L219.0 972.4L222.0 920.5L224.5 1008.4L227.0 922.7L230.5 988.6L234.0 751.9L236.5 952.6L239.0 903.4L243.0 995.8L247.0 835.1L249.5 916.4L252.0 867.2L254.0 957.2L256.0 903.4L258.0 952.9L260.0 860.8L264.0 950.3L268.0 876.8L270.0 963.4L272.0 836.2L273.5 947.4L275.0 905.6L277.0 1001.1L279.0 845.8L282.5 928.0L286.0 801.0L288.0 969.8L290.0 880.0L293.0 979.4L296.0 914.1L298.0 986.7L300.0 920.5L302.0 966.2L304.0 860.8L306.5 916.5L309.0 769.0L311.0 981.2L313.0 903.4L315.0 960.5L317.0 874.6L319.0 985.8L321.0 891.7L323.0 997.7L325.0 907.7L326.5 1001.9L328.0 835.1L330.0 888.9L332.0 840.5L334.0 919.7L336.0 854.4L338.5 954.0L341.0 864.0L343.0 934.4L345.0 875.7L346.5 930.4L348.0 654.8L350.0 838.0L352.0 796.7L353.5 915.7L355.0 843.7L356.5 916.7L358.0 837.3L363.2 1000.0L368.3 1013.4L370.4 1011.2L372.7 1011.2L373.9 1006.5L375.7 1011.8L377.9 1008.4L379.3 1005.9L381.2 1005.6L383.0 1006.2L384.6 1003.2L386.9 1000.2L389.0 996.9L390.4 998.9L391.7 1000.9L393.9 1007.2L396.2 1015.8L398.4 1020.6L400.2 1022.8L402.2 1022.4L404.2 1022.8L406.5 1022.3L408.2 1021.7L409.6 1019.4L411.2 1017.1L413.1 1017.8L414.7 1015.1L416.3 1016.0L417.9 1013.1L419.7 1015.1L422.0 1013.4L423.3 1009.9L424.6 1001.8L426.7 997.9L428.0 996.7L429.3 995.4L430.7 1006.0L432.8 1017.6L434.5 1008.5L436.1 1006.1L437.5 1011.6L439.5 1017.9L440.8 1014.8L443.1 1017.6L445.0 1018.2L447.3 1013.4L449.1 1019.6L450.7 1014.9L452.1 1015.4L453.5 1008.5L454.9 998.0L456.3 1010.6L458.0 1009.1L459.5 1001.7L461.2 1000.4L462.9 1014.0L464.2 1012.2L466.0 1014.2L468.1 1017.4L470.4 1018.8L471.7 1018.1L473.5 1021.4L475.0 1023.2L476.8 1024.4L479.1 1021.2L480.9 1016.0L482.6 1017.0L484.2 1015.5L485.9 1017.0L488.2 1020.7L490.0 1017.1L491.6 1018.9L493.7 1018.8L495.9 1013.2L498.0 1016.9L500.0 1009.3L501.7 1005.2L503.7 1009.4L505.8 1015.9L507.8 1013.7L509.8 1021.3L511.7 1020.7L513.2 1016.8L515.2 1008.9L517.1 1013.1L519.3 1009.8L521.3 1016.7L523.5 1014.0L525.7 1022.9L527.7 1026.4L529.5 1022.8L531.3 1023.5L533.6 1024.9L535.4 1020.3L537.4 1016.3L538.9 1019.0L540.8 1017.1L542.6 1017.0L544.5 1017.4L546.5 1021.4L548.3 1022.0L550.2 1022.0L552.2 1023.9L553.5 1020.2L554.8 1020.2L556.2 1019.2L557.7 1020.2L559.0 1017.3L560.9 1018.1L562.8 1018.4L564.1 1022.7L565.8 1019.6L567.1 1021.1L569.3 1019.4L571.2 1019.7L572.6 1017.8L574.5 1018.7L576.8 1020.9L578.9 1019.1L580.9 1020.0L582.8 1022.3L584.6 1025.6L586.5 1017.7L588.2 1015.3L589.6 1013.2L591.4 1009.9L593.4 1008.0L595.6 1004.5L597.1 1009.8L598.7 1015.3L601.0 1017.0L603.2 1019.6L605.5 1018.3L607.3 1016.7L609.7 1018.8L611.4 1019.0L612.8 1021.6L614.8 1020.2L616.9 1021.9L619.0 1023.0L620.6 1021.1L622.9 1019.6L624.4 1016.6L625.8 1018.7L627.7 1017.6L629.5 1016.5L631.6 1016.7L633.0 1019.5L634.8 1019.7L636.4 1020.9L638.2 1023.0L639.8 1021.7L641.1 1019.3L642.7 1017.1L644.9 1017.2L646.7 1018.5L648.5 1011.0L650.3 1000.8L652.1 988.2L654.4 985.6L656.5 995.5L658.0 992.6L659.4 1009.4L661.5 1001.7L663.1 991.0L665.2 995.5L667.0 989.6L668.8 988.3L670.2 1002.6L672.1 1014.0L673.6 1012.0L675.8 1014.1L677.1 1005.8L679.1 1026.4L681.1 1014.8L682.4 1013.4L684.4 1005.1L686.7 1003.2L688.3 998.8L690.5 1005.3L692.2 1013.3L693.7 1008.9L695.0 1009.4L696.7 1014.8L698.6 1016.6L700.7 1019.0L702.4 1018.7L704.0 1013.9L706.3 1009.1L707.9 1015.3L709.3 1013.4L711.3 1001.9L713.1 1008.1L715.1 1011.4L716.6 1017.4L718.7 1017.0L720.2 1019.2L721.8 1021.4L723.9 1021.4L725.8 1023.0L727.2 1023.2L728.6 1021.7L730.8 1021.3L732.6 1018.6L733.9 1021.3L735.9 1018.3L738.2 1014.2L740.2 1010.5L742.5 1010.4L744.5 1008.9L746.4 1005.2L748.1 981.2L750.0 938.9L751.6 899.1L753.8 872.3L755.7 887.0L757.9 889.2L759.7 875.1L761.8 865.6L763.5 875.9L765.0 884.1L766.3 918.3L768.4 962.9L769.6 921.4L771.5 894.4L773.3 888.8L774.7 909.2L776.1 920.0L778.3 945.6L779.8 953.6L781.2 960.0L782.8 946.9L784.1 946.2L786.3 935.1L788.3 976.3L790.3 966.6L791.7 981.4L793.7 983.8L795.7 977.4L797.2 953.1L798.7 934.1L800.0 939.2L801.7 992.7L803.3 970.8L805.3 928.9L807.4 934.9L809.3 977.8L811.6 972.7L813.9 902.4L815.2 923.8L816.9 957.7L818.2 956.1L820.0 938.6L821.7 925.3L823.9 928.2L825.7 962.4L827.2 986.9L828.5 976.2L830.1 961.9L831.8 941.2L833.1 966.7L835.4 1007.8L837.1 985.0L838.9 953.7L840.3 949.7L842.1 978.7L844.3 956.5L845.8 953.9L847.6 933.0L849.5 954.1L851.5 1005.5L853.7 974.1L855.9 954.3L857.4 942.4L858.8 932.8L860.9 919.5L862.3 937.7L863.6 967.6L865.3 1005.8L867.2 997.5L869.2 992.5L870.5 987.9L872.2 986.8L873.6 972.1L875.6 971.9L877.5 974.6L879.6 958.7L881.5 952.3L883.4 972.6L885.7 957.9L887.3 937.6L889.4 942.5L890.7 963.6L892.2 977.0L893.7 1005.2L895.1 1003.9L896.4 993.1L897.7 1006.3L899.9 998.1L902.2 970.8L903.9 968.9L905.5 970.8L907.4 973.0L909.6 983.5L911.4 992.1L912.9 1001.0L915.1 998.9L917.2 1001.1L919.5 1001.2L921.2 994.5L923.3 1000.3L925.6 991.6L927.5 1002.0L928.9 1010.9L930.2 1011.1L932.5 1014.9L934.3 1010.3L936.5 1001.2L938.1 1001.7L939.5 988.1L941.6 979.1L943.1 971.9L945.5 982.3L947.6 990.8L949.3 980.2L950.7 992.9L952.0 991.4L953.5 1010.0L955.7 1021.1L957.2 1020.9L959.2 1015.9L961.4 1012.5L963.0 1009.8L964.3 1006.4L965.8 1008.0L967.5 1006.3L969.0 1005.0L970.7 998.2L972.4 1006.9L974.7 1016.3L976.7 1008.2L978.7 1008.4L980.4 1014.2L982.3 1016.9L983.8 1017.2L985.2 1021.8L987.1 1022.2L989.2 1021.2L991.4 1019.6L993.0 1018.2L995.1 1015.1L997.0 1020.1L999.0 1012.4L1001.2 1011.5L1002.7 1006.5L1004.5 1011.8L1006.8 1009.6L1008.7 1010.1L1010.3 1010.6L1011.8 1007.1L1014.0 1005.8L1016.0 1010.9L1018.0 1015.5L1019.8 1016.4L1022.0 1016.2L1023.5 1018.3L1025.5 1021.8L1027.7 1023.4L1029.8 1024.8L1031.3 1024.9L1033.4 1023.9L1035.7 1022.7L1037.4 1021.2L1039.2 1021.7L1040.8 1021.4L1042.7 1022.9L1044.0 1023.1L1045.4 1023.1L1046.8 1023.9L1048.3 1024.5L1050.3 1025.5L1052.3 1026.2L1054.5 1026.6L1056.8 1026.8L1058.7 1027.3L1061.0 1027.5L1063.2 1027.8L1064.9 1028.0L1066.4 1028.2L1067.7 1028.3L1069.1 1028.5L1071.2 1028.8L1073.3 1027.6L1075.3 1026.4L1077.3 1025.2L1079.6 1023.9L1080.9 1023.2L1082.4 1021.8L1084.4 1022.9L1086.5 1024.4L1088.3 1025.4L1090.0 1026.5L1091.6 1027.0L1093.6 1025.4L1095.9 1024.5L1097.3 1024.0L1098.8 1022.3L1100.2 1022.7L1102.3 1024.4L1104.5 1025.4L1106.3 1026.7L1108.3 1027.7L1109.9 1028.3L1111.5 1027.9L1112.9 1027.3L1114.6 1026.7L1115.9 1026.3L1117.5 1025.7L1119.8 1024.9L1121.6 1024.9L1123.0 1025.9L1124.6 1027.0L1126.7 1028.4L1128.4 1029.5L1130.1 1029.5L1131.8 1029.0L1133.3 1028.7L1135.6 1028.0L1137.0 1027.8L1138.5 1027.7L1140.3 1026.7L1141.6 1025.5L1143.4 1025.2L1145.3 1024.5L1147.2 1022.6L1148.5 1022.9L1150.2 1022.7L1152.4 1023.8L1154.1 1023.3L1156.4 1024.7L1157.9 1024.9L1160.0 1025.4L1162.3 1026.7L1163.8 1027.0L1165.6 1027.5L1167.1 1027.9L1168.6 1028.2L1170.3 1028.5L1172.6 1028.5L1174.8 1028.5L1176.9 1028.5L1179.2 1028.4L1180.7 1028.3L1183.0 1028.3L1184.5 1027.8L1186.2 1027.0L1187.8 1027.3L1189.9 1026.5L1192.2 1025.9L1194.3 1025.2L1196.2 1025.1L1197.9 1024.4L1199.8 1025.5L1202.1 1025.5L1203.6 1026.3L1205.5 1025.9L1207.2 1025.9L1209.3 1028.4L1211.0 1029.8L1212.8 1031.1L1214.1 1031.0L1215.9 1030.8L1217.5 1030.6L1218.8 1030.5L1220.8 1030.3L1223.1 1030.1L1225.1 1029.9L1227.4 1029.4L1228.9 1029.0L1230.4 1028.6L1232.1 1028.2L1234.2 1027.6L1236.4 1027.0L1238.0 1026.3L1239.4 1026.3L1241.1 1025.8L1242.6 1026.1L1244.3 1026.2L1245.9 1026.0L1247.3 1026.2L1248.9 1025.2L1251.0 1024.3L1253.2 1022.7L1255.1 1022.3L1256.6 1024.6L1258.2 1025.6L1260.4 1025.5L1261.9 1026.5L1263.9 1027.1L1265.8 1026.5L1267.9 1025.5L1269.7 1024.9L1271.6 1023.9L1273.0 1023.2L1274.9 1020.4L1276.4 1020.3L1277.8 1018.4L1279.8 1017.1L1281.5 1015.7L1283.5 1018.5L1284.8 1011.9L1286.8 1017.9L1288.8 1021.1L1290.4 1025.3L1292.5 1018.1L1294.3 1014.5L1295.7 1013.5L1297.2 1017.8L1298.7 1027.1L1300.0 1026.2L1301.7 1023.4L1303.7 1017.2L1305.1 1010.7L1306.9 1004.3L1308.8 999.7L1311.0 1010.8L1312.8 1014.0L1314.6 1015.0L1316.6 1003.3L1318.3 1007.6L1319.9 998.4L1321.3 1006.8L1323.5 1010.7L1325.0 994.3L1327.3 984.2L1328.7 995.9L1330.1 999.8L1332.0 1011.8L1333.4 1010.0L1335.7 999.3L1337.7 985.2L1339.2 975.0L1340.6 978.4L1341.9 972.9L1344.1 973.9L1345.5 987.4L1347.7 996.7L1349.9 983.4L1351.2 962.3L1352.9 959.7L1354.8 975.0L1356.4 992.5L1358.7 992.4L1360.9 960.2L1363.0 969.5L1364.4 982.4L1366.7 983.2L1368.6 947.7L1370.4 923.5L1372.7 965.1L1374.6 1003.7L1376.8 951.6L1379.1 945.6L1380.7 947.8L1382.1 936.6L1383.4 952.8L1385.1 967.4L1387.4 988.0L1389.0 1001.3L1391.0 983.0L1393.1 971.0L1395.0 955.4L1397.0 947.2L1399.1 953.3L1400.5 943.4L1401.9 934.8L1403.9 974.0L1406.0 977.8L1407.4 962.7L1409.3 927.0L1410.6 912.9L1412.7 933.8L1414.3 977.0L1416.2 989.2L1418.4 962.3L1420.6 924.8L1422.8 872.0L1424.2 835.0L1426.6 909.8L1428.0 957.7L1430.0 965.1L1431.3 983.2L1433.4 977.0L1435.4 931.8L1437.4 951.3L1439.0 973.7L1441.1 951.8L1443.0 924.2L1444.8 923.0L1446.0 950.2L1448.2 964.7L1449.5 954.5L1450.9 950.9L1452.4 970.8L1453.9 982.5L1456.1 985.6L1458.0 962.2L1459.5 959.5L1461.5 959.2L1461.9 958.4" class="o"/></g>
<g stroke="#000" stroke-width="1.11" fill="none"><path d="M115.5 1054.5v4.9M284.5 1054.5v4.9M452.5 1054.5v4.9M620.5 1054.5v4.9M789.5 1054.5v4.9M957.5 1054.5v4.9M1125.5 1054.5v4.9M1294.5 1054.5v4.9M115.5 625.5h-4.9M115.5 727.5h-4.9M115.5 829.5h-4.9M115.5 930.5h-4.9M115.5 1032.5h-4.9"/><rect x="115.5" y="575.5" width="1347.0" height="479.0"/></g><g class="tk" text-anchor="end"><text x="105.7" y="633.3">0.8</text><text x="105.7" y="735.3">0.6</text><text x="105.7" y="837.3">0.4</text><text x="105.7" y="938.3">0.2</text><text x="105.7" y="1040.3">0.0</text></g>
<rect x="1047.4" y="585.6" width="405.89999999999986" height="79.39999999999998" rx="3.5" fill="#fff" fill-opacity="0.8" stroke="#ccc" stroke-opacity="0.8" stroke-width="1.11"/><circle cx="1073.5" cy="600.6" r="2.75" fill="#1f77b4"/><path d="M1053.1 639.0h38.7" stroke="#ff7f0e" stroke-width="2.08"/><g class="lg"><text x="1106.5" y="606.2">Raw Data</text><text x="1106.5" y="633.1">Butterworth Filtered Data</text><text x="1106.5" y="654.2">(N=6, Tc=3.3333 min, Type: low)</text></g>
<g class="tk" text-anchor="end"><text transform="translate(113.5 1078.2) rotate(-30)">04-15 00</text><text transform="translate(282.5 1078.2) rotate(-30)">04-15 03</text><text transform="translate(450.5 1078.2) rotate(-30)">04-15 06</text><text transform="translate(618.5 1078.2) rotate(-30)">04-15 09</text><text transform="translate(787.5 1078.2) rotate(-30)">04-15 12</text><text transform="translate(955.5 1078.2) rotate(-30)">04-15 15</text><text transform="translate(1123.5 1078.2) rotate(-30)">04-15 18</text><text transform="translate(1292.5 1078.2) rotate(-30)">04-15 21</text></g>
<text class="pl" x="115.5" y="29.9">(a)</text>
<text class="pl" x="115.5" y="566.8">(b)</text>
<text class="ti" x="784.3" y="29.8" text-anchor="middle">15.0 MHz N0000003</text>
<text class="al" transform="translate(37.9 278.5) rotate(-90)" text-anchor="middle">Doppler Shift [Hz]</text>
<text class="al" transform="translate(55.5 814.5) rotate(-90)" text-anchor="middle">Peak Voltage [V]</text>
<text class="al" x="789" y="1158" text-anchor="middle">UTC</text>
</svg></body></html>
